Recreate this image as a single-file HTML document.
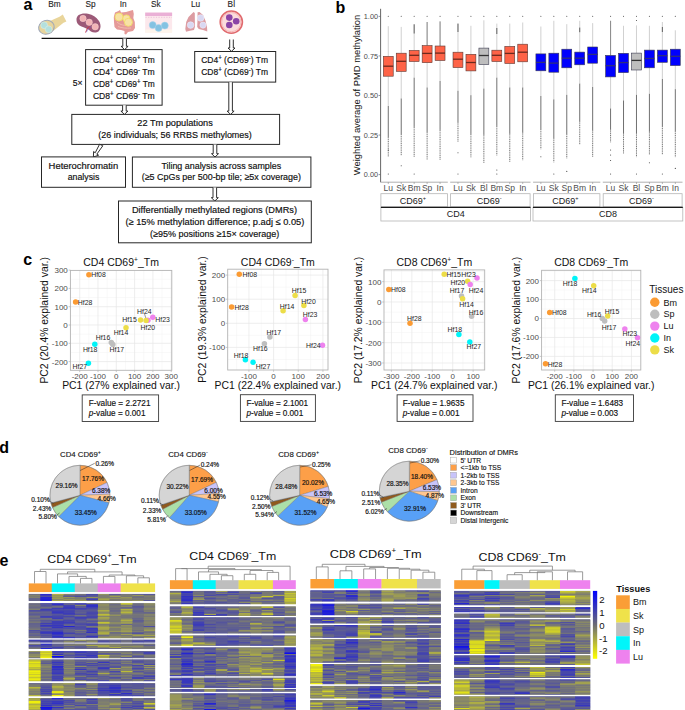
<!DOCTYPE html>
<html><head><meta charset="utf-8"><title>Figure</title>
<style>
html,body{margin:0;padding:0;background:#fff;overflow:hidden;}
svg{display:block;}
text{font-family:"Liberation Sans",sans-serif;}
</style></head><body>
<svg width="685" height="710" viewBox="0 0 685 710">
<rect width="685" height="710" fill="#fff"/>
<text x="23.60" y="9.90" font-size="16" font-weight="bold" fill="#000">a</text>
<text x="54.50" y="7.00" font-size="8.3" text-anchor="middle" fill="#222" stroke="#222" stroke-width="0.1">Bm</text>
<text x="90.50" y="7.00" font-size="8.3" text-anchor="middle" fill="#222" stroke="#222" stroke-width="0.1">Sp</text>
<text x="123.20" y="7.00" font-size="8.3" text-anchor="middle" fill="#222" stroke="#222" stroke-width="0.1">In</text>
<text x="155.80" y="7.00" font-size="8.3" text-anchor="middle" fill="#222" stroke="#222" stroke-width="0.1">Sk</text>
<text x="195.50" y="7.00" font-size="8.3" text-anchor="middle" fill="#222" stroke="#222" stroke-width="0.1">Lu</text>
<text x="231.30" y="7.00" font-size="8.3" text-anchor="middle" fill="#222" stroke="#222" stroke-width="0.1">Bl</text>
<g><path d="M46.5,22.5 L59.5,16.8 L62.8,14.6 L66.4,21.6 L63.5,22.8 L53.5,30.8 Z" fill="#e9d59b"/><ellipse cx="46.4" cy="27.3" rx="7.9" ry="6.8" transform="rotate(-18 46.4 27.3)" fill="#e7d49c" stroke="#9fa8b8" stroke-width="1"/><circle cx="44.2" cy="25.3" r="3.4" fill="#b4e0dd" stroke="#d8f0ee" stroke-width="0.5"/><circle cx="48.6" cy="29.3" r="3.4" fill="#b4e0dd" stroke="#d8f0ee" stroke-width="0.5"/></g>
<g><path d="M76.5,20 C76,14.5 82,12.6 88,13.8 C93,14.8 96,17 99,21 C102,25.5 100.5,32 96,32.5 C92,33 90,30.5 88,29.2 C85,27.5 82,27.2 79.5,25.5 C77.3,24 76.6,22 76.5,20 Z" fill="#9c5a78"/><circle cx="83" cy="18.5" r="3.2" fill="#f2b4b6" stroke="#f7d0d0" stroke-width="0.5"/><circle cx="89.2" cy="22.3" r="3.2" fill="#f2b4b6" stroke="#f7d0d0" stroke-width="0.5"/><circle cx="95.2" cy="26.8" r="3.2" fill="#f2b4b6" stroke="#f7d0d0" stroke-width="0.5"/><path d="M85.5,32.5 L87.5,28 L89.5,26.5 M87.5,28 L90.5,28.2" stroke="#d03a3a" stroke-width="0.9" fill="none"/><path d="M86.3,32.3 L88.3,28.4 L91,27" stroke="#6a5acd" stroke-width="0.6" fill="none"/></g>
<g><path d="M115,12.5 L118.5,11 L120,10 L121,12.5 L126,12 L131,10.5 L133,10 L133.8,14 L133.3,18 L134.8,22 L135,28 L133,31 L128,32 L126,34.5 L124.5,34 L124.5,31 L121,30 L117,29.5 L114.5,27 L114,22 L113.8,17 Z" fill="#e59a98"/><path d="M117,22 C120,25 125,26 130,25 M118,26.5 C122,28 126,28.5 131,28" stroke="#f2bcb0" stroke-width="1" fill="none"/><circle cx="119" cy="17" r="4" fill="#f8e2a6" stroke="#f0dc68" stroke-width="0.9"/><circle cx="126.4" cy="18.5" r="3.6" fill="#f8e2a6" stroke="#f0dc68" stroke-width="0.9"/><circle cx="128.4" cy="22.3" r="4" fill="#f8e2a6" stroke="#f0dc68" stroke-width="0.9"/></g>
<g><rect x="145.2" y="12.6" width="26.9" height="20" fill="#fce8ec"/><rect x="145.2" y="29.5" width="26.9" height="3.1" fill="#fdf5ec"/><rect x="145.2" y="12.6" width="26.9" height="3.4" fill="#eab0d6"/><line x1="145.5" y1="17.3" x2="172" y2="17.3" stroke="#e3a6cf" stroke-width="0.6" stroke-dasharray="1.2,1.4"/><circle cx="152.7" cy="25.1" r="3.5" fill="#84c2e2" stroke="#a8d4ec" stroke-width="0.5"/><circle cx="158.6" cy="27.9" r="3.5" fill="#84c2e2" stroke="#a8d4ec" stroke-width="0.5"/><circle cx="164.8" cy="25.6" r="3.5" fill="#84c2e2" stroke="#a8d4ec" stroke-width="0.5"/></g>
<g><path d="M193.5,12 L194.8,13 L194.9,27 L194,30 L190,30.8 L186,31.8 L185.3,29 L186.2,22 L188.5,17 Z" fill="#dc9ca2"/><path d="M197.6,12.3 L199.5,12 L203,15 L205.6,21 L207,27 L207.3,31.5 L203,30 L198.8,29 L197.2,27 L197.5,20 Z" fill="#dc9ca2"/><circle cx="190.6" cy="25.1" r="3.3" fill="#d9d8f2" stroke="#ecebf8" stroke-width="0.6"/><circle cx="200.7" cy="18" r="3.3" fill="#d9d8f2" stroke="#ecebf8" stroke-width="0.6"/><circle cx="203" cy="25.1" r="3.1" fill="#d9d8f2" stroke="#ecebf8" stroke-width="0.6"/></g>
<g><circle cx="231.3" cy="22.1" r="11.1" fill="#fbdcdc" stroke="#e06a6e" stroke-width="1.6"/><circle cx="231.3" cy="22.1" r="9.6" fill="none" stroke="#f4b0b0" stroke-width="0.8"/><circle cx="229.3" cy="17.6" r="3.3" fill="#8a44a6"/><circle cx="236.2" cy="21.3" r="3.3" fill="#8a44a6"/><circle cx="229.3" cy="25" r="3.3" fill="#8a44a6"/></g>
<line x1="41.6" y1="38.4" x2="207.6" y2="38.4" stroke="#111" stroke-width="1.1"/>
<path d="M122.80,38.60 L122.80,46.30 L121.10,46.30 L124.60,49.60 L128.10,46.30 L126.40,46.30 L126.40,38.60" fill="#fff" stroke="#1a1a1a" stroke-width="0.9" stroke-linejoin="miter"/>
<path d="M229.70,39.50 L229.70,48.00 L228.00,48.00 L231.50,51.30 L235.00,48.00 L233.30,48.00 L233.30,39.50" fill="#fff" stroke="#1a1a1a" stroke-width="0.9" stroke-linejoin="miter"/>
<rect x="85.6" y="49.6" width="76.5" height="55.6" fill="#fff" stroke="#262626" stroke-width="1"/>
<text x="92.90" y="62.50" font-size="9.3" fill="#111" stroke="#111" stroke-width="0.18" textLength="61.90" lengthAdjust="spacingAndGlyphs"><tspan>CD4</tspan><tspan font-size="6.70" baseline-shift="2.79">+</tspan><tspan> CD69</tspan><tspan font-size="6.70" baseline-shift="2.79">+</tspan><tspan> Tm</tspan></text>
<text x="92.90" y="74.55" font-size="9.3" fill="#111" stroke="#111" stroke-width="0.18" textLength="61.90" lengthAdjust="spacingAndGlyphs"><tspan>CD4</tspan><tspan font-size="6.70" baseline-shift="2.79">+</tspan><tspan> CD69</tspan><tspan font-size="6.70" baseline-shift="2.79">-</tspan><tspan> Tm</tspan></text>
<text x="92.90" y="86.60" font-size="9.3" fill="#111" stroke="#111" stroke-width="0.18" textLength="61.90" lengthAdjust="spacingAndGlyphs"><tspan>CD8</tspan><tspan font-size="6.70" baseline-shift="2.79">+</tspan><tspan> CD69</tspan><tspan font-size="6.70" baseline-shift="2.79">+</tspan><tspan> Tm</tspan></text>
<text x="92.90" y="98.65" font-size="9.3" fill="#111" stroke="#111" stroke-width="0.18" textLength="61.90" lengthAdjust="spacingAndGlyphs"><tspan>CD8</tspan><tspan font-size="6.70" baseline-shift="2.79">+</tspan><tspan> CD69</tspan><tspan font-size="6.70" baseline-shift="2.79">-</tspan><tspan> Tm</tspan></text>
<text x="72.70" y="86.30" font-size="9.3" fill="#111" stroke="#111" stroke-width="0.18" textLength="9.80" lengthAdjust="spacingAndGlyphs">5×</text>
<rect x="194.7" y="51.5" width="81" height="30.6" fill="#fff" stroke="#262626" stroke-width="1"/>
<text x="201.20" y="63.10" font-size="9.3" fill="#111" stroke="#111" stroke-width="0.18" textLength="66.80" lengthAdjust="spacingAndGlyphs"><tspan>CD4</tspan><tspan font-size="6.70" baseline-shift="2.79">+</tspan><tspan> (CD69</tspan><tspan font-size="6.70" baseline-shift="2.79">-</tspan><tspan>) Tm</tspan></text>
<text x="201.20" y="75.20" font-size="9.3" fill="#111" stroke="#111" stroke-width="0.18" textLength="66.80" lengthAdjust="spacingAndGlyphs"><tspan>CD8</tspan><tspan font-size="6.70" baseline-shift="2.79">+</tspan><tspan> (CD69</tspan><tspan font-size="6.70" baseline-shift="2.79">-</tspan><tspan>) Tm</tspan></text>
<path d="M122.60,105.30 L122.60,111.10 L120.90,111.10 L124.40,114.40 L127.90,111.10 L126.20,111.10 L126.20,105.30" fill="#fff" stroke="#1a1a1a" stroke-width="0.9" stroke-linejoin="miter"/>
<path d="M228.80,82.20 L228.80,111.10 L227.10,111.10 L230.60,114.40 L234.10,111.10 L232.40,111.10 L232.40,82.20" fill="#fff" stroke="#1a1a1a" stroke-width="0.9" stroke-linejoin="miter"/>
<rect x="71.8" y="114.4" width="207.8" height="30" fill="#fff" stroke="#262626" stroke-width="1"/>
<text x="137.30" y="126.20" font-size="9.3" fill="#111" stroke="#111" stroke-width="0.18" textLength="75.50" lengthAdjust="spacingAndGlyphs">22 Tm populations</text>
<text x="98.30" y="137.80" font-size="9.3" fill="#111" stroke="#111" stroke-width="0.18" textLength="153.50" lengthAdjust="spacingAndGlyphs">(26 individuals; 56 RRBS methylomes)</text>
<path d="M99.6,144.2 L102.8,145.8 L96.8,154.2 L98.6,155.2 L93.4,157 L93.6,151.5 L95.2,152.8 Z" fill="#fff" stroke="#1a1a1a" stroke-width="0.9"/>
<path d="M213.20,144.60 L213.20,153.70 L211.50,153.70 L215.00,157.00 L218.50,153.70 L216.80,153.70 L216.80,144.60" fill="#fff" stroke="#1a1a1a" stroke-width="0.9" stroke-linejoin="miter"/>
<rect x="41.5" y="156.9" width="84" height="30.4" fill="#fff" stroke="#262626" stroke-width="1"/>
<text x="48.60" y="168.50" font-size="9.3" fill="#111" stroke="#111" stroke-width="0.18" textLength="69.60" lengthAdjust="spacingAndGlyphs">Heterochromatin</text>
<text x="67.70" y="180.10" font-size="9.3" fill="#111" stroke="#111" stroke-width="0.18" textLength="31.70" lengthAdjust="spacingAndGlyphs">analysis</text>
<rect x="132.4" y="157.0" width="178.5" height="30.3" fill="#fff" stroke="#262626" stroke-width="1"/>
<text x="161.40" y="168.50" font-size="9.3" fill="#111" stroke="#111" stroke-width="0.18" textLength="119.80" lengthAdjust="spacingAndGlyphs">Tiling analysis across samples</text>
<text x="141.70" y="180.10" font-size="9.3" fill="#111" stroke="#111" stroke-width="0.18" textLength="159.30" lengthAdjust="spacingAndGlyphs">(≥5 CpGs per 500-bp tile; ≥5x coverage)</text>
<path d="M213.00,187.50 L213.00,197.70 L211.30,197.70 L214.80,201.00 L218.30,197.70 L216.60,197.70 L216.60,187.50" fill="#fff" stroke="#1a1a1a" stroke-width="0.9" stroke-linejoin="miter"/>
<rect x="118.5" y="201.0" width="192.8" height="41.8" fill="#fff" stroke="#262626" stroke-width="1"/>
<text x="131.90" y="213.20" font-size="9.3" fill="#111" stroke="#111" stroke-width="0.18" textLength="165.10" lengthAdjust="spacingAndGlyphs">Differentially methylated regions (DMRs)</text>
<text x="125.40" y="225.00" font-size="9.3" fill="#111" stroke="#111" stroke-width="0.18" textLength="178.90" lengthAdjust="spacingAndGlyphs">(≥ 15% methylation difference; p.adj ≤ 0.05)</text>
<text x="150.00" y="236.70" font-size="9.3" fill="#111" stroke="#111" stroke-width="0.18" textLength="129.20" lengthAdjust="spacingAndGlyphs">(≥95% positions ≥15× coverage)</text>
<text x="335.60" y="12.70" font-size="16" font-weight="bold" fill="#000">b</text>
<line x1="380.6" y1="8.8" x2="380.6" y2="182.2" stroke="#555" stroke-width="0.9"/>
<line x1="378.6" y1="16.40" x2="380.6" y2="16.40" stroke="#666" stroke-width="0.7"/>
<text x="378.00" y="19.05" font-size="7.3" text-anchor="end" fill="#4d4d4d">1.00</text>
<line x1="378.6" y1="55.95" x2="380.6" y2="55.95" stroke="#666" stroke-width="0.7"/>
<text x="378.00" y="58.60" font-size="7.3" text-anchor="end" fill="#4d4d4d">0.75</text>
<line x1="378.6" y1="95.50" x2="380.6" y2="95.50" stroke="#666" stroke-width="0.7"/>
<text x="378.00" y="98.15" font-size="7.3" text-anchor="end" fill="#4d4d4d">0.50</text>
<line x1="378.6" y1="135.05" x2="380.6" y2="135.05" stroke="#666" stroke-width="0.7"/>
<text x="378.00" y="137.70" font-size="7.3" text-anchor="end" fill="#4d4d4d">0.25</text>
<line x1="378.6" y1="174.60" x2="380.6" y2="174.60" stroke="#666" stroke-width="0.7"/>
<text x="378.00" y="177.25" font-size="7.3" text-anchor="end" fill="#4d4d4d">0.00</text>
<text transform="translate(359.6,95) rotate(-90)" x="0" y="0" font-size="9.4" text-anchor="middle" fill="#111">Weighted average of PMD methylation</text>
<line x1="380.50" y1="182.2" x2="447.80" y2="182.2" stroke="#9a9a9a" stroke-width="0.8"/>
<circle cx="388.27" cy="16.3" r="0.55" fill="#444"/>
<circle cx="388.27" cy="174.00" r="0.55" fill="#444"/>
<circle cx="388.27" cy="150.00" r="0.55" fill="#444"/>
<line x1="388.27" y1="26.20" x2="388.27" y2="56.30" stroke="#b0b0b0" stroke-width="0.6"/>
<line x1="388.27" y1="76.20" x2="388.27" y2="106.00" stroke="#b0b0b0" stroke-width="0.6"/>
<line x1="388.27" y1="106.00" x2="388.27" y2="137.31" stroke="#404040" stroke-width="0.75"/>
<line x1="388.27" y1="137.31" x2="388.27" y2="156.50" stroke="#404040" stroke-width="0.75" stroke-dasharray="1.1,0.7"/>
<rect x="383.32" y="56.30" width="9.90" height="19.90" fill="#fe6347" stroke="#5a3a35" stroke-width="0.6"/>
<line x1="383.32" y1="66.20" x2="393.22" y2="66.20" stroke="#6b2a1e" stroke-width="1.3"/>
<line x1="388.27" y1="182.2" x2="388.27" y2="184.0" stroke="#888" stroke-width="0.6"/>
<text x="388.27" y="191.40" font-size="8.5" text-anchor="middle" fill="#4d4d4d">Lu</text>
<circle cx="401.22" cy="16.3" r="0.55" fill="#444"/>
<circle cx="401.22" cy="165.70" r="0.55" fill="#444"/>
<line x1="401.22" y1="26.90" x2="401.22" y2="53.20" stroke="#b0b0b0" stroke-width="0.6"/>
<line x1="401.22" y1="71.40" x2="401.22" y2="98.50" stroke="#b0b0b0" stroke-width="0.6"/>
<line x1="401.22" y1="98.50" x2="401.22" y2="134.03" stroke="#404040" stroke-width="0.75"/>
<line x1="401.22" y1="134.03" x2="401.22" y2="155.80" stroke="#404040" stroke-width="0.75" stroke-dasharray="1.1,0.7"/>
<rect x="396.27" y="53.20" width="9.90" height="18.20" fill="#fe6347" stroke="#5a3a35" stroke-width="0.6"/>
<line x1="396.27" y1="61.30" x2="406.17" y2="61.30" stroke="#6b2a1e" stroke-width="1.3"/>
<line x1="401.22" y1="182.2" x2="401.22" y2="184.0" stroke="#888" stroke-width="0.6"/>
<text x="401.22" y="191.40" font-size="8.5" text-anchor="middle" fill="#4d4d4d">Sk</text>
<circle cx="414.17" cy="16.3" r="0.55" fill="#444"/>
<circle cx="414.17" cy="174.00" r="0.55" fill="#444"/>
<line x1="414.17" y1="24.30" x2="414.17" y2="50.40" stroke="#b0b0b0" stroke-width="0.6"/>
<line x1="414.17" y1="61.50" x2="414.17" y2="77.70" stroke="#b0b0b0" stroke-width="0.6"/>
<line x1="414.17" y1="24.30" x2="414.17" y2="33.50" stroke="#555" stroke-width="0.9"/>
<line x1="414.17" y1="77.70" x2="414.17" y2="126.87" stroke="#404040" stroke-width="0.75"/>
<line x1="414.17" y1="126.87" x2="414.17" y2="157.00" stroke="#404040" stroke-width="0.75" stroke-dasharray="1.1,0.7"/>
<rect x="409.22" y="50.40" width="9.90" height="11.10" fill="#fe6347" stroke="#5a3a35" stroke-width="0.6"/>
<line x1="409.22" y1="55.30" x2="419.12" y2="55.30" stroke="#6b2a1e" stroke-width="1.3"/>
<line x1="414.17" y1="182.2" x2="414.17" y2="184.0" stroke="#888" stroke-width="0.6"/>
<text x="414.17" y="191.40" font-size="8.5" text-anchor="middle" fill="#4d4d4d">Bm</text>
<circle cx="427.12" cy="16.3" r="0.55" fill="#444"/>
<line x1="427.12" y1="22.00" x2="427.12" y2="45.60" stroke="#b0b0b0" stroke-width="0.6"/>
<line x1="427.12" y1="62.70" x2="427.12" y2="87.50" stroke="#b0b0b0" stroke-width="0.6"/>
<line x1="427.12" y1="22.00" x2="427.12" y2="45.60" stroke="#6a6a6a" stroke-width="0.7"/>
<line x1="427.12" y1="87.50" x2="427.12" y2="132.33" stroke="#404040" stroke-width="0.75"/>
<line x1="427.12" y1="132.33" x2="427.12" y2="159.80" stroke="#404040" stroke-width="0.75" stroke-dasharray="1.1,0.7"/>
<rect x="422.17" y="45.60" width="9.90" height="17.10" fill="#fe6347" stroke="#5a3a35" stroke-width="0.6"/>
<line x1="422.17" y1="53.40" x2="432.07" y2="53.40" stroke="#6b2a1e" stroke-width="1.3"/>
<line x1="427.12" y1="182.2" x2="427.12" y2="184.0" stroke="#888" stroke-width="0.6"/>
<text x="427.12" y="191.40" font-size="8.5" text-anchor="middle" fill="#4d4d4d">Sp</text>
<circle cx="440.07" cy="16.3" r="0.55" fill="#444"/>
<line x1="440.07" y1="21.40" x2="440.07" y2="46.00" stroke="#b0b0b0" stroke-width="0.6"/>
<line x1="440.07" y1="60.50" x2="440.07" y2="81.00" stroke="#b0b0b0" stroke-width="0.6"/>
<line x1="440.07" y1="21.40" x2="440.07" y2="46.00" stroke="#6a6a6a" stroke-width="0.7"/>
<line x1="440.07" y1="81.00" x2="440.07" y2="129.86" stroke="#404040" stroke-width="0.75"/>
<line x1="440.07" y1="129.86" x2="440.07" y2="159.80" stroke="#404040" stroke-width="0.75" stroke-dasharray="1.1,0.7"/>
<rect x="435.12" y="46.00" width="9.90" height="14.50" fill="#fe6347" stroke="#5a3a35" stroke-width="0.6"/>
<line x1="435.12" y1="53.10" x2="445.02" y2="53.10" stroke="#6b2a1e" stroke-width="1.3"/>
<line x1="440.07" y1="182.2" x2="440.07" y2="184.0" stroke="#888" stroke-width="0.6"/>
<text x="440.07" y="191.40" font-size="8.5" text-anchor="middle" fill="#4d4d4d">In</text>
<rect x="380.90" y="193.7" width="66.50" height="13.1" fill="#fff" stroke="#b5b5b5" stroke-width="0.8"/>
<text x="412.95" y="204.2" font-size="9" text-anchor="middle" fill="#1a1a1a">CD69<tspan font-size="5.6" baseline-shift="3.6">+</tspan></text>
<line x1="450.20" y1="182.2" x2="530.50" y2="182.2" stroke="#9a9a9a" stroke-width="0.8"/>
<circle cx="457.97" cy="16.3" r="0.55" fill="#444"/>
<circle cx="457.97" cy="152.80" r="0.55" fill="#444"/>
<circle cx="457.97" cy="174.00" r="0.55" fill="#444"/>
<line x1="457.97" y1="23.60" x2="457.97" y2="52.20" stroke="#b0b0b0" stroke-width="0.6"/>
<line x1="457.97" y1="67.60" x2="457.97" y2="90.80" stroke="#b0b0b0" stroke-width="0.6"/>
<line x1="457.97" y1="23.60" x2="457.97" y2="32.00" stroke="#555" stroke-width="0.9"/>
<line x1="457.97" y1="90.80" x2="457.97" y2="122.54" stroke="#404040" stroke-width="0.75"/>
<line x1="457.97" y1="122.54" x2="457.97" y2="142.00" stroke="#404040" stroke-width="0.75" stroke-dasharray="1.1,0.7"/>
<rect x="453.02" y="52.20" width="9.90" height="15.40" fill="#fe6347" stroke="#5a3a35" stroke-width="0.6"/>
<line x1="453.02" y1="59.20" x2="462.92" y2="59.20" stroke="#6b2a1e" stroke-width="1.3"/>
<line x1="457.97" y1="182.2" x2="457.97" y2="184.0" stroke="#888" stroke-width="0.6"/>
<text x="457.97" y="191.40" font-size="8.5" text-anchor="middle" fill="#4d4d4d">Lu</text>
<circle cx="470.92" cy="16.3" r="0.55" fill="#444"/>
<line x1="470.92" y1="25.80" x2="470.92" y2="54.30" stroke="#b0b0b0" stroke-width="0.6"/>
<line x1="470.92" y1="70.90" x2="470.92" y2="95.20" stroke="#b0b0b0" stroke-width="0.6"/>
<line x1="470.92" y1="95.20" x2="470.92" y2="133.89" stroke="#404040" stroke-width="0.75"/>
<line x1="470.92" y1="133.89" x2="470.92" y2="157.60" stroke="#404040" stroke-width="0.75" stroke-dasharray="1.1,0.7"/>
<rect x="465.97" y="54.30" width="9.90" height="16.60" fill="#fe6347" stroke="#5a3a35" stroke-width="0.6"/>
<line x1="465.97" y1="62.50" x2="475.87" y2="62.50" stroke="#6b2a1e" stroke-width="1.3"/>
<line x1="470.92" y1="182.2" x2="470.92" y2="184.0" stroke="#888" stroke-width="0.6"/>
<text x="470.92" y="191.40" font-size="8.5" text-anchor="middle" fill="#4d4d4d">Sk</text>
<circle cx="483.87" cy="16.3" r="0.55" fill="#444"/>
<line x1="483.87" y1="20.30" x2="483.87" y2="48.10" stroke="#b0b0b0" stroke-width="0.6"/>
<line x1="483.87" y1="64.60" x2="483.87" y2="88.60" stroke="#b0b0b0" stroke-width="0.6"/>
<line x1="483.87" y1="88.60" x2="483.87" y2="134.73" stroke="#404040" stroke-width="0.75"/>
<line x1="483.87" y1="134.73" x2="483.87" y2="163.00" stroke="#404040" stroke-width="0.75" stroke-dasharray="1.1,0.7"/>
<rect x="478.92" y="48.10" width="9.90" height="16.50" fill="#bebebe" stroke="#3a3a50" stroke-width="0.6"/>
<line x1="478.92" y1="55.50" x2="488.82" y2="55.50" stroke="#333" stroke-width="1.3"/>
<line x1="483.87" y1="182.2" x2="483.87" y2="184.0" stroke="#888" stroke-width="0.6"/>
<text x="483.87" y="191.40" font-size="8.5" text-anchor="middle" fill="#4d4d4d">Bl</text>
<circle cx="496.82" cy="16.3" r="0.55" fill="#444"/>
<circle cx="496.82" cy="170.00" r="0.55" fill="#444"/>
<circle cx="496.82" cy="174.00" r="0.55" fill="#444"/>
<line x1="496.82" y1="23.60" x2="496.82" y2="50.20" stroke="#b0b0b0" stroke-width="0.6"/>
<line x1="496.82" y1="61.50" x2="496.82" y2="77.70" stroke="#b0b0b0" stroke-width="0.6"/>
<line x1="496.82" y1="28.00" x2="496.82" y2="34.00" stroke="#555" stroke-width="0.9"/>
<line x1="496.82" y1="77.70" x2="496.82" y2="125.87" stroke="#404040" stroke-width="0.75"/>
<line x1="496.82" y1="125.87" x2="496.82" y2="155.40" stroke="#404040" stroke-width="0.75" stroke-dasharray="1.1,0.7"/>
<rect x="491.87" y="50.20" width="9.90" height="11.30" fill="#fe6347" stroke="#5a3a35" stroke-width="0.6"/>
<line x1="491.87" y1="55.30" x2="501.77" y2="55.30" stroke="#6b2a1e" stroke-width="1.3"/>
<line x1="496.82" y1="182.2" x2="496.82" y2="184.0" stroke="#888" stroke-width="0.6"/>
<text x="496.82" y="191.40" font-size="8.5" text-anchor="middle" fill="#4d4d4d">Bm</text>
<circle cx="509.77" cy="16.3" r="0.55" fill="#444"/>
<line x1="509.77" y1="23.60" x2="509.77" y2="46.40" stroke="#b0b0b0" stroke-width="0.6"/>
<line x1="509.77" y1="63.50" x2="509.77" y2="87.50" stroke="#b0b0b0" stroke-width="0.6"/>
<line x1="509.77" y1="87.50" x2="509.77" y2="133.69" stroke="#404040" stroke-width="0.75"/>
<line x1="509.77" y1="133.69" x2="509.77" y2="162.00" stroke="#404040" stroke-width="0.75" stroke-dasharray="1.1,0.7"/>
<rect x="504.82" y="46.40" width="9.90" height="17.10" fill="#fe6347" stroke="#5a3a35" stroke-width="0.6"/>
<line x1="504.82" y1="53.40" x2="514.72" y2="53.40" stroke="#6b2a1e" stroke-width="1.3"/>
<line x1="509.77" y1="182.2" x2="509.77" y2="184.0" stroke="#888" stroke-width="0.6"/>
<text x="509.77" y="191.40" font-size="8.5" text-anchor="middle" fill="#4d4d4d">Sp</text>
<circle cx="522.72" cy="16.3" r="0.55" fill="#444"/>
<line x1="522.72" y1="22.50" x2="522.72" y2="44.20" stroke="#b0b0b0" stroke-width="0.6"/>
<line x1="522.72" y1="61.80" x2="522.72" y2="87.50" stroke="#b0b0b0" stroke-width="0.6"/>
<line x1="522.72" y1="87.50" x2="522.72" y2="132.57" stroke="#404040" stroke-width="0.75"/>
<line x1="522.72" y1="132.57" x2="522.72" y2="160.20" stroke="#404040" stroke-width="0.75" stroke-dasharray="1.1,0.7"/>
<rect x="517.77" y="44.20" width="9.90" height="17.60" fill="#fe6347" stroke="#5a3a35" stroke-width="0.6"/>
<line x1="517.77" y1="52.20" x2="527.67" y2="52.20" stroke="#6b2a1e" stroke-width="1.3"/>
<line x1="522.72" y1="182.2" x2="522.72" y2="184.0" stroke="#888" stroke-width="0.6"/>
<text x="522.72" y="191.40" font-size="8.5" text-anchor="middle" fill="#4d4d4d">In</text>
<rect x="450.60" y="193.7" width="79.50" height="13.1" fill="#fff" stroke="#b5b5b5" stroke-width="0.8"/>
<text x="489.15" y="204.2" font-size="9" text-anchor="middle" fill="#1a1a1a">CD69<tspan font-size="5.6" baseline-shift="3.6">-</tspan></text>
<line x1="533.10" y1="182.2" x2="600.30" y2="182.2" stroke="#9a9a9a" stroke-width="0.8"/>
<circle cx="540.87" cy="16.3" r="0.55" fill="#444"/>
<circle cx="540.87" cy="156.70" r="0.55" fill="#444"/>
<line x1="540.87" y1="26.50" x2="540.87" y2="53.90" stroke="#b0b0b0" stroke-width="0.6"/>
<line x1="540.87" y1="70.80" x2="540.87" y2="96.00" stroke="#b0b0b0" stroke-width="0.6"/>
<line x1="540.87" y1="96.00" x2="540.87" y2="128.98" stroke="#404040" stroke-width="0.75"/>
<line x1="540.87" y1="128.98" x2="540.87" y2="149.20" stroke="#404040" stroke-width="0.75" stroke-dasharray="1.1,0.7"/>
<rect x="535.92" y="53.90" width="9.90" height="16.90" fill="#0000fe" stroke="#3a3a50" stroke-width="0.6"/>
<line x1="535.92" y1="62.40" x2="545.82" y2="62.40" stroke="#30307a" stroke-width="1.3"/>
<line x1="540.87" y1="182.2" x2="540.87" y2="184.0" stroke="#888" stroke-width="0.6"/>
<text x="540.87" y="191.40" font-size="8.5" text-anchor="middle" fill="#4d4d4d">Lu</text>
<circle cx="553.82" cy="16.3" r="0.55" fill="#444"/>
<circle cx="553.82" cy="174.00" r="0.55" fill="#444"/>
<line x1="553.82" y1="20.80" x2="553.82" y2="53.20" stroke="#b0b0b0" stroke-width="0.6"/>
<line x1="553.82" y1="72.20" x2="553.82" y2="99.40" stroke="#b0b0b0" stroke-width="0.6"/>
<line x1="553.82" y1="99.40" x2="553.82" y2="138.40" stroke="#404040" stroke-width="0.75"/>
<line x1="553.82" y1="138.40" x2="553.82" y2="162.30" stroke="#404040" stroke-width="0.75" stroke-dasharray="1.1,0.7"/>
<rect x="548.87" y="53.20" width="9.90" height="19.00" fill="#0000fe" stroke="#3a3a50" stroke-width="0.6"/>
<line x1="548.87" y1="63.10" x2="558.77" y2="63.10" stroke="#30307a" stroke-width="1.3"/>
<line x1="553.82" y1="182.2" x2="553.82" y2="184.0" stroke="#888" stroke-width="0.6"/>
<text x="553.82" y="191.40" font-size="8.5" text-anchor="middle" fill="#4d4d4d">Sk</text>
<circle cx="566.77" cy="16.3" r="0.55" fill="#444"/>
<circle cx="566.77" cy="171.40" r="0.55" fill="#444"/>
<line x1="566.77" y1="24.20" x2="566.77" y2="49.20" stroke="#b0b0b0" stroke-width="0.6"/>
<line x1="566.77" y1="67.80" x2="566.77" y2="94.90" stroke="#b0b0b0" stroke-width="0.6"/>
<line x1="566.77" y1="94.90" x2="566.77" y2="134.21" stroke="#404040" stroke-width="0.75"/>
<line x1="566.77" y1="134.21" x2="566.77" y2="158.30" stroke="#404040" stroke-width="0.75" stroke-dasharray="1.1,0.7"/>
<rect x="561.82" y="49.20" width="9.90" height="18.60" fill="#0000fe" stroke="#3a3a50" stroke-width="0.6"/>
<line x1="561.82" y1="58.20" x2="571.72" y2="58.20" stroke="#30307a" stroke-width="1.3"/>
<line x1="566.77" y1="182.2" x2="566.77" y2="184.0" stroke="#888" stroke-width="0.6"/>
<text x="566.77" y="191.40" font-size="8.5" text-anchor="middle" fill="#4d4d4d">Sp</text>
<circle cx="579.72" cy="16.3" r="0.55" fill="#444"/>
<line x1="579.72" y1="20.80" x2="579.72" y2="52.10" stroke="#b0b0b0" stroke-width="0.6"/>
<line x1="579.72" y1="64.80" x2="579.72" y2="83.60" stroke="#b0b0b0" stroke-width="0.6"/>
<line x1="579.72" y1="27.60" x2="579.72" y2="32.20" stroke="#555" stroke-width="0.9"/>
<line x1="579.72" y1="83.60" x2="579.72" y2="121.48" stroke="#404040" stroke-width="0.75"/>
<line x1="579.72" y1="121.48" x2="579.72" y2="144.70" stroke="#404040" stroke-width="0.75" stroke-dasharray="1.1,0.7"/>
<rect x="574.77" y="52.10" width="9.90" height="12.70" fill="#0000fe" stroke="#3a3a50" stroke-width="0.6"/>
<line x1="574.77" y1="58.20" x2="584.67" y2="58.20" stroke="#30307a" stroke-width="1.3"/>
<line x1="579.72" y1="182.2" x2="579.72" y2="184.0" stroke="#888" stroke-width="0.6"/>
<text x="579.72" y="191.40" font-size="8.5" text-anchor="middle" fill="#4d4d4d">Bm</text>
<circle cx="592.67" cy="16.3" r="0.55" fill="#444"/>
<line x1="592.67" y1="23.10" x2="592.67" y2="47.00" stroke="#b0b0b0" stroke-width="0.6"/>
<line x1="592.67" y1="63.20" x2="592.67" y2="87.00" stroke="#b0b0b0" stroke-width="0.6"/>
<line x1="592.67" y1="87.00" x2="592.67" y2="130.46" stroke="#404040" stroke-width="0.75"/>
<line x1="592.67" y1="130.46" x2="592.67" y2="157.10" stroke="#404040" stroke-width="0.75" stroke-dasharray="1.1,0.7"/>
<rect x="587.72" y="47.00" width="9.90" height="16.20" fill="#0000fe" stroke="#3a3a50" stroke-width="0.6"/>
<line x1="587.72" y1="54.40" x2="597.62" y2="54.40" stroke="#30307a" stroke-width="1.3"/>
<line x1="592.67" y1="182.2" x2="592.67" y2="184.0" stroke="#888" stroke-width="0.6"/>
<text x="592.67" y="191.40" font-size="8.5" text-anchor="middle" fill="#4d4d4d">In</text>
<rect x="533.50" y="193.7" width="66.40" height="13.1" fill="#fff" stroke="#b5b5b5" stroke-width="0.8"/>
<text x="565.50" y="204.2" font-size="9" text-anchor="middle" fill="#1a1a1a">CD69<tspan font-size="5.6" baseline-shift="3.6">+</tspan></text>
<line x1="602.80" y1="182.2" x2="682.50" y2="182.2" stroke="#9a9a9a" stroke-width="0.8"/>
<circle cx="610.57" cy="16.3" r="0.55" fill="#444"/>
<circle cx="610.57" cy="150.00" r="0.55" fill="#444"/>
<circle cx="610.57" cy="155.00" r="0.55" fill="#444"/>
<circle cx="610.57" cy="160.50" r="0.55" fill="#444"/>
<circle cx="610.57" cy="174.00" r="0.55" fill="#444"/>
<line x1="610.57" y1="20.80" x2="610.57" y2="55.40" stroke="#b0b0b0" stroke-width="0.6"/>
<line x1="610.57" y1="76.90" x2="610.57" y2="108.50" stroke="#b0b0b0" stroke-width="0.6"/>
<line x1="610.57" y1="20.80" x2="610.57" y2="55.40" stroke="#6a6a6a" stroke-width="0.7"/>
<line x1="610.57" y1="108.50" x2="610.57" y2="129.52" stroke="#404040" stroke-width="0.75"/>
<line x1="610.57" y1="129.52" x2="610.57" y2="142.40" stroke="#404040" stroke-width="0.75" stroke-dasharray="1.1,0.7"/>
<rect x="605.62" y="55.40" width="9.90" height="21.50" fill="#0000fe" stroke="#3a3a50" stroke-width="0.6"/>
<line x1="605.62" y1="65.70" x2="615.52" y2="65.70" stroke="#30307a" stroke-width="1.3"/>
<line x1="610.57" y1="182.2" x2="610.57" y2="184.0" stroke="#888" stroke-width="0.6"/>
<text x="610.57" y="191.40" font-size="8.5" text-anchor="middle" fill="#4d4d4d">Lu</text>
<circle cx="623.52" cy="16.3" r="0.55" fill="#444"/>
<line x1="623.52" y1="25.80" x2="623.52" y2="53.30" stroke="#b0b0b0" stroke-width="0.6"/>
<line x1="623.52" y1="72.60" x2="623.52" y2="100.50" stroke="#b0b0b0" stroke-width="0.6"/>
<line x1="623.52" y1="100.50" x2="623.52" y2="133.48" stroke="#404040" stroke-width="0.75"/>
<line x1="623.52" y1="133.48" x2="623.52" y2="153.70" stroke="#404040" stroke-width="0.75" stroke-dasharray="1.1,0.7"/>
<rect x="618.57" y="53.30" width="9.90" height="19.30" fill="#0000fe" stroke="#3a3a50" stroke-width="0.6"/>
<line x1="618.57" y1="62.60" x2="628.47" y2="62.60" stroke="#30307a" stroke-width="1.3"/>
<line x1="623.52" y1="182.2" x2="623.52" y2="184.0" stroke="#888" stroke-width="0.6"/>
<text x="623.52" y="191.40" font-size="8.5" text-anchor="middle" fill="#4d4d4d">Sk</text>
<circle cx="636.47" cy="16.3" r="0.55" fill="#444"/>
<circle cx="636.47" cy="174.00" r="0.55" fill="#444"/>
<circle cx="636.47" cy="20.50" r="0.55" fill="#444"/>
<line x1="636.47" y1="25.40" x2="636.47" y2="53.10" stroke="#b0b0b0" stroke-width="0.6"/>
<line x1="636.47" y1="70.00" x2="636.47" y2="94.90" stroke="#b0b0b0" stroke-width="0.6"/>
<line x1="636.47" y1="94.90" x2="636.47" y2="133.46" stroke="#404040" stroke-width="0.75"/>
<line x1="636.47" y1="133.46" x2="636.47" y2="157.10" stroke="#404040" stroke-width="0.75" stroke-dasharray="1.1,0.7"/>
<rect x="631.52" y="53.10" width="9.90" height="16.90" fill="#bebebe" stroke="#3a3a50" stroke-width="0.6"/>
<line x1="631.52" y1="60.40" x2="641.42" y2="60.40" stroke="#333" stroke-width="1.3"/>
<line x1="636.47" y1="182.2" x2="636.47" y2="184.0" stroke="#888" stroke-width="0.6"/>
<text x="636.47" y="191.40" font-size="8.5" text-anchor="middle" fill="#4d4d4d">Bl</text>
<circle cx="649.42" cy="16.3" r="0.55" fill="#444"/>
<circle cx="649.42" cy="162.80" r="0.55" fill="#444"/>
<line x1="649.42" y1="25.80" x2="649.42" y2="50.10" stroke="#b0b0b0" stroke-width="0.6"/>
<line x1="649.42" y1="67.80" x2="649.42" y2="93.80" stroke="#b0b0b0" stroke-width="0.6"/>
<line x1="649.42" y1="93.80" x2="649.42" y2="131.68" stroke="#404040" stroke-width="0.75"/>
<line x1="649.42" y1="131.68" x2="649.42" y2="154.90" stroke="#404040" stroke-width="0.75" stroke-dasharray="1.1,0.7"/>
<rect x="644.47" y="50.10" width="9.90" height="17.70" fill="#0000fe" stroke="#3a3a50" stroke-width="0.6"/>
<line x1="644.47" y1="58.50" x2="654.37" y2="58.50" stroke="#30307a" stroke-width="1.3"/>
<line x1="649.42" y1="182.2" x2="649.42" y2="184.0" stroke="#888" stroke-width="0.6"/>
<text x="649.42" y="191.40" font-size="8.5" text-anchor="middle" fill="#4d4d4d">Sp</text>
<circle cx="662.37" cy="16.3" r="0.55" fill="#444"/>
<circle cx="662.37" cy="174.00" r="0.55" fill="#444"/>
<line x1="662.37" y1="22.00" x2="662.37" y2="50.10" stroke="#b0b0b0" stroke-width="0.6"/>
<line x1="662.37" y1="62.30" x2="662.37" y2="79.00" stroke="#b0b0b0" stroke-width="0.6"/>
<line x1="662.37" y1="27.00" x2="662.37" y2="32.00" stroke="#555" stroke-width="0.9"/>
<line x1="662.37" y1="79.00" x2="662.37" y2="126.06" stroke="#404040" stroke-width="0.75"/>
<line x1="662.37" y1="126.06" x2="662.37" y2="154.90" stroke="#404040" stroke-width="0.75" stroke-dasharray="1.1,0.7"/>
<rect x="657.42" y="50.10" width="9.90" height="12.20" fill="#0000fe" stroke="#3a3a50" stroke-width="0.6"/>
<line x1="657.42" y1="55.70" x2="667.32" y2="55.70" stroke="#30307a" stroke-width="1.3"/>
<line x1="662.37" y1="182.2" x2="662.37" y2="184.0" stroke="#888" stroke-width="0.6"/>
<text x="662.37" y="191.40" font-size="8.5" text-anchor="middle" fill="#4d4d4d">Bm</text>
<circle cx="675.32" cy="16.3" r="0.55" fill="#444"/>
<circle cx="675.32" cy="168.40" r="0.55" fill="#444"/>
<line x1="675.32" y1="30.30" x2="675.32" y2="49.20" stroke="#b0b0b0" stroke-width="0.6"/>
<line x1="675.32" y1="65.60" x2="675.32" y2="89.20" stroke="#b0b0b0" stroke-width="0.6"/>
<line x1="675.32" y1="89.20" x2="675.32" y2="131.30" stroke="#404040" stroke-width="0.75"/>
<line x1="675.32" y1="131.30" x2="675.32" y2="157.10" stroke="#404040" stroke-width="0.75" stroke-dasharray="1.1,0.7"/>
<rect x="670.37" y="49.20" width="9.90" height="16.40" fill="#0000fe" stroke="#3a3a50" stroke-width="0.6"/>
<line x1="670.37" y1="56.30" x2="680.27" y2="56.30" stroke="#30307a" stroke-width="1.3"/>
<line x1="675.32" y1="182.2" x2="675.32" y2="184.0" stroke="#888" stroke-width="0.6"/>
<text x="675.32" y="191.40" font-size="8.5" text-anchor="middle" fill="#4d4d4d">In</text>
<rect x="603.20" y="193.7" width="78.90" height="13.1" fill="#fff" stroke="#b5b5b5" stroke-width="0.8"/>
<text x="641.45" y="204.2" font-size="9" text-anchor="middle" fill="#1a1a1a">CD69<tspan font-size="5.6" baseline-shift="3.6">-</tspan></text>
<rect x="380.90" y="207.4" width="149.60" height="13.6" fill="#fff" stroke="#b5b5b5" stroke-width="0.8"/>
<line x1="380.90" y1="207.4" x2="530.50" y2="207.4" stroke="#1a1a1a" stroke-width="1.2"/>
<text x="455.70" y="217.30" font-size="9" text-anchor="middle" fill="#1a1a1a">CD4</text>
<rect x="533.00" y="207.4" width="149.80" height="13.6" fill="#fff" stroke="#b5b5b5" stroke-width="0.8"/>
<line x1="533.00" y1="207.4" x2="682.80" y2="207.4" stroke="#1a1a1a" stroke-width="1.2"/>
<text x="607.90" y="217.30" font-size="9" text-anchor="middle" fill="#1a1a1a">CD8</text>
<text x="23.30" y="265.10" font-size="16" font-weight="bold" fill="#000">c</text>
<clipPath id="cp70"><rect x="70.4" y="270.4" width="101.4" height="99.90000000000003"/></clipPath>
<rect x="70.4" y="270.4" width="101.4" height="99.90000000000003" fill="#fff"/>
<g clip-path="url(#cp70)"><line x1="70.55" y1="270.4" x2="70.55" y2="370.3" stroke="#f2f2f2" stroke-width="0.5"/><line x1="88.85" y1="270.4" x2="88.85" y2="370.3" stroke="#f2f2f2" stroke-width="0.5"/><line x1="107.15" y1="270.4" x2="107.15" y2="370.3" stroke="#f2f2f2" stroke-width="0.5"/><line x1="125.45" y1="270.4" x2="125.45" y2="370.3" stroke="#f2f2f2" stroke-width="0.5"/><line x1="143.75" y1="270.4" x2="143.75" y2="370.3" stroke="#f2f2f2" stroke-width="0.5"/><line x1="162.05" y1="270.4" x2="162.05" y2="370.3" stroke="#f2f2f2" stroke-width="0.5"/><line x1="70.4" y1="352.45" x2="171.8" y2="352.45" stroke="#f2f2f2" stroke-width="0.5"/><line x1="70.4" y1="334.15" x2="171.8" y2="334.15" stroke="#f2f2f2" stroke-width="0.5"/><line x1="70.4" y1="315.85" x2="171.8" y2="315.85" stroke="#f2f2f2" stroke-width="0.5"/><line x1="70.4" y1="297.55" x2="171.8" y2="297.55" stroke="#f2f2f2" stroke-width="0.5"/><line x1="70.4" y1="279.25" x2="171.8" y2="279.25" stroke="#f2f2f2" stroke-width="0.5"/><line x1="79.70" y1="270.4" x2="79.70" y2="370.3" stroke="#e6e6e6" stroke-width="0.7"/><line x1="98.00" y1="270.4" x2="98.00" y2="370.3" stroke="#e6e6e6" stroke-width="0.7"/><line x1="116.30" y1="270.4" x2="116.30" y2="370.3" stroke="#e6e6e6" stroke-width="0.7"/><line x1="134.60" y1="270.4" x2="134.60" y2="370.3" stroke="#e6e6e6" stroke-width="0.7"/><line x1="152.90" y1="270.4" x2="152.90" y2="370.3" stroke="#e6e6e6" stroke-width="0.7"/><line x1="171.20" y1="270.4" x2="171.20" y2="370.3" stroke="#e6e6e6" stroke-width="0.7"/><line x1="70.4" y1="361.60" x2="171.8" y2="361.60" stroke="#e6e6e6" stroke-width="0.7"/><line x1="70.4" y1="343.30" x2="171.8" y2="343.30" stroke="#e6e6e6" stroke-width="0.7"/><line x1="70.4" y1="325.00" x2="171.8" y2="325.00" stroke="#e6e6e6" stroke-width="0.7"/><line x1="70.4" y1="306.70" x2="171.8" y2="306.70" stroke="#e6e6e6" stroke-width="0.7"/><line x1="70.4" y1="288.40" x2="171.8" y2="288.40" stroke="#e6e6e6" stroke-width="0.7"/><line x1="70.4" y1="270.10" x2="171.8" y2="270.10" stroke="#e6e6e6" stroke-width="0.7"/></g>
<rect x="70.4" y="270.4" width="101.4" height="99.90000000000003" fill="none" stroke="#b3b3b3" stroke-width="0.9"/>
<line x1="79.70" y1="370.3" x2="79.70" y2="372.1" stroke="#b3b3b3" stroke-width="0.7"/>
<text x="79.70" y="379.00" font-size="8" text-anchor="middle" fill="#4d4d4d">-200</text>
<line x1="98.00" y1="370.3" x2="98.00" y2="372.1" stroke="#b3b3b3" stroke-width="0.7"/>
<text x="98.00" y="379.00" font-size="8" text-anchor="middle" fill="#4d4d4d">-100</text>
<line x1="116.30" y1="370.3" x2="116.30" y2="372.1" stroke="#b3b3b3" stroke-width="0.7"/>
<text x="116.30" y="379.00" font-size="8" text-anchor="middle" fill="#4d4d4d">0</text>
<line x1="134.60" y1="370.3" x2="134.60" y2="372.1" stroke="#b3b3b3" stroke-width="0.7"/>
<text x="134.60" y="379.00" font-size="8" text-anchor="middle" fill="#4d4d4d">100</text>
<line x1="152.90" y1="370.3" x2="152.90" y2="372.1" stroke="#b3b3b3" stroke-width="0.7"/>
<text x="152.90" y="379.00" font-size="8" text-anchor="middle" fill="#4d4d4d">200</text>
<line x1="171.20" y1="370.3" x2="171.20" y2="372.1" stroke="#b3b3b3" stroke-width="0.7"/>
<text x="171.20" y="379.00" font-size="8" text-anchor="middle" fill="#4d4d4d">300</text>
<line x1="68.60000000000001" y1="361.60" x2="70.4" y2="361.60" stroke="#b3b3b3" stroke-width="0.7"/>
<text x="67.80" y="364.50" font-size="8" text-anchor="end" fill="#4d4d4d">-200</text>
<line x1="68.60000000000001" y1="343.30" x2="70.4" y2="343.30" stroke="#b3b3b3" stroke-width="0.7"/>
<text x="67.80" y="346.20" font-size="8" text-anchor="end" fill="#4d4d4d">-100</text>
<line x1="68.60000000000001" y1="325.00" x2="70.4" y2="325.00" stroke="#b3b3b3" stroke-width="0.7"/>
<text x="67.80" y="327.90" font-size="8" text-anchor="end" fill="#4d4d4d">0</text>
<line x1="68.60000000000001" y1="306.70" x2="70.4" y2="306.70" stroke="#b3b3b3" stroke-width="0.7"/>
<text x="67.80" y="309.60" font-size="8" text-anchor="end" fill="#4d4d4d">100</text>
<line x1="68.60000000000001" y1="288.40" x2="70.4" y2="288.40" stroke="#b3b3b3" stroke-width="0.7"/>
<text x="67.80" y="291.30" font-size="8" text-anchor="end" fill="#4d4d4d">200</text>
<line x1="68.60000000000001" y1="270.10" x2="70.4" y2="270.10" stroke="#b3b3b3" stroke-width="0.7"/>
<text x="67.80" y="273.00" font-size="8" text-anchor="end" fill="#4d4d4d">300</text>
<text x="121.10" y="265.5" font-size="10.5" text-anchor="middle" fill="#111">CD4 CD69<tspan font-size="6.6" baseline-shift="4">+</tspan>_Tm</text>
<text x="121.10" y="389.30" font-size="10.4" text-anchor="middle" fill="#111">PC1 (27% explained var.)</text>
<text transform="translate(48.30,320.35) rotate(-90)" font-size="10.4" text-anchor="middle" fill="#111">PC2 (20.4% explained var.)</text>
<line x1="144.5" y1="313.8" x2="146.1" y2="319.0" stroke="#333" stroke-width="0.5"/>
<circle cx="88.9" cy="274.7" r="2.75" fill="#fb9b33"/>
<circle cx="75.6" cy="302.1" r="2.75" fill="#fb9b33"/>
<circle cx="147.9" cy="320.2" r="2.75" fill="#ee82ee"/>
<circle cx="140.5" cy="320.1" r="2.75" fill="#ecdd48"/>
<circle cx="146.1" cy="320.4" r="2.75" fill="#ecdd48"/>
<circle cx="152.8" cy="317.2" r="2.75" fill="#ee82ee"/>
<circle cx="126.0" cy="327.8" r="2.75" fill="#ecdd48"/>
<circle cx="111.3" cy="342.4" r="2.75" fill="#bebebe"/>
<circle cx="112.8" cy="344.6" r="2.75" fill="#bebebe"/>
<circle cx="94.8" cy="344.3" r="2.75" fill="#00f4f8"/>
<circle cx="88.4" cy="363.2" r="2.75" fill="#00f4f8"/>
<text x="91.20" y="277.20" font-size="6.9" fill="#262626">Hf08</text>
<text x="77.80" y="305.00" font-size="6.9" fill="#262626">Hf28</text>
<text x="137.00" y="313.50" font-size="6.9" fill="#262626">Hf24</text>
<text x="122.20" y="321.50" font-size="6.9" fill="#262626">Hf15</text>
<text x="140.50" y="329.60" font-size="6.9" fill="#262626">Hf20</text>
<text x="155.30" y="322.00" font-size="6.9" fill="#262626">Hf23</text>
<text x="113.70" y="335.20" font-size="6.9" fill="#262626">Hf14</text>
<text x="95.70" y="339.80" font-size="6.9" fill="#262626">Hf16</text>
<text x="109.50" y="352.30" font-size="6.9" fill="#262626">Hf17</text>
<text x="82.90" y="351.70" font-size="6.9" fill="#262626">Hf18</text>
<text x="72.50" y="369.10" font-size="6.9" fill="#262626">Hf27</text>
<rect x="82.2" y="394.9" width="76.40" height="26.60" fill="#fff" stroke="#3a3a3a" stroke-width="0.9"/>
<text x="88.80" y="406.00" font-size="8.2" fill="#111" stroke="#111" stroke-width="0.15">F-value = 2.2721</text>
<text x="88.8" y="415.6" font-size="8.2" fill="#111" stroke="#111" stroke-width="0.15"><tspan font-style="italic">p</tspan>-value = 0.001</text>
<clipPath id="cp227"><rect x="227.7" y="269.2" width="100.30000000000001" height="100.80000000000001"/></clipPath>
<rect x="227.7" y="269.2" width="100.30000000000001" height="100.80000000000001" fill="#fff"/>
<g clip-path="url(#cp227)"><line x1="236.60" y1="269.2" x2="236.60" y2="370.0" stroke="#f2f2f2" stroke-width="0.5"/><line x1="261.27" y1="269.2" x2="261.27" y2="370.0" stroke="#f2f2f2" stroke-width="0.5"/><line x1="285.94" y1="269.2" x2="285.94" y2="370.0" stroke="#f2f2f2" stroke-width="0.5"/><line x1="310.61" y1="269.2" x2="310.61" y2="370.0" stroke="#f2f2f2" stroke-width="0.5"/><line x1="227.7" y1="359.45" x2="328.0" y2="359.45" stroke="#f2f2f2" stroke-width="0.5"/><line x1="227.7" y1="335.35" x2="328.0" y2="335.35" stroke="#f2f2f2" stroke-width="0.5"/><line x1="227.7" y1="311.25" x2="328.0" y2="311.25" stroke="#f2f2f2" stroke-width="0.5"/><line x1="227.7" y1="287.15" x2="328.0" y2="287.15" stroke="#f2f2f2" stroke-width="0.5"/><line x1="248.93" y1="269.2" x2="248.93" y2="370.0" stroke="#e6e6e6" stroke-width="0.7"/><line x1="273.60" y1="269.2" x2="273.60" y2="370.0" stroke="#e6e6e6" stroke-width="0.7"/><line x1="298.27" y1="269.2" x2="298.27" y2="370.0" stroke="#e6e6e6" stroke-width="0.7"/><line x1="322.94" y1="269.2" x2="322.94" y2="370.0" stroke="#e6e6e6" stroke-width="0.7"/><line x1="227.7" y1="347.40" x2="328.0" y2="347.40" stroke="#e6e6e6" stroke-width="0.7"/><line x1="227.7" y1="323.30" x2="328.0" y2="323.30" stroke="#e6e6e6" stroke-width="0.7"/><line x1="227.7" y1="299.20" x2="328.0" y2="299.20" stroke="#e6e6e6" stroke-width="0.7"/><line x1="227.7" y1="275.10" x2="328.0" y2="275.10" stroke="#e6e6e6" stroke-width="0.7"/></g>
<rect x="227.7" y="269.2" width="100.30000000000001" height="100.80000000000001" fill="none" stroke="#b3b3b3" stroke-width="0.9"/>
<line x1="248.93" y1="370.0" x2="248.93" y2="371.8" stroke="#b3b3b3" stroke-width="0.7"/>
<text x="248.93" y="379.00" font-size="8" text-anchor="middle" fill="#4d4d4d">-100</text>
<line x1="273.60" y1="370.0" x2="273.60" y2="371.8" stroke="#b3b3b3" stroke-width="0.7"/>
<text x="273.60" y="379.00" font-size="8" text-anchor="middle" fill="#4d4d4d">0</text>
<line x1="298.27" y1="370.0" x2="298.27" y2="371.8" stroke="#b3b3b3" stroke-width="0.7"/>
<text x="298.27" y="379.00" font-size="8" text-anchor="middle" fill="#4d4d4d">100</text>
<line x1="322.94" y1="370.0" x2="322.94" y2="371.8" stroke="#b3b3b3" stroke-width="0.7"/>
<text x="322.94" y="379.00" font-size="8" text-anchor="middle" fill="#4d4d4d">200</text>
<line x1="225.89999999999998" y1="347.40" x2="227.7" y2="347.40" stroke="#b3b3b3" stroke-width="0.7"/>
<text x="225.10" y="350.30" font-size="8" text-anchor="end" fill="#4d4d4d">-100</text>
<line x1="225.89999999999998" y1="323.30" x2="227.7" y2="323.30" stroke="#b3b3b3" stroke-width="0.7"/>
<text x="225.10" y="326.20" font-size="8" text-anchor="end" fill="#4d4d4d">0</text>
<line x1="225.89999999999998" y1="299.20" x2="227.7" y2="299.20" stroke="#b3b3b3" stroke-width="0.7"/>
<text x="225.10" y="302.10" font-size="8" text-anchor="end" fill="#4d4d4d">100</text>
<line x1="225.89999999999998" y1="275.10" x2="227.7" y2="275.10" stroke="#b3b3b3" stroke-width="0.7"/>
<text x="225.10" y="278.00" font-size="8" text-anchor="end" fill="#4d4d4d">200</text>
<text x="277.85" y="265.5" font-size="10.5" text-anchor="middle" fill="#111">CD4 CD69<tspan font-size="6.6" baseline-shift="4">-</tspan>_Tm</text>
<text x="277.85" y="389.30" font-size="10.4" text-anchor="middle" fill="#111">PC1 (22.4% explained var.)</text>
<text transform="translate(205.60,319.60) rotate(-90)" font-size="10.4" text-anchor="middle" fill="#111">PC2 (19.3% explained var.)</text>
<circle cx="239.3" cy="274.3" r="2.75" fill="#fb9b33"/>
<circle cx="231.6" cy="307.1" r="2.75" fill="#fb9b33"/>
<circle cx="295.1" cy="295.5" r="2.75" fill="#ecdd48"/>
<circle cx="303.9" cy="305.4" r="2.75" fill="#ecdd48"/>
<circle cx="283.1" cy="310.8" r="2.75" fill="#ecdd48"/>
<circle cx="305.4" cy="319.6" r="2.75" fill="#ee82ee"/>
<circle cx="269.9" cy="337.1" r="2.75" fill="#bebebe"/>
<circle cx="264.4" cy="343.7" r="2.75" fill="#bebebe"/>
<circle cx="322.5" cy="345.2" r="2.75" fill="#ee82ee"/>
<circle cx="245.4" cy="359.7" r="2.75" fill="#00f4f8"/>
<circle cx="253.1" cy="362.3" r="2.75" fill="#00f4f8"/>
<text x="242.60" y="276.80" font-size="6.9" fill="#262626">Hf08</text>
<text x="234.40" y="310.00" font-size="6.9" fill="#262626">Hf28</text>
<text x="291.80" y="293.00" font-size="6.9" fill="#262626">Hf15</text>
<text x="301.20" y="303.50" font-size="6.9" fill="#262626">Hf20</text>
<text x="279.80" y="309.00" font-size="6.9" fill="#262626">Hf14</text>
<text x="302.80" y="317.30" font-size="6.9" fill="#262626">Hf23</text>
<text x="266.60" y="334.50" font-size="6.9" fill="#262626">Hf17</text>
<text x="253.00" y="351.00" font-size="6.9" fill="#262626">Hf16</text>
<text x="306.00" y="347.70" font-size="6.9" fill="#262626">Hf24</text>
<text x="233.80" y="358.20" font-size="6.9" fill="#262626">Hf18</text>
<text x="255.70" y="369.20" font-size="6.9" fill="#262626">Hf27</text>
<rect x="240.4" y="394.7" width="75.00" height="26.70" fill="#fff" stroke="#3a3a3a" stroke-width="0.9"/>
<text x="246.50" y="406.00" font-size="8.2" fill="#111" stroke="#111" stroke-width="0.15">F-value = 2.1001</text>
<text x="246.5" y="415.6" font-size="8.2" fill="#111" stroke="#111" stroke-width="0.15"><tspan font-style="italic">p</tspan>-value = 0.001</text>
<clipPath id="cp384"><rect x="384.0" y="269.9" width="100.69999999999999" height="100.10000000000002"/></clipPath>
<rect x="384.0" y="269.9" width="100.69999999999999" height="100.10000000000002" fill="#fff"/>
<g clip-path="url(#cp384)"><line x1="401.62" y1="269.9" x2="401.62" y2="370.0" stroke="#f2f2f2" stroke-width="0.5"/><line x1="422.06" y1="269.9" x2="422.06" y2="370.0" stroke="#f2f2f2" stroke-width="0.5"/><line x1="442.49" y1="269.9" x2="442.49" y2="370.0" stroke="#f2f2f2" stroke-width="0.5"/><line x1="462.91" y1="269.9" x2="462.91" y2="370.0" stroke="#f2f2f2" stroke-width="0.5"/><line x1="483.34" y1="269.9" x2="483.34" y2="370.0" stroke="#f2f2f2" stroke-width="0.5"/><line x1="384.0" y1="352.82" x2="484.7" y2="352.82" stroke="#f2f2f2" stroke-width="0.5"/><line x1="384.0" y1="332.50" x2="484.7" y2="332.50" stroke="#f2f2f2" stroke-width="0.5"/><line x1="384.0" y1="312.17" x2="484.7" y2="312.17" stroke="#f2f2f2" stroke-width="0.5"/><line x1="384.0" y1="291.83" x2="484.7" y2="291.83" stroke="#f2f2f2" stroke-width="0.5"/><line x1="384.0" y1="271.50" x2="484.7" y2="271.50" stroke="#f2f2f2" stroke-width="0.5"/><line x1="391.41" y1="269.9" x2="391.41" y2="370.0" stroke="#e6e6e6" stroke-width="0.7"/><line x1="411.84" y1="269.9" x2="411.84" y2="370.0" stroke="#e6e6e6" stroke-width="0.7"/><line x1="432.27" y1="269.9" x2="432.27" y2="370.0" stroke="#e6e6e6" stroke-width="0.7"/><line x1="452.70" y1="269.9" x2="452.70" y2="370.0" stroke="#e6e6e6" stroke-width="0.7"/><line x1="473.13" y1="269.9" x2="473.13" y2="370.0" stroke="#e6e6e6" stroke-width="0.7"/><line x1="384.0" y1="362.99" x2="484.7" y2="362.99" stroke="#e6e6e6" stroke-width="0.7"/><line x1="384.0" y1="342.66" x2="484.7" y2="342.66" stroke="#e6e6e6" stroke-width="0.7"/><line x1="384.0" y1="322.33" x2="484.7" y2="322.33" stroke="#e6e6e6" stroke-width="0.7"/><line x1="384.0" y1="302.00" x2="484.7" y2="302.00" stroke="#e6e6e6" stroke-width="0.7"/><line x1="384.0" y1="281.67" x2="484.7" y2="281.67" stroke="#e6e6e6" stroke-width="0.7"/></g>
<rect x="384.0" y="269.9" width="100.69999999999999" height="100.10000000000002" fill="none" stroke="#b3b3b3" stroke-width="0.9"/>
<line x1="391.41" y1="370.0" x2="391.41" y2="371.8" stroke="#b3b3b3" stroke-width="0.7"/>
<text x="391.41" y="379.00" font-size="8" text-anchor="middle" fill="#4d4d4d">-300</text>
<line x1="411.84" y1="370.0" x2="411.84" y2="371.8" stroke="#b3b3b3" stroke-width="0.7"/>
<text x="411.84" y="379.00" font-size="8" text-anchor="middle" fill="#4d4d4d">-200</text>
<line x1="432.27" y1="370.0" x2="432.27" y2="371.8" stroke="#b3b3b3" stroke-width="0.7"/>
<text x="432.27" y="379.00" font-size="8" text-anchor="middle" fill="#4d4d4d">-100</text>
<line x1="452.70" y1="370.0" x2="452.70" y2="371.8" stroke="#b3b3b3" stroke-width="0.7"/>
<text x="452.70" y="379.00" font-size="8" text-anchor="middle" fill="#4d4d4d">0</text>
<line x1="473.13" y1="370.0" x2="473.13" y2="371.8" stroke="#b3b3b3" stroke-width="0.7"/>
<text x="473.13" y="379.00" font-size="8" text-anchor="middle" fill="#4d4d4d">100</text>
<line x1="382.2" y1="362.99" x2="384.0" y2="362.99" stroke="#b3b3b3" stroke-width="0.7"/>
<text x="381.40" y="365.89" font-size="8" text-anchor="end" fill="#4d4d4d">-300</text>
<line x1="382.2" y1="342.66" x2="384.0" y2="342.66" stroke="#b3b3b3" stroke-width="0.7"/>
<text x="381.40" y="345.56" font-size="8" text-anchor="end" fill="#4d4d4d">-200</text>
<line x1="382.2" y1="322.33" x2="384.0" y2="322.33" stroke="#b3b3b3" stroke-width="0.7"/>
<text x="381.40" y="325.23" font-size="8" text-anchor="end" fill="#4d4d4d">-100</text>
<line x1="382.2" y1="302.00" x2="384.0" y2="302.00" stroke="#b3b3b3" stroke-width="0.7"/>
<text x="381.40" y="304.90" font-size="8" text-anchor="end" fill="#4d4d4d">0</text>
<line x1="382.2" y1="281.67" x2="384.0" y2="281.67" stroke="#b3b3b3" stroke-width="0.7"/>
<text x="381.40" y="284.57" font-size="8" text-anchor="end" fill="#4d4d4d">100</text>
<text x="434.35" y="265.5" font-size="10.5" text-anchor="middle" fill="#111">CD8 CD69<tspan font-size="6.6" baseline-shift="4">+</tspan>_Tm</text>
<text x="434.35" y="389.30" font-size="10.4" text-anchor="middle" fill="#111">PC1 (24.7% explained var.)</text>
<text transform="translate(361.90,319.95) rotate(-90)" font-size="10.4" text-anchor="middle" fill="#111">PC2 (17.2% explained var.)</text>
<circle cx="444.2" cy="274.3" r="2.75" fill="#ecdd48"/>
<circle cx="477.0" cy="278.0" r="2.75" fill="#ee82ee"/>
<circle cx="467.6" cy="281.3" r="2.75" fill="#ecdd48"/>
<circle cx="470.2" cy="284.6" r="2.75" fill="#ee82ee"/>
<circle cx="388.8" cy="289.6" r="2.75" fill="#fb9b33"/>
<circle cx="461.5" cy="296.0" r="2.75" fill="#bebebe"/>
<circle cx="462.6" cy="298.8" r="2.75" fill="#ecdd48"/>
<circle cx="471.6" cy="316.3" r="2.75" fill="#bebebe"/>
<circle cx="410.0" cy="323.3" r="2.75" fill="#fb9b33"/>
<circle cx="458.9" cy="334.5" r="2.75" fill="#00f4f8"/>
<circle cx="469.8" cy="341.9" r="2.75" fill="#00f4f8"/>
<text x="446.40" y="276.80" font-size="6.9" fill="#262626">Hf15</text>
<text x="461.20" y="276.80" font-size="6.9" fill="#262626">Hf23</text>
<text x="450.50" y="285.30" font-size="6.9" fill="#262626">Hf20</text>
<text x="468.70" y="293.20" font-size="6.9" fill="#262626">Hf24</text>
<text x="391.00" y="292.10" font-size="6.9" fill="#262626">Hf08</text>
<text x="449.70" y="293.00" font-size="6.9" fill="#262626">Hf17</text>
<text x="459.30" y="306.80" font-size="6.9" fill="#262626">Hf14</text>
<text x="468.70" y="314.50" font-size="6.9" fill="#262626">Hf16</text>
<text x="407.00" y="321.00" font-size="6.9" fill="#262626">Hf28</text>
<text x="447.50" y="332.40" font-size="6.9" fill="#262626">Hf18</text>
<text x="466.50" y="349.00" font-size="6.9" fill="#262626">Hf27</text>
<rect x="397.1" y="394.8" width="75.90" height="26.60" fill="#fff" stroke="#3a3a3a" stroke-width="0.9"/>
<text x="402.80" y="406.00" font-size="8.2" fill="#111" stroke="#111" stroke-width="0.15">F-value = 1.9635</text>
<text x="402.8" y="415.6" font-size="8.2" fill="#111" stroke="#111" stroke-width="0.15"><tspan font-style="italic">p</tspan>-value = 0.001</text>
<clipPath id="cp541"><rect x="541.6" y="270.3" width="99.19999999999993" height="99.69999999999999"/></clipPath>
<rect x="541.6" y="270.3" width="99.19999999999993" height="99.69999999999999" fill="#fff"/>
<g clip-path="url(#cp541)"><line x1="545.10" y1="270.3" x2="545.10" y2="370.0" stroke="#f2f2f2" stroke-width="0.5"/><line x1="564.28" y1="270.3" x2="564.28" y2="370.0" stroke="#f2f2f2" stroke-width="0.5"/><line x1="583.46" y1="270.3" x2="583.46" y2="370.0" stroke="#f2f2f2" stroke-width="0.5"/><line x1="602.64" y1="270.3" x2="602.64" y2="370.0" stroke="#f2f2f2" stroke-width="0.5"/><line x1="621.82" y1="270.3" x2="621.82" y2="370.0" stroke="#f2f2f2" stroke-width="0.5"/><line x1="541.6" y1="365.88" x2="640.8" y2="365.88" stroke="#f2f2f2" stroke-width="0.5"/><line x1="541.6" y1="346.93" x2="640.8" y2="346.93" stroke="#f2f2f2" stroke-width="0.5"/><line x1="541.6" y1="327.98" x2="640.8" y2="327.98" stroke="#f2f2f2" stroke-width="0.5"/><line x1="541.6" y1="309.02" x2="640.8" y2="309.02" stroke="#f2f2f2" stroke-width="0.5"/><line x1="541.6" y1="290.07" x2="640.8" y2="290.07" stroke="#f2f2f2" stroke-width="0.5"/><line x1="541.6" y1="271.12" x2="640.8" y2="271.12" stroke="#f2f2f2" stroke-width="0.5"/><line x1="554.69" y1="270.3" x2="554.69" y2="370.0" stroke="#e6e6e6" stroke-width="0.7"/><line x1="573.87" y1="270.3" x2="573.87" y2="370.0" stroke="#e6e6e6" stroke-width="0.7"/><line x1="593.05" y1="270.3" x2="593.05" y2="370.0" stroke="#e6e6e6" stroke-width="0.7"/><line x1="612.23" y1="270.3" x2="612.23" y2="370.0" stroke="#e6e6e6" stroke-width="0.7"/><line x1="631.41" y1="270.3" x2="631.41" y2="370.0" stroke="#e6e6e6" stroke-width="0.7"/><line x1="541.6" y1="356.40" x2="640.8" y2="356.40" stroke="#e6e6e6" stroke-width="0.7"/><line x1="541.6" y1="337.45" x2="640.8" y2="337.45" stroke="#e6e6e6" stroke-width="0.7"/><line x1="541.6" y1="318.50" x2="640.8" y2="318.50" stroke="#e6e6e6" stroke-width="0.7"/><line x1="541.6" y1="299.55" x2="640.8" y2="299.55" stroke="#e6e6e6" stroke-width="0.7"/><line x1="541.6" y1="280.60" x2="640.8" y2="280.60" stroke="#e6e6e6" stroke-width="0.7"/></g>
<rect x="541.6" y="270.3" width="99.19999999999993" height="99.69999999999999" fill="none" stroke="#b3b3b3" stroke-width="0.9"/>
<line x1="554.69" y1="370.0" x2="554.69" y2="371.8" stroke="#b3b3b3" stroke-width="0.7"/>
<text x="554.69" y="379.00" font-size="8" text-anchor="middle" fill="#4d4d4d">-200</text>
<line x1="573.87" y1="370.0" x2="573.87" y2="371.8" stroke="#b3b3b3" stroke-width="0.7"/>
<text x="573.87" y="379.00" font-size="8" text-anchor="middle" fill="#4d4d4d">-100</text>
<line x1="593.05" y1="370.0" x2="593.05" y2="371.8" stroke="#b3b3b3" stroke-width="0.7"/>
<text x="593.05" y="379.00" font-size="8" text-anchor="middle" fill="#4d4d4d">0</text>
<line x1="612.23" y1="370.0" x2="612.23" y2="371.8" stroke="#b3b3b3" stroke-width="0.7"/>
<text x="612.23" y="379.00" font-size="8" text-anchor="middle" fill="#4d4d4d">100</text>
<line x1="631.41" y1="370.0" x2="631.41" y2="371.8" stroke="#b3b3b3" stroke-width="0.7"/>
<text x="631.41" y="379.00" font-size="8" text-anchor="middle" fill="#4d4d4d">200</text>
<line x1="539.8000000000001" y1="356.40" x2="541.6" y2="356.40" stroke="#b3b3b3" stroke-width="0.7"/>
<text x="539.00" y="359.30" font-size="8" text-anchor="end" fill="#4d4d4d">-200</text>
<line x1="539.8000000000001" y1="337.45" x2="541.6" y2="337.45" stroke="#b3b3b3" stroke-width="0.7"/>
<text x="539.00" y="340.35" font-size="8" text-anchor="end" fill="#4d4d4d">-100</text>
<line x1="539.8000000000001" y1="318.50" x2="541.6" y2="318.50" stroke="#b3b3b3" stroke-width="0.7"/>
<text x="539.00" y="321.40" font-size="8" text-anchor="end" fill="#4d4d4d">0</text>
<line x1="539.8000000000001" y1="299.55" x2="541.6" y2="299.55" stroke="#b3b3b3" stroke-width="0.7"/>
<text x="539.00" y="302.45" font-size="8" text-anchor="end" fill="#4d4d4d">100</text>
<line x1="539.8000000000001" y1="280.60" x2="541.6" y2="280.60" stroke="#b3b3b3" stroke-width="0.7"/>
<text x="539.00" y="283.50" font-size="8" text-anchor="end" fill="#4d4d4d">200</text>
<text x="591.20" y="265.5" font-size="10.5" text-anchor="middle" fill="#111">CD8 CD69<tspan font-size="6.6" baseline-shift="4">-</tspan>_Tm</text>
<text x="591.20" y="389.30" font-size="10.4" text-anchor="middle" fill="#111">PC1 (26.1% explained var.)</text>
<text transform="translate(519.50,320.15) rotate(-90)" font-size="10.4" text-anchor="middle" fill="#111">PC2 (17.6% explained var.)</text>
<circle cx="574.9" cy="278.6" r="2.75" fill="#00f4f8"/>
<circle cx="593.7" cy="285.7" r="2.75" fill="#ecdd48"/>
<circle cx="549.7" cy="312.6" r="2.75" fill="#fb9b33"/>
<circle cx="602.3" cy="318.5" r="2.75" fill="#bebebe"/>
<circle cx="604.7" cy="321.1" r="2.75" fill="#bebebe"/>
<circle cx="607.7" cy="315.9" r="2.75" fill="#ecdd48"/>
<circle cx="624.8" cy="329.0" r="2.75" fill="#ee82ee"/>
<circle cx="637.5" cy="337.8" r="2.75" fill="#ee82ee"/>
<circle cx="545.5" cy="363.8" r="2.75" fill="#fb9b33"/>
<text x="562.80" y="286.00" font-size="6.9" fill="#262626">Hf18</text>
<text x="582.10" y="293.00" font-size="6.9" fill="#262626">Hf14</text>
<text x="552.10" y="314.90" font-size="6.9" fill="#262626">Hf08</text>
<text x="586.90" y="316.60" font-size="6.9" fill="#262626">Hf16</text>
<text x="601.80" y="329.80" font-size="6.9" fill="#262626">Hf17</text>
<text x="604.70" y="314.00" font-size="6.9" fill="#262626">Hf15</text>
<text x="622.60" y="335.90" font-size="6.9" fill="#262626">Hf23</text>
<text x="625.50" y="345.50" font-size="6.9" fill="#262626">Hf24</text>
<text x="547.70" y="366.50" font-size="6.9" fill="#262626">Hf28</text>
<rect x="555.3" y="394.8" width="78.20" height="26.60" fill="#fff" stroke="#3a3a3a" stroke-width="0.9"/>
<text x="561.40" y="406.00" font-size="8.2" fill="#111" stroke="#111" stroke-width="0.15">F-value = 1.6483</text>
<text x="561.4" y="415.6" font-size="8.2" fill="#111" stroke="#111" stroke-width="0.15"><tspan font-style="italic">p</tspan>-value = 0.003</text>
<text x="649.30" y="292.80" font-size="10" fill="#111">Tissues</text>
<circle cx="654.8" cy="302.30" r="4.7" fill="#fb9b33"/>
<text x="663.60" y="305.50" font-size="9" fill="#111">Bm</text>
<circle cx="654.8" cy="314.20" r="4.7" fill="#bebebe"/>
<text x="663.60" y="317.40" font-size="9" fill="#111">Sp</text>
<circle cx="654.8" cy="326.10" r="4.7" fill="#ee82ee"/>
<text x="663.60" y="329.30" font-size="9" fill="#111">Lu</text>
<circle cx="654.8" cy="338.00" r="4.7" fill="#00f4f8"/>
<text x="663.60" y="341.20" font-size="9" fill="#111">In</text>
<circle cx="654.8" cy="349.90" r="4.7" fill="#ecdd48"/>
<text x="663.60" y="353.10" font-size="9" fill="#111">Sk</text>
<text x="-0.70" y="453.40" font-size="16" font-weight="bold" fill="#000">d</text>
<path d="M79.90,495.30 L79.90,465.30 A30.0,30.0 0 0 1 80.39,465.30 Z" fill="#ffffff" stroke="#6a6a6a" stroke-width="0.35"/>
<path d="M79.90,495.30 L80.39,465.30 A30.0,30.0 0 0 1 107.06,482.56 Z" fill="#fd9f48" stroke="#6a6a6a" stroke-width="0.35"/>
<path d="M79.90,495.30 L107.06,482.56 A30.0,30.0 0 0 1 109.88,494.17 Z" fill="#c8c4fa" stroke="#6a6a6a" stroke-width="0.35"/>
<path d="M79.90,495.30 L109.88,494.17 A30.0,30.0 0 0 1 108.93,502.87 Z" fill="#ffc790" stroke="#6a6a6a" stroke-width="0.35"/>
<path d="M79.90,495.30 L108.93,502.87 A30.0,30.0 0 0 1 58.67,516.50 Z" fill="#58a0f6" stroke="#6a6a6a" stroke-width="0.35"/>
<path d="M79.90,495.30 L58.67,516.50 A30.0,30.0 0 0 1 52.51,507.54 Z" fill="#ace0a8" stroke="#6a6a6a" stroke-width="0.35"/>
<path d="M79.90,495.30 L52.51,507.54 A30.0,30.0 0 0 1 50.97,503.23 Z" fill="#8f5a1e" stroke="#6a6a6a" stroke-width="0.35"/>
<path d="M79.90,495.30 L50.97,503.23 A30.0,30.0 0 0 1 50.92,503.05 Z" fill="#000000" stroke="#6a6a6a" stroke-width="0.35"/>
<path d="M79.90,495.30 L50.92,503.05 A30.0,30.0 0 0 1 79.90,465.30 Z" fill="#d5d5d5" stroke="#6a6a6a" stroke-width="0.35"/>
<circle cx="79.9" cy="495.3" r="30.0" fill="none" stroke="#7a7a7a" stroke-width="0.4"/>
<text x="93.00" y="480.80" font-size="6.5" text-anchor="middle" fill="#111" stroke="#111" stroke-width="0.17">17.76%</text>
<text x="101.10" y="493.30" font-size="6.5" text-anchor="middle" fill="#111" stroke="#111" stroke-width="0.17">6.38%</text>
<text x="106.70" y="501.20" font-size="6.5" text-anchor="middle" fill="#111" stroke="#111" stroke-width="0.17">4.66%</text>
<text x="85.80" y="514.90" font-size="6.5" text-anchor="middle" fill="#111" stroke="#111" stroke-width="0.17">33.45%</text>
<text x="66.60" y="488.10" font-size="6.5" text-anchor="middle" fill="#111" stroke="#111" stroke-width="0.17">29.16%</text>
<text x="95.50" y="466.10" font-size="6.5" fill="#111" stroke="#111" stroke-width="0.17">0.26%</text>
<line x1="80.2" y1="470.5" x2="94.7" y2="463.3" stroke="#222" stroke-width="0.5"/>
<text x="49.70" y="502.00" font-size="6.5" text-anchor="end" fill="#111" stroke="#111" stroke-width="0.17">0.10%</text>
<line x1="48.5" y1="500.5" x2="53.5" y2="503.5" stroke="#222" stroke-width="0.5"/>
<text x="51.30" y="511.00" font-size="6.5" text-anchor="end" fill="#111" stroke="#111" stroke-width="0.17">2.43%</text>
<text x="56.90" y="518.60" font-size="6.5" text-anchor="end" fill="#111" stroke="#111" stroke-width="0.17">5.80%</text>
<line x1="56.5" y1="515.5" x2="59.5" y2="513.0" stroke="#222" stroke-width="0.5"/>
<text x="60.1" y="456.5" font-size="7.8" fill="#111" stroke="#111" stroke-width="0.12">CD4 CD69<tspan font-size="5.4" baseline-shift="3">+</tspan></text>
<path d="M189.20,495.30 L189.20,465.30 A30.0,30.0 0 0 1 189.65,465.30 Z" fill="#ffffff" stroke="#6a6a6a" stroke-width="0.35"/>
<path d="M189.20,495.30 L189.65,465.30 A30.0,30.0 0 0 1 216.29,482.41 Z" fill="#fd9f48" stroke="#6a6a6a" stroke-width="0.35"/>
<path d="M189.20,495.30 L216.29,482.41 A30.0,30.0 0 0 1 219.13,493.28 Z" fill="#c8c4fa" stroke="#6a6a6a" stroke-width="0.35"/>
<path d="M189.20,495.30 L219.13,493.28 A30.0,30.0 0 0 1 218.49,501.81 Z" fill="#ffc790" stroke="#6a6a6a" stroke-width="0.35"/>
<path d="M189.20,495.30 L218.49,501.81 A30.0,30.0 0 0 1 169.32,517.77 Z" fill="#58a0f6" stroke="#6a6a6a" stroke-width="0.35"/>
<path d="M189.20,495.30 L169.32,517.77 A30.0,30.0 0 0 1 162.61,509.19 Z" fill="#ace0a8" stroke="#6a6a6a" stroke-width="0.35"/>
<path d="M189.20,495.30 L162.61,509.19 A30.0,30.0 0 0 1 160.87,505.16 Z" fill="#8f5a1e" stroke="#6a6a6a" stroke-width="0.35"/>
<path d="M189.20,495.30 L160.87,505.16 A30.0,30.0 0 0 1 160.80,504.96 Z" fill="#000000" stroke="#6a6a6a" stroke-width="0.35"/>
<path d="M189.20,495.30 L160.80,504.96 A30.0,30.0 0 0 1 189.20,465.30 Z" fill="#d5d5d5" stroke="#6a6a6a" stroke-width="0.35"/>
<circle cx="189.2" cy="495.3" r="30.0" fill="none" stroke="#7a7a7a" stroke-width="0.4"/>
<text x="202.00" y="481.60" font-size="6.5" text-anchor="middle" fill="#111" stroke="#111" stroke-width="0.17">17.69%</text>
<text x="213.50" y="492.60" font-size="6.5" text-anchor="middle" fill="#111" stroke="#111" stroke-width="0.17">6.00%</text>
<text x="216.70" y="499.30" font-size="6.5" text-anchor="middle" fill="#111" stroke="#111" stroke-width="0.17">4.55%</text>
<text x="195.80" y="515.30" font-size="6.5" text-anchor="middle" fill="#111" stroke="#111" stroke-width="0.17">33.05%</text>
<text x="177.40" y="489.20" font-size="6.5" text-anchor="middle" fill="#111" stroke="#111" stroke-width="0.17">30.22%</text>
<text x="200.70" y="467.20" font-size="6.5" fill="#111" stroke="#111" stroke-width="0.17">0.24%</text>
<line x1="189.6" y1="470.5" x2="200.2" y2="465.0" stroke="#222" stroke-width="0.5"/>
<text x="158.90" y="503.30" font-size="6.5" text-anchor="end" fill="#111" stroke="#111" stroke-width="0.17">0.11%</text>
<line x1="158.0" y1="502.0" x2="163.0" y2="505.0" stroke="#222" stroke-width="0.5"/>
<text x="161.30" y="512.50" font-size="6.5" text-anchor="end" fill="#111" stroke="#111" stroke-width="0.17">2.33%</text>
<text x="165.70" y="521.50" font-size="6.5" text-anchor="end" fill="#111" stroke="#111" stroke-width="0.17">5.81%</text>
<line x1="165.0" y1="518.5" x2="168.0" y2="515.5" stroke="#222" stroke-width="0.5"/>
<text x="168.2" y="456.5" font-size="7.8" fill="#111" stroke="#111" stroke-width="0.12">CD4 CD69<tspan font-size="5.4" baseline-shift="3">-</tspan></text>
<path d="M299.60,495.30 L299.60,465.30 A30.0,30.0 0 0 1 300.07,465.30 Z" fill="#ffffff" stroke="#6a6a6a" stroke-width="0.35"/>
<path d="M299.60,495.30 L300.07,465.30 A30.0,30.0 0 0 1 328.28,486.51 Z" fill="#fd9f48" stroke="#6a6a6a" stroke-width="0.35"/>
<path d="M299.60,495.30 L328.28,486.51 A30.0,30.0 0 0 1 329.41,498.68 Z" fill="#c8c4fa" stroke="#6a6a6a" stroke-width="0.35"/>
<path d="M299.60,495.30 L329.41,498.68 A30.0,30.0 0 0 1 327.17,507.12 Z" fill="#ffc790" stroke="#6a6a6a" stroke-width="0.35"/>
<path d="M299.60,495.30 L327.17,507.12 A30.0,30.0 0 0 1 277.78,515.89 Z" fill="#58a0f6" stroke="#6a6a6a" stroke-width="0.35"/>
<path d="M299.60,495.30 L277.78,515.89 A30.0,30.0 0 0 1 271.77,506.51 Z" fill="#ace0a8" stroke="#6a6a6a" stroke-width="0.35"/>
<path d="M299.60,495.30 L271.77,506.51 A30.0,30.0 0 0 1 270.36,502.02 Z" fill="#8f5a1e" stroke="#6a6a6a" stroke-width="0.35"/>
<path d="M299.60,495.30 L270.36,502.02 A30.0,30.0 0 0 1 270.31,501.80 Z" fill="#000000" stroke="#6a6a6a" stroke-width="0.35"/>
<path d="M299.60,495.30 L270.31,501.80 A30.0,30.0 0 0 1 299.60,465.30 Z" fill="#d5d5d5" stroke="#6a6a6a" stroke-width="0.35"/>
<circle cx="299.6" cy="495.3" r="30.0" fill="none" stroke="#7a7a7a" stroke-width="0.4"/>
<text x="313.00" y="484.90" font-size="6.5" text-anchor="middle" fill="#111" stroke="#111" stroke-width="0.17">20.02%</text>
<text x="323.20" y="495.80" font-size="6.5" text-anchor="middle" fill="#111" stroke="#111" stroke-width="0.17">6.53%</text>
<text x="325.90" y="503.80" font-size="6.5" text-anchor="middle" fill="#111" stroke="#111" stroke-width="0.17">4.65%</text>
<text x="305.50" y="515.30" font-size="6.5" text-anchor="middle" fill="#111" stroke="#111" stroke-width="0.17">31.52%</text>
<text x="286.30" y="489.20" font-size="6.5" text-anchor="middle" fill="#111" stroke="#111" stroke-width="0.17">28.48%</text>
<text x="312.00" y="467.20" font-size="6.5" fill="#111" stroke="#111" stroke-width="0.17">0.25%</text>
<line x1="300.2" y1="467.0" x2="311.5" y2="464.8" stroke="#222" stroke-width="0.5"/>
<text x="269.20" y="499.80" font-size="6.5" text-anchor="end" fill="#111" stroke="#111" stroke-width="0.17">0.12%</text>
<line x1="269.0" y1="498.5" x2="273.0" y2="501.0" stroke="#222" stroke-width="0.5"/>
<text x="270.50" y="509.40" font-size="6.5" text-anchor="end" fill="#111" stroke="#111" stroke-width="0.17">2.50%</text>
<text x="273.70" y="517.00" font-size="6.5" text-anchor="end" fill="#111" stroke="#111" stroke-width="0.17">5.94%</text>
<line x1="273.5" y1="514.0" x2="277.0" y2="511.5" stroke="#222" stroke-width="0.5"/>
<text x="278.2" y="456.5" font-size="7.8" fill="#111" stroke="#111" stroke-width="0.12">CD8 CD69<tspan font-size="5.4" baseline-shift="3">+</tspan></text>
<path d="M409.30,491.20 L409.30,461.20 A30.0,30.0 0 0 1 409.87,461.21 Z" fill="#ffffff" stroke="#6a6a6a" stroke-width="0.35"/>
<path d="M409.30,491.20 L409.87,461.21 A30.0,30.0 0 0 1 436.98,479.63 Z" fill="#fd9f48" stroke="#6a6a6a" stroke-width="0.35"/>
<path d="M409.30,491.20 L436.98,479.63 A30.0,30.0 0 0 1 439.30,491.63 Z" fill="#c8c4fa" stroke="#6a6a6a" stroke-width="0.35"/>
<path d="M409.30,491.20 L439.30,491.63 A30.0,30.0 0 0 1 437.77,500.65 Z" fill="#ffc790" stroke="#6a6a6a" stroke-width="0.35"/>
<path d="M409.30,491.20 L437.77,500.65 A30.0,30.0 0 0 1 387.42,511.72 Z" fill="#58a0f6" stroke="#6a6a6a" stroke-width="0.35"/>
<path d="M409.30,491.20 L387.42,511.72 A30.0,30.0 0 0 1 381.39,502.19 Z" fill="#ace0a8" stroke="#6a6a6a" stroke-width="0.35"/>
<path d="M409.30,491.20 L381.39,502.19 A30.0,30.0 0 0 1 380.01,497.67 Z" fill="#8f5a1e" stroke="#6a6a6a" stroke-width="0.35"/>
<path d="M409.30,491.20 L380.01,497.67 A30.0,30.0 0 0 1 379.96,497.47 Z" fill="#000000" stroke="#6a6a6a" stroke-width="0.35"/>
<path d="M409.30,491.20 L379.96,497.47 A30.0,30.0 0 0 1 409.30,461.20 Z" fill="#d5d5d5" stroke="#6a6a6a" stroke-width="0.35"/>
<circle cx="409.3" cy="491.2" r="30.0" fill="none" stroke="#7a7a7a" stroke-width="0.4"/>
<text x="422.00" y="479.30" font-size="6.5" text-anchor="middle" fill="#111" stroke="#111" stroke-width="0.17">18.40%</text>
<text x="431.90" y="489.70" font-size="6.5" text-anchor="middle" fill="#111" stroke="#111" stroke-width="0.17">6.53%</text>
<text x="434.80" y="497.70" font-size="6.5" text-anchor="middle" fill="#111" stroke="#111" stroke-width="0.17">4.87%</text>
<text x="415.00" y="511.00" font-size="6.5" text-anchor="middle" fill="#111" stroke="#111" stroke-width="0.17">32.91%</text>
<text x="397.40" y="485.70" font-size="6.5" text-anchor="middle" fill="#111" stroke="#111" stroke-width="0.17">28.35%</text>
<text x="420.70" y="463.20" font-size="6.5" fill="#111" stroke="#111" stroke-width="0.17">0.30%</text>
<line x1="409.9" y1="463.0" x2="420.2" y2="460.8" stroke="#222" stroke-width="0.5"/>
<text x="379.40" y="496.10" font-size="6.5" text-anchor="end" fill="#111" stroke="#111" stroke-width="0.17">0.11%</text>
<line x1="379.0" y1="494.5" x2="383.5" y2="497.5" stroke="#222" stroke-width="0.5"/>
<text x="380.20" y="504.60" font-size="6.5" text-anchor="end" fill="#111" stroke="#111" stroke-width="0.17">2.51%</text>
<text x="383.70" y="513.80" font-size="6.5" text-anchor="end" fill="#111" stroke="#111" stroke-width="0.17">6.02%</text>
<line x1="383.5" y1="510.5" x2="387.0" y2="508.5" stroke="#222" stroke-width="0.5"/>
<text x="388.2" y="452.5" font-size="7.8" fill="#111" stroke="#111" stroke-width="0.12">CD8 CD69<tspan font-size="5.4" baseline-shift="3">-</tspan></text>
<text x="449.60" y="454.90" font-size="7.4" fill="#111" stroke="#111" stroke-width="0.15" textLength="68.30" lengthAdjust="spacingAndGlyphs">Distribution of DMRs</text>
<rect x="450.6" y="457.20" width="6.0" height="5.8" fill="#ffffff" stroke="#a0a0a0" stroke-width="0.45"/>
<text x="460.50" y="462.50" font-size="6.7" fill="#111" stroke="#111" stroke-width="0.14">5' UTR</text>
<rect x="450.6" y="464.75" width="6.0" height="5.8" fill="#fd9f48" stroke="#a0a0a0" stroke-width="0.45"/>
<text x="460.50" y="470.05" font-size="6.7" fill="#111" stroke="#111" stroke-width="0.14">&lt;=1kb to TSS</text>
<rect x="450.6" y="472.30" width="6.0" height="5.8" fill="#c8c4fa" stroke="#a0a0a0" stroke-width="0.45"/>
<text x="460.50" y="477.60" font-size="6.7" fill="#111" stroke="#111" stroke-width="0.14">1-2kb to TSS</text>
<rect x="450.6" y="479.85" width="6.0" height="5.8" fill="#ffc790" stroke="#a0a0a0" stroke-width="0.45"/>
<text x="460.50" y="485.15" font-size="6.7" fill="#111" stroke="#111" stroke-width="0.14">2-3kb to TSS</text>
<rect x="450.6" y="487.40" width="6.0" height="5.8" fill="#58a0f6" stroke="#a0a0a0" stroke-width="0.45"/>
<text x="460.50" y="492.70" font-size="6.7" fill="#111" stroke="#111" stroke-width="0.14">Intron</text>
<rect x="450.6" y="494.95" width="6.0" height="5.8" fill="#ace0a8" stroke="#a0a0a0" stroke-width="0.45"/>
<text x="460.50" y="500.25" font-size="6.7" fill="#111" stroke="#111" stroke-width="0.14">Exon</text>
<rect x="450.6" y="502.50" width="6.0" height="5.8" fill="#8f5a1e" stroke="#a0a0a0" stroke-width="0.45"/>
<text x="460.50" y="507.80" font-size="6.7" fill="#111" stroke="#111" stroke-width="0.14">3' UTR</text>
<rect x="450.6" y="510.05" width="6.0" height="5.8" fill="#000000" stroke="#a0a0a0" stroke-width="0.45"/>
<text x="460.50" y="515.35" font-size="6.7" fill="#111" stroke="#111" stroke-width="0.14">Downstream</text>
<rect x="450.6" y="517.60" width="6.0" height="5.8" fill="#d5d5d5" stroke="#a0a0a0" stroke-width="0.45"/>
<text x="460.50" y="522.90" font-size="6.7" fill="#111" stroke="#111" stroke-width="0.14">Distal Intergenic</text>
<text x="-0.60" y="565.80" font-size="16" font-weight="bold" fill="#000">e</text>
<rect x="28.80" y="583.4" width="23.26" height="8.70" fill="#fa9e36"/>
<rect x="51.76" y="583.4" width="23.26" height="8.70" fill="#00f6fa"/>
<rect x="74.73" y="583.4" width="23.26" height="8.70" fill="#bebebe"/>
<rect x="97.69" y="583.4" width="23.26" height="8.70" fill="#ee82ee"/>
<rect x="120.65" y="583.4" width="34.45" height="8.70" fill="#efe24a"/>
<path d="M34.54,583.40V571.50H46.02V583.40M80.47,583.40V578.40H91.95V583.40M68.99,583.40V576.40H86.21V578.40M57.50,583.40V573.90H77.60V576.40M103.43,583.40V576.40H114.91V583.40M137.88,583.40V577.80H149.36V583.40M126.40,583.40V575.80H143.62V577.80M109.17,576.40V575.00H135.01V575.80M67.55,573.90V571.90H122.09V575.00M40.28,571.50V569.30H94.82V571.90" fill="none" stroke="#7a7a7a" stroke-width="0.75"/>
<rect x="28.80" y="593.90" width="126.30" height="6.90" fill="#606090"/><rect x="28.80" y="603.30" width="126.30" height="34.70" fill="#606090"/><rect x="28.80" y="639.80" width="126.30" height="2.50" fill="#606090"/><rect x="28.80" y="643.70" width="126.30" height="5.00" fill="#606090"/><rect x="28.80" y="651.20" width="126.30" height="6.70" fill="#606090"/><rect x="28.80" y="659.60" width="126.30" height="21.40" fill="#606090"/><rect x="28.80" y="683.20" width="126.30" height="12.70" fill="#606090"/><rect x="28.80" y="698.10" width="126.30" height="11.90" fill="#606090"/><path fill="#71717d" d="M28.8 593.90h11.83v1.29h-11.83zM28.8 595.87h11.83v1.29h-11.83zM51.8 598.83h11.83v1.29h-11.83zM63.2 594.89h11.83v1.29h-11.83zM74.7 593.90h11.83v1.29h-11.83zM86.2 599.81h11.83v1.29h-11.83zM109.2 598.83h11.83v1.29h-11.83zM28.8 603.30h11.83v1.29h-11.83zM28.8 611.23h11.83v1.29h-11.83zM28.8 617.18h11.83v1.29h-11.83zM28.8 627.09h11.83v1.29h-11.83zM28.8 628.09h11.83v1.29h-11.83zM28.8 633.04h11.83v1.29h-11.83zM28.8 637.01h11.83v1.29h-11.83zM40.3 624.12h11.83v1.29h-11.83zM40.3 627.09h11.83v1.29h-11.83zM63.2 604.29h11.83v1.29h-11.83zM63.2 615.20h11.83v1.29h-11.83zM74.7 632.05h11.83v1.29h-11.83zM109.2 613.21h11.83v1.29h-11.83zM109.2 621.15h11.83v1.29h-11.83zM109.2 633.04h11.83v1.29h-11.83zM120.7 605.28h11.83v1.29h-11.83zM120.7 617.18h11.83v1.29h-11.83zM120.7 621.15h11.83v1.29h-11.83zM120.7 632.05h11.83v1.29h-11.83zM120.7 633.04h11.83v1.29h-11.83zM132.1 605.28h11.83v1.29h-11.83zM132.1 609.25h11.83v1.29h-11.83zM132.1 617.18h11.83v1.29h-11.83zM132.1 619.16h11.83v1.29h-11.83zM132.1 622.14h11.83v1.29h-11.83zM132.1 626.10h11.83v1.29h-11.83zM143.6 616.19h11.48v1.29h-11.48zM63.2 639.80h11.83v1.55h-11.83zM120.7 641.05h11.83v1.55h-11.83zM63.2 643.70h11.83v1.30h-11.83zM86.2 645.70h11.83v1.30h-11.83zM97.7 643.70h11.83v1.30h-11.83zM120.7 646.70h11.83v1.30h-11.83zM28.8 656.94h11.83v1.26h-11.83zM63.2 653.11h11.83v1.26h-11.83zM97.7 651.20h11.83v1.26h-11.83zM97.7 654.07h11.83v1.26h-11.83zM120.7 651.20h11.83v1.26h-11.83zM143.6 655.99h11.48v1.26h-11.48zM143.6 656.94h11.48v1.26h-11.48zM40.3 661.64h11.83v1.32h-11.83zM40.3 671.83h11.83v1.32h-11.83zM40.3 679.98h11.83v1.32h-11.83zM63.2 673.87h11.83v1.32h-11.83zM74.7 669.79h11.83v1.32h-11.83zM86.2 659.60h11.83v1.32h-11.83zM86.2 667.75h11.83v1.32h-11.83zM86.2 672.85h11.83v1.32h-11.83zM86.2 676.92h11.83v1.32h-11.83zM86.2 677.94h11.83v1.32h-11.83zM97.7 662.66h11.83v1.32h-11.83zM97.7 674.89h11.83v1.32h-11.83zM109.2 675.90h11.83v1.32h-11.83zM120.7 665.71h11.83v1.32h-11.83zM120.7 669.79h11.83v1.32h-11.83zM120.7 671.83h11.83v1.32h-11.83zM120.7 675.90h11.83v1.32h-11.83zM120.7 679.98h11.83v1.32h-11.83zM132.1 671.83h11.83v1.32h-11.83zM143.6 670.81h11.48v1.32h-11.48zM74.7 687.11h11.83v1.28h-11.83zM74.7 689.06h11.83v1.28h-11.83zM143.6 685.15h11.48v1.28h-11.48zM143.6 691.02h11.48v1.28h-11.48zM143.6 693.95h11.48v1.28h-11.48zM109.2 705.04h11.83v1.29h-11.83zM120.7 701.08h11.83v1.29h-11.83zM120.7 704.05h11.83v1.29h-11.83z"/><path fill="#83836b" d="M28.8 594.89h11.83v1.29h-11.83zM63.2 593.90h11.83v1.29h-11.83zM109.2 594.89h11.83v1.29h-11.83zM120.7 594.89h11.83v1.29h-11.83zM120.7 597.84h11.83v1.29h-11.83zM120.7 598.83h11.83v1.29h-11.83zM120.7 599.81h11.83v1.29h-11.83zM143.6 594.89h11.48v1.29h-11.48zM143.6 595.87h11.48v1.29h-11.48zM86.2 603.30h11.83v1.29h-11.83zM97.7 606.27h11.83v1.29h-11.83zM97.7 607.27h11.83v1.29h-11.83zM97.7 611.23h11.83v1.29h-11.83zM97.7 616.19h11.83v1.29h-11.83zM97.7 630.07h11.83v1.29h-11.83zM97.7 636.02h11.83v1.29h-11.83zM109.2 603.30h11.83v1.29h-11.83zM109.2 611.23h11.83v1.29h-11.83zM109.2 620.15h11.83v1.29h-11.83zM109.2 630.07h11.83v1.29h-11.83zM120.7 613.21h11.83v1.29h-11.83zM120.7 623.13h11.83v1.29h-11.83zM120.7 626.10h11.83v1.29h-11.83zM120.7 637.01h11.83v1.29h-11.83zM143.6 604.29h11.48v1.29h-11.48zM143.6 605.28h11.48v1.29h-11.48zM143.6 609.25h11.48v1.29h-11.48zM143.6 613.21h11.48v1.29h-11.48zM143.6 615.20h11.48v1.29h-11.48zM143.6 618.17h11.48v1.29h-11.48zM143.6 622.14h11.48v1.29h-11.48zM143.6 623.13h11.48v1.29h-11.48zM143.6 625.11h11.48v1.29h-11.48zM143.6 634.03h11.48v1.29h-11.48zM74.7 643.70h11.83v1.30h-11.83zM86.2 646.70h11.83v1.30h-11.83zM132.1 646.70h11.83v1.30h-11.83zM28.8 653.11h11.83v1.26h-11.83zM97.7 652.16h11.83v1.26h-11.83zM120.7 652.16h11.83v1.26h-11.83zM120.7 653.11h11.83v1.26h-11.83zM132.1 654.07h11.83v1.26h-11.83zM143.6 655.03h11.48v1.26h-11.48zM63.2 665.71h11.83v1.32h-11.83zM63.2 669.79h11.83v1.32h-11.83zM74.7 675.90h11.83v1.32h-11.83zM120.7 660.62h11.83v1.32h-11.83zM120.7 668.77h11.83v1.32h-11.83zM120.7 677.94h11.83v1.32h-11.83zM63.2 687.11h11.83v1.28h-11.83zM63.2 688.08h11.83v1.28h-11.83zM63.2 690.04h11.83v1.28h-11.83zM63.2 692.97h11.83v1.28h-11.83zM86.2 686.13h11.83v1.28h-11.83zM86.2 687.11h11.83v1.28h-11.83zM143.6 688.08h11.48v1.28h-11.48zM63.2 708.02h11.83v1.29h-11.83zM74.7 700.08h11.83v1.29h-11.83zM74.7 706.03h11.83v1.29h-11.83zM97.7 702.07h11.83v1.29h-11.83zM109.2 698.10h11.83v1.29h-11.83zM109.2 702.07h11.83v1.29h-11.83zM109.2 709.01h11.83v1.29h-11.83zM120.7 702.07h11.83v1.29h-11.83zM132.1 700.08h11.83v1.29h-11.83z"/><path fill="#8a8a66" d="M28.8 596.86h11.83v1.29h-11.83zM51.8 596.86h11.83v1.29h-11.83zM63.2 599.81h11.83v1.29h-11.83zM74.7 598.83h11.83v1.29h-11.83zM143.6 598.83h11.48v1.29h-11.48zM28.8 619.16h11.83v1.29h-11.83zM40.3 607.27h11.83v1.29h-11.83zM97.7 603.30h11.83v1.29h-11.83zM97.7 609.25h11.83v1.29h-11.83zM109.2 614.21h11.83v1.29h-11.83zM109.2 623.13h11.83v1.29h-11.83zM120.7 604.29h11.83v1.29h-11.83zM120.7 614.21h11.83v1.29h-11.83zM120.7 618.17h11.83v1.29h-11.83zM120.7 627.09h11.83v1.29h-11.83zM120.7 629.08h11.83v1.29h-11.83zM120.7 636.02h11.83v1.29h-11.83zM143.6 607.27h11.48v1.29h-11.48zM143.6 611.23h11.48v1.29h-11.48zM143.6 614.21h11.48v1.29h-11.48zM63.2 641.05h11.83v1.55h-11.83zM63.2 644.70h11.83v1.30h-11.83zM120.7 647.70h11.83v1.30h-11.83zM28.8 654.07h11.83v1.26h-11.83zM28.8 655.03h11.83v1.26h-11.83zM120.7 655.03h11.83v1.26h-11.83zM40.3 659.60h11.83v1.32h-11.83zM40.3 665.71h11.83v1.32h-11.83zM40.3 666.73h11.83v1.32h-11.83zM63.2 663.68h11.83v1.32h-11.83zM120.7 662.66h11.83v1.32h-11.83zM143.6 668.77h11.48v1.32h-11.48zM28.8 686.13h11.83v1.28h-11.83zM28.8 688.08h11.83v1.28h-11.83zM28.8 689.06h11.83v1.28h-11.83zM28.8 690.04h11.83v1.28h-11.83zM28.8 691.99h11.83v1.28h-11.83zM51.8 693.95h11.83v1.28h-11.83zM63.2 689.06h11.83v1.28h-11.83zM63.2 693.95h11.83v1.28h-11.83zM74.7 688.08h11.83v1.28h-11.83zM86.2 684.18h11.83v1.28h-11.83zM63.2 705.04h11.83v1.29h-11.83zM97.7 706.03h11.83v1.29h-11.83zM143.6 708.02h11.48v1.29h-11.48z"/><path fill="#66668a" d="M28.8 597.84h11.83v1.29h-11.83zM28.8 598.83h11.83v1.29h-11.83zM28.8 599.81h11.83v1.29h-11.83zM40.3 595.87h11.83v1.29h-11.83zM63.2 597.84h11.83v1.29h-11.83zM109.2 596.86h11.83v1.29h-11.83zM132.1 593.90h11.83v1.29h-11.83zM132.1 595.87h11.83v1.29h-11.83zM28.8 606.27h11.83v1.29h-11.83zM28.8 618.17h11.83v1.29h-11.83zM28.8 620.15h11.83v1.29h-11.83zM28.8 624.12h11.83v1.29h-11.83zM28.8 625.11h11.83v1.29h-11.83zM28.8 626.10h11.83v1.29h-11.83zM28.8 631.06h11.83v1.29h-11.83zM28.8 634.03h11.83v1.29h-11.83zM40.3 619.16h11.83v1.29h-11.83zM40.3 621.15h11.83v1.29h-11.83zM51.8 609.25h11.83v1.29h-11.83zM51.8 614.21h11.83v1.29h-11.83zM63.2 618.17h11.83v1.29h-11.83zM63.2 624.12h11.83v1.29h-11.83zM63.2 625.11h11.83v1.29h-11.83zM63.2 635.03h11.83v1.29h-11.83zM74.7 604.29h11.83v1.29h-11.83zM74.7 607.27h11.83v1.29h-11.83zM109.2 608.26h11.83v1.29h-11.83zM120.7 624.12h11.83v1.29h-11.83zM132.1 604.29h11.83v1.29h-11.83zM132.1 607.27h11.83v1.29h-11.83zM132.1 608.26h11.83v1.29h-11.83zM132.1 610.24h11.83v1.29h-11.83zM132.1 613.21h11.83v1.29h-11.83zM132.1 618.17h11.83v1.29h-11.83zM132.1 621.15h11.83v1.29h-11.83zM132.1 624.12h11.83v1.29h-11.83zM28.8 641.05h11.83v1.55h-11.83zM51.8 639.80h11.83v1.55h-11.83zM28.8 646.70h11.83v1.30h-11.83zM51.8 644.70h11.83v1.30h-11.83zM74.7 647.70h11.83v1.30h-11.83zM86.2 647.70h11.83v1.30h-11.83zM132.1 655.03h11.83v1.26h-11.83zM143.6 654.07h11.48v1.26h-11.48zM40.3 660.62h11.83v1.32h-11.83zM40.3 672.85h11.83v1.32h-11.83zM40.3 676.92h11.83v1.32h-11.83zM40.3 678.96h11.83v1.32h-11.83zM74.7 667.75h11.83v1.32h-11.83zM74.7 671.83h11.83v1.32h-11.83zM74.7 674.89h11.83v1.32h-11.83zM86.2 663.68h11.83v1.32h-11.83zM86.2 665.71h11.83v1.32h-11.83zM86.2 668.77h11.83v1.32h-11.83zM97.7 660.62h11.83v1.32h-11.83zM97.7 671.83h11.83v1.32h-11.83zM97.7 673.87h11.83v1.32h-11.83zM97.7 676.92h11.83v1.32h-11.83zM97.7 678.96h11.83v1.32h-11.83zM109.2 661.64h11.83v1.32h-11.83zM109.2 668.77h11.83v1.32h-11.83zM120.7 659.60h11.83v1.32h-11.83zM120.7 664.70h11.83v1.32h-11.83zM120.7 673.87h11.83v1.32h-11.83zM132.1 675.90h11.83v1.32h-11.83zM143.6 661.64h11.48v1.32h-11.48zM143.6 667.75h11.48v1.32h-11.48zM40.3 684.18h11.83v1.28h-11.83zM74.7 683.20h11.83v1.28h-11.83zM74.7 690.04h11.83v1.28h-11.83zM74.7 691.02h11.83v1.28h-11.83zM74.7 693.95h11.83v1.28h-11.83zM86.2 691.99h11.83v1.28h-11.83zM86.2 694.92h11.83v1.28h-11.83zM143.6 689.06h11.48v1.28h-11.48zM143.6 694.92h11.48v1.28h-11.48zM40.3 698.10h11.83v1.29h-11.83zM63.2 699.09h11.83v1.29h-11.83zM63.2 703.06h11.83v1.29h-11.83zM86.2 698.10h11.83v1.29h-11.83zM97.7 709.01h11.83v1.29h-11.83zM120.7 706.03h11.83v1.29h-11.83zM132.1 704.05h11.83v1.29h-11.83zM132.1 707.02h11.83v1.29h-11.83zM143.6 699.09h11.48v1.29h-11.48zM143.6 705.04h11.48v1.29h-11.48z"/><path fill="#2b2bcb" d="M40.3 593.90h11.83v1.29h-11.83zM51.8 633.04h11.83v1.29h-11.83zM51.8 636.02h11.83v1.29h-11.83zM86.2 632.05h11.83v1.29h-11.83zM40.3 643.70h11.83v1.30h-11.83zM51.8 654.07h11.83v1.26h-11.83zM51.8 665.71h11.83v1.32h-11.83zM51.8 666.73h11.83v1.32h-11.83zM40.3 705.04h11.83v1.29h-11.83z"/><path fill="#3d3db7" d="M40.3 594.89h11.83v1.29h-11.83zM40.3 631.06h11.83v1.29h-11.83zM51.8 610.24h11.83v1.29h-11.83zM51.8 617.18h11.83v1.29h-11.83zM51.8 618.17h11.83v1.29h-11.83zM51.8 622.14h11.83v1.29h-11.83zM51.8 637.01h11.83v1.29h-11.83zM63.2 608.26h11.83v1.29h-11.83zM63.2 612.22h11.83v1.29h-11.83zM63.2 616.19h11.83v1.29h-11.83zM74.7 603.30h11.83v1.29h-11.83zM86.2 608.26h11.83v1.29h-11.83zM86.2 616.19h11.83v1.29h-11.83zM51.8 656.94h11.83v1.26h-11.83zM74.7 652.16h11.83v1.26h-11.83zM74.7 654.07h11.83v1.26h-11.83zM86.2 653.11h11.83v1.26h-11.83zM51.8 663.68h11.83v1.32h-11.83zM86.2 670.81h11.83v1.32h-11.83zM109.2 670.81h11.83v1.32h-11.83zM132.1 664.70h11.83v1.32h-11.83zM40.3 691.02h11.83v1.28h-11.83zM40.3 692.97h11.83v1.28h-11.83zM74.7 684.18h11.83v1.28h-11.83zM97.7 685.15h11.83v1.28h-11.83zM109.2 691.02h11.83v1.28h-11.83zM109.2 691.99h11.83v1.28h-11.83zM40.3 703.06h11.83v1.29h-11.83zM51.8 702.07h11.83v1.29h-11.83zM74.7 705.04h11.83v1.29h-11.83zM86.2 699.09h11.83v1.29h-11.83z"/><path fill="#2525d2" d="M40.3 596.86h11.83v1.29h-11.83zM40.3 597.84h11.83v1.29h-11.83zM40.3 598.83h11.83v1.29h-11.83zM51.8 604.29h11.83v1.29h-11.83zM51.8 627.09h11.83v1.29h-11.83zM51.8 632.05h11.83v1.29h-11.83zM63.2 626.10h11.83v1.29h-11.83zM40.3 647.70h11.83v1.30h-11.83zM40.3 709.01h11.83v1.29h-11.83zM51.8 698.10h11.83v1.29h-11.83z"/><path fill="#1f1fda" d="M40.3 599.81h11.83v1.29h-11.83zM120.7 692.97h11.83v1.28h-11.83zM40.3 708.02h11.83v1.29h-11.83z"/><path fill="#b0b042" d="M51.8 593.90h11.83v1.29h-11.83zM97.7 633.04h11.83v1.29h-11.83zM120.7 622.14h11.83v1.29h-11.83zM28.8 699.09h11.83v1.29h-11.83zM109.2 708.02h11.83v1.29h-11.83z"/><path fill="#909060" d="M51.8 594.89h11.83v1.29h-11.83zM74.7 596.86h11.83v1.29h-11.83zM97.7 593.90h11.83v1.29h-11.83zM97.7 599.81h11.83v1.29h-11.83zM109.2 597.84h11.83v1.29h-11.83zM132.1 599.81h11.83v1.29h-11.83zM74.7 605.28h11.83v1.29h-11.83zM86.2 619.16h11.83v1.29h-11.83zM86.2 622.14h11.83v1.29h-11.83zM97.7 605.28h11.83v1.29h-11.83zM97.7 608.26h11.83v1.29h-11.83zM97.7 612.22h11.83v1.29h-11.83zM97.7 615.20h11.83v1.29h-11.83zM97.7 618.17h11.83v1.29h-11.83zM97.7 619.16h11.83v1.29h-11.83zM97.7 623.13h11.83v1.29h-11.83zM97.7 625.11h11.83v1.29h-11.83zM97.7 637.01h11.83v1.29h-11.83zM109.2 617.18h11.83v1.29h-11.83zM109.2 637.01h11.83v1.29h-11.83zM120.7 606.27h11.83v1.29h-11.83zM120.7 608.26h11.83v1.29h-11.83zM120.7 625.11h11.83v1.29h-11.83zM143.6 608.26h11.48v1.29h-11.48zM143.6 617.18h11.48v1.29h-11.48zM143.6 619.16h11.48v1.29h-11.48zM143.6 621.15h11.48v1.29h-11.48zM143.6 628.09h11.48v1.29h-11.48zM143.6 629.08h11.48v1.29h-11.48zM86.2 641.05h11.83v1.55h-11.83zM97.7 646.70h11.83v1.30h-11.83zM109.2 644.70h11.83v1.30h-11.83zM120.7 645.70h11.83v1.30h-11.83zM132.1 645.70h11.83v1.30h-11.83zM97.7 655.99h11.83v1.26h-11.83zM109.2 652.16h11.83v1.26h-11.83zM120.7 655.99h11.83v1.26h-11.83zM63.2 671.83h11.83v1.32h-11.83zM63.2 676.92h11.83v1.32h-11.83zM63.2 678.96h11.83v1.32h-11.83zM74.7 679.98h11.83v1.32h-11.83zM28.8 684.18h11.83v1.28h-11.83zM51.8 683.20h11.83v1.28h-11.83zM51.8 689.06h11.83v1.28h-11.83zM51.8 692.97h11.83v1.28h-11.83zM63.2 686.13h11.83v1.28h-11.83zM63.2 691.99h11.83v1.28h-11.83zM97.7 705.04h11.83v1.29h-11.83zM97.7 708.02h11.83v1.29h-11.83z"/><path fill="#9c9c54" d="M51.8 595.87h11.83v1.29h-11.83zM51.8 597.84h11.83v1.29h-11.83zM97.7 597.84h11.83v1.29h-11.83zM109.2 595.87h11.83v1.29h-11.83zM97.7 621.15h11.83v1.29h-11.83zM97.7 629.08h11.83v1.29h-11.83zM109.2 615.20h11.83v1.29h-11.83zM120.7 634.03h11.83v1.29h-11.83zM132.1 634.03h11.83v1.29h-11.83zM143.6 630.07h11.48v1.29h-11.48zM120.7 666.73h11.83v1.32h-11.83zM51.8 688.08h11.83v1.28h-11.83zM86.2 693.95h11.83v1.28h-11.83zM143.6 704.05h11.48v1.29h-11.48z"/><path fill="#a3a34e" d="M51.8 599.81h11.83v1.29h-11.83zM97.7 598.83h11.83v1.29h-11.83zM120.7 596.86h11.83v1.29h-11.83zM97.7 628.09h11.83v1.29h-11.83zM109.2 627.09h11.83v1.29h-11.83zM120.7 619.16h11.83v1.29h-11.83zM120.7 631.06h11.83v1.29h-11.83zM132.1 635.03h11.83v1.29h-11.83zM143.6 635.03h11.48v1.29h-11.48zM143.6 637.01h11.48v1.29h-11.48zM97.7 644.70h11.83v1.30h-11.83zM28.8 651.20h11.83v1.26h-11.83zM97.7 656.94h11.83v1.26h-11.83zM74.7 665.71h11.83v1.32h-11.83zM109.2 667.75h11.83v1.32h-11.83zM143.6 664.70h11.48v1.32h-11.48zM28.8 698.10h11.83v1.29h-11.83zM28.8 709.01h11.83v1.29h-11.83zM109.2 704.05h11.83v1.29h-11.83z"/><path fill="#4848a9" d="M63.2 595.87h11.83v1.29h-11.83zM86.2 593.90h11.83v1.29h-11.83zM86.2 595.87h11.83v1.29h-11.83zM86.2 597.84h11.83v1.29h-11.83zM40.3 603.30h11.83v1.29h-11.83zM40.3 605.28h11.83v1.29h-11.83zM51.8 607.27h11.83v1.29h-11.83zM51.8 613.21h11.83v1.29h-11.83zM51.8 615.20h11.83v1.29h-11.83zM51.8 620.15h11.83v1.29h-11.83zM51.8 626.10h11.83v1.29h-11.83zM51.8 630.07h11.83v1.29h-11.83zM51.8 635.03h11.83v1.29h-11.83zM63.2 621.15h11.83v1.29h-11.83zM74.7 622.14h11.83v1.29h-11.83zM74.7 624.12h11.83v1.29h-11.83zM74.7 628.09h11.83v1.29h-11.83zM86.2 611.23h11.83v1.29h-11.83zM86.2 612.22h11.83v1.29h-11.83zM86.2 615.20h11.83v1.29h-11.83zM86.2 629.08h11.83v1.29h-11.83zM86.2 631.06h11.83v1.29h-11.83zM132.1 641.05h11.83v1.55h-11.83zM143.6 639.80h11.48v1.55h-11.48zM28.8 644.70h11.83v1.30h-11.83zM40.3 644.70h11.83v1.30h-11.83zM74.7 655.03h11.83v1.26h-11.83zM86.2 654.07h11.83v1.26h-11.83zM86.2 655.99h11.83v1.26h-11.83zM51.8 662.66h11.83v1.32h-11.83zM51.8 676.92h11.83v1.32h-11.83zM74.7 663.68h11.83v1.32h-11.83zM74.7 672.85h11.83v1.32h-11.83zM74.7 678.96h11.83v1.32h-11.83zM86.2 662.66h11.83v1.32h-11.83zM86.2 664.70h11.83v1.32h-11.83zM143.6 663.68h11.48v1.32h-11.48zM143.6 679.98h11.48v1.32h-11.48zM97.7 683.20h11.83v1.28h-11.83zM97.7 691.99h11.83v1.28h-11.83zM109.2 686.13h11.83v1.28h-11.83zM109.2 689.06h11.83v1.28h-11.83zM120.7 687.11h11.83v1.28h-11.83zM120.7 693.95h11.83v1.28h-11.83zM120.7 694.92h11.83v1.28h-11.83zM40.3 704.05h11.83v1.29h-11.83zM51.8 699.09h11.83v1.29h-11.83zM51.8 705.04h11.83v1.29h-11.83zM63.2 700.08h11.83v1.29h-11.83zM86.2 703.06h11.83v1.29h-11.83zM132.1 703.06h11.83v1.29h-11.83zM132.1 708.02h11.83v1.29h-11.83z"/><path fill="#96965a" d="M63.2 596.86h11.83v1.29h-11.83zM63.2 598.83h11.83v1.29h-11.83zM74.7 599.81h11.83v1.29h-11.83zM86.2 596.86h11.83v1.29h-11.83zM132.1 594.89h11.83v1.29h-11.83zM28.8 609.25h11.83v1.29h-11.83zM97.7 604.29h11.83v1.29h-11.83zM97.7 613.21h11.83v1.29h-11.83zM97.7 626.10h11.83v1.29h-11.83zM97.7 631.06h11.83v1.29h-11.83zM97.7 634.03h11.83v1.29h-11.83zM109.2 622.14h11.83v1.29h-11.83zM109.2 631.06h11.83v1.29h-11.83zM109.2 636.02h11.83v1.29h-11.83zM120.7 628.09h11.83v1.29h-11.83zM120.7 630.07h11.83v1.29h-11.83zM143.6 603.30h11.48v1.29h-11.48zM74.7 639.80h11.83v1.55h-11.83zM28.8 655.99h11.83v1.26h-11.83zM63.2 667.75h11.83v1.32h-11.83zM143.6 666.73h11.48v1.32h-11.48zM51.8 684.18h11.83v1.28h-11.83zM51.8 685.15h11.83v1.28h-11.83zM51.8 687.11h11.83v1.28h-11.83zM51.8 690.04h11.83v1.28h-11.83zM63.2 694.92h11.83v1.28h-11.83zM86.2 683.20h11.83v1.28h-11.83zM86.2 689.06h11.83v1.28h-11.83zM97.7 698.10h11.83v1.29h-11.83zM109.2 703.06h11.83v1.29h-11.83z"/><path fill="#6b6b83" d="M74.7 594.89h11.83v1.29h-11.83zM132.1 596.86h11.83v1.29h-11.83zM28.8 604.29h11.83v1.29h-11.83zM28.8 607.27h11.83v1.29h-11.83zM28.8 612.22h11.83v1.29h-11.83zM28.8 616.19h11.83v1.29h-11.83zM40.3 612.22h11.83v1.29h-11.83zM51.8 619.16h11.83v1.29h-11.83zM74.7 621.15h11.83v1.29h-11.83zM97.7 635.03h11.83v1.29h-11.83zM109.2 604.29h11.83v1.29h-11.83zM109.2 625.11h11.83v1.29h-11.83zM109.2 632.05h11.83v1.29h-11.83zM132.1 615.20h11.83v1.29h-11.83zM132.1 625.11h11.83v1.29h-11.83zM132.1 630.07h11.83v1.29h-11.83zM132.1 637.01h11.83v1.29h-11.83zM143.6 632.05h11.48v1.29h-11.48zM51.8 641.05h11.83v1.55h-11.83zM74.7 641.05h11.83v1.55h-11.83zM120.7 639.80h11.83v1.55h-11.83zM63.2 646.70h11.83v1.30h-11.83zM63.2 647.70h11.83v1.30h-11.83zM86.2 643.70h11.83v1.30h-11.83zM97.7 647.70h11.83v1.30h-11.83zM109.2 647.70h11.83v1.30h-11.83zM132.1 643.70h11.83v1.30h-11.83zM28.8 652.16h11.83v1.26h-11.83zM63.2 652.16h11.83v1.26h-11.83zM109.2 654.07h11.83v1.26h-11.83zM109.2 655.99h11.83v1.26h-11.83zM120.7 654.07h11.83v1.26h-11.83zM132.1 652.16h11.83v1.26h-11.83zM132.1 653.11h11.83v1.26h-11.83zM132.1 656.94h11.83v1.26h-11.83zM40.3 669.79h11.83v1.32h-11.83zM40.3 675.90h11.83v1.32h-11.83zM63.2 674.89h11.83v1.32h-11.83zM74.7 660.62h11.83v1.32h-11.83zM97.7 659.60h11.83v1.32h-11.83zM97.7 670.81h11.83v1.32h-11.83zM109.2 660.62h11.83v1.32h-11.83zM109.2 663.68h11.83v1.32h-11.83zM109.2 664.70h11.83v1.32h-11.83zM120.7 661.64h11.83v1.32h-11.83zM120.7 676.92h11.83v1.32h-11.83zM132.1 662.66h11.83v1.32h-11.83zM132.1 673.87h11.83v1.32h-11.83zM143.6 659.60h11.48v1.32h-11.48zM143.6 665.71h11.48v1.32h-11.48zM143.6 669.79h11.48v1.32h-11.48zM28.8 683.20h11.83v1.28h-11.83zM86.2 688.08h11.83v1.28h-11.83zM86.2 692.97h11.83v1.28h-11.83zM109.2 692.97h11.83v1.28h-11.83zM120.7 689.06h11.83v1.28h-11.83zM143.6 683.20h11.48v1.28h-11.48zM51.8 706.03h11.83v1.29h-11.83zM63.2 698.10h11.83v1.29h-11.83zM63.2 707.02h11.83v1.29h-11.83zM74.7 698.10h11.83v1.29h-11.83zM74.7 704.05h11.83v1.29h-11.83zM109.2 699.09h11.83v1.29h-11.83zM109.2 707.02h11.83v1.29h-11.83zM132.1 699.09h11.83v1.29h-11.83zM143.6 706.03h11.48v1.29h-11.48z"/><path fill="#4e4ea3" d="M74.7 595.87h11.83v1.29h-11.83zM40.3 626.10h11.83v1.29h-11.83zM40.3 628.09h11.83v1.29h-11.83zM40.3 629.08h11.83v1.29h-11.83zM40.3 635.03h11.83v1.29h-11.83zM51.8 624.12h11.83v1.29h-11.83zM51.8 628.09h11.83v1.29h-11.83zM63.2 609.25h11.83v1.29h-11.83zM63.2 614.21h11.83v1.29h-11.83zM63.2 627.09h11.83v1.29h-11.83zM63.2 628.09h11.83v1.29h-11.83zM63.2 632.05h11.83v1.29h-11.83zM74.7 613.21h11.83v1.29h-11.83zM74.7 614.21h11.83v1.29h-11.83zM74.7 618.17h11.83v1.29h-11.83zM74.7 623.13h11.83v1.29h-11.83zM74.7 637.01h11.83v1.29h-11.83zM86.2 607.27h11.83v1.29h-11.83zM86.2 621.15h11.83v1.29h-11.83zM86.2 625.11h11.83v1.29h-11.83zM86.2 635.03h11.83v1.29h-11.83zM132.1 633.04h11.83v1.29h-11.83zM143.6 626.10h11.48v1.29h-11.48zM40.3 639.80h11.83v1.55h-11.83zM97.7 641.05h11.83v1.55h-11.83zM51.8 653.11h11.83v1.26h-11.83zM63.2 655.03h11.83v1.26h-11.83zM86.2 652.16h11.83v1.26h-11.83zM40.3 662.66h11.83v1.32h-11.83zM51.8 659.60h11.83v1.32h-11.83zM51.8 678.96h11.83v1.32h-11.83zM74.7 666.73h11.83v1.32h-11.83zM74.7 673.87h11.83v1.32h-11.83zM86.2 675.90h11.83v1.32h-11.83zM97.7 663.68h11.83v1.32h-11.83zM97.7 668.77h11.83v1.32h-11.83zM97.7 679.98h11.83v1.32h-11.83zM109.2 673.87h11.83v1.32h-11.83zM109.2 676.92h11.83v1.32h-11.83zM132.1 660.62h11.83v1.32h-11.83zM143.6 677.94h11.48v1.32h-11.48zM40.3 686.13h11.83v1.28h-11.83zM40.3 687.11h11.83v1.28h-11.83zM97.7 684.18h11.83v1.28h-11.83zM97.7 687.11h11.83v1.28h-11.83zM97.7 689.06h11.83v1.28h-11.83zM97.7 692.97h11.83v1.28h-11.83zM109.2 683.20h11.83v1.28h-11.83zM109.2 684.18h11.83v1.28h-11.83zM132.1 683.20h11.83v1.28h-11.83zM40.3 699.09h11.83v1.29h-11.83zM40.3 700.08h11.83v1.29h-11.83zM40.3 702.07h11.83v1.29h-11.83zM40.3 706.03h11.83v1.29h-11.83zM51.8 700.08h11.83v1.29h-11.83zM51.8 704.05h11.83v1.29h-11.83zM63.2 702.07h11.83v1.29h-11.83zM74.7 709.01h11.83v1.29h-11.83zM86.2 701.08h11.83v1.29h-11.83zM86.2 702.07h11.83v1.29h-11.83zM86.2 705.04h11.83v1.29h-11.83zM120.7 700.08h11.83v1.29h-11.83z"/><path fill="#7d7d71" d="M74.7 597.84h11.83v1.29h-11.83zM97.7 594.89h11.83v1.29h-11.83zM97.7 595.87h11.83v1.29h-11.83zM97.7 596.86h11.83v1.29h-11.83zM109.2 599.81h11.83v1.29h-11.83zM132.1 597.84h11.83v1.29h-11.83zM28.8 615.20h11.83v1.29h-11.83zM74.7 615.20h11.83v1.29h-11.83zM97.7 620.15h11.83v1.29h-11.83zM97.7 624.12h11.83v1.29h-11.83zM109.2 606.27h11.83v1.29h-11.83zM109.2 618.17h11.83v1.29h-11.83zM109.2 619.16h11.83v1.29h-11.83zM109.2 626.10h11.83v1.29h-11.83zM109.2 628.09h11.83v1.29h-11.83zM109.2 629.08h11.83v1.29h-11.83zM109.2 634.03h11.83v1.29h-11.83zM109.2 635.03h11.83v1.29h-11.83zM120.7 616.19h11.83v1.29h-11.83zM132.1 614.21h11.83v1.29h-11.83zM132.1 629.08h11.83v1.29h-11.83zM132.1 631.06h11.83v1.29h-11.83zM132.1 636.02h11.83v1.29h-11.83zM143.6 606.27h11.48v1.29h-11.48zM143.6 610.24h11.48v1.29h-11.48zM143.6 620.15h11.48v1.29h-11.48zM143.6 624.12h11.48v1.29h-11.48zM143.6 627.09h11.48v1.29h-11.48zM143.6 633.04h11.48v1.29h-11.48zM86.2 639.80h11.83v1.55h-11.83zM74.7 644.70h11.83v1.30h-11.83zM109.2 643.70h11.83v1.30h-11.83zM132.1 644.70h11.83v1.30h-11.83zM51.8 655.03h11.83v1.26h-11.83zM109.2 655.03h11.83v1.26h-11.83zM109.2 656.94h11.83v1.26h-11.83zM40.3 663.68h11.83v1.32h-11.83zM40.3 664.70h11.83v1.32h-11.83zM40.3 668.77h11.83v1.32h-11.83zM40.3 670.81h11.83v1.32h-11.83zM40.3 674.89h11.83v1.32h-11.83zM40.3 677.94h11.83v1.32h-11.83zM63.2 659.60h11.83v1.32h-11.83zM63.2 660.62h11.83v1.32h-11.83zM63.2 670.81h11.83v1.32h-11.83zM63.2 672.85h11.83v1.32h-11.83zM109.2 679.98h11.83v1.32h-11.83zM120.7 667.75h11.83v1.32h-11.83zM120.7 672.85h11.83v1.32h-11.83zM120.7 674.89h11.83v1.32h-11.83zM132.1 663.68h11.83v1.32h-11.83zM132.1 669.79h11.83v1.32h-11.83zM132.1 672.85h11.83v1.32h-11.83zM132.1 679.98h11.83v1.32h-11.83zM143.6 673.87h11.48v1.32h-11.48zM143.6 678.96h11.48v1.32h-11.48zM28.8 685.15h11.83v1.28h-11.83zM28.8 691.02h11.83v1.28h-11.83zM28.8 692.97h11.83v1.28h-11.83zM28.8 693.95h11.83v1.28h-11.83zM40.3 694.92h11.83v1.28h-11.83zM63.2 684.18h11.83v1.28h-11.83zM63.2 685.15h11.83v1.28h-11.83zM132.1 691.99h11.83v1.28h-11.83zM143.6 687.11h11.48v1.28h-11.48zM143.6 690.04h11.48v1.28h-11.48zM143.6 692.97h11.48v1.28h-11.48zM74.7 699.09h11.83v1.29h-11.83zM86.2 704.05h11.83v1.29h-11.83zM97.7 700.08h11.83v1.29h-11.83zM97.7 701.08h11.83v1.29h-11.83zM97.7 703.06h11.83v1.29h-11.83zM97.7 704.05h11.83v1.29h-11.83zM132.1 698.10h11.83v1.29h-11.83zM143.6 701.08h11.48v1.29h-11.48z"/><path fill="#54549c" d="M86.2 594.89h11.83v1.29h-11.83zM28.8 614.21h11.83v1.29h-11.83zM40.3 610.24h11.83v1.29h-11.83zM40.3 617.18h11.83v1.29h-11.83zM40.3 620.15h11.83v1.29h-11.83zM51.8 605.28h11.83v1.29h-11.83zM51.8 629.08h11.83v1.29h-11.83zM63.2 619.16h11.83v1.29h-11.83zM74.7 606.27h11.83v1.29h-11.83zM74.7 610.24h11.83v1.29h-11.83zM74.7 616.19h11.83v1.29h-11.83zM74.7 619.16h11.83v1.29h-11.83zM74.7 627.09h11.83v1.29h-11.83zM74.7 629.08h11.83v1.29h-11.83zM74.7 633.04h11.83v1.29h-11.83zM74.7 634.03h11.83v1.29h-11.83zM86.2 610.24h11.83v1.29h-11.83zM86.2 614.21h11.83v1.29h-11.83zM86.2 620.15h11.83v1.29h-11.83zM86.2 627.09h11.83v1.29h-11.83zM132.1 606.27h11.83v1.29h-11.83zM143.6 641.05h11.48v1.55h-11.48zM51.8 647.70h11.83v1.30h-11.83zM74.7 653.11h11.83v1.26h-11.83zM132.1 655.99h11.83v1.26h-11.83zM143.6 653.11h11.48v1.26h-11.48zM51.8 660.62h11.83v1.32h-11.83zM51.8 664.70h11.83v1.32h-11.83zM51.8 673.87h11.83v1.32h-11.83zM51.8 674.89h11.83v1.32h-11.83zM74.7 661.64h11.83v1.32h-11.83zM74.7 676.92h11.83v1.32h-11.83zM86.2 671.83h11.83v1.32h-11.83zM86.2 678.96h11.83v1.32h-11.83zM97.7 664.70h11.83v1.32h-11.83zM109.2 662.66h11.83v1.32h-11.83zM109.2 665.71h11.83v1.32h-11.83zM109.2 666.73h11.83v1.32h-11.83zM132.1 661.64h11.83v1.32h-11.83zM132.1 670.81h11.83v1.32h-11.83zM143.6 674.89h11.48v1.32h-11.48zM40.3 690.04h11.83v1.28h-11.83zM97.7 686.13h11.83v1.28h-11.83zM97.7 691.02h11.83v1.28h-11.83zM97.7 693.95h11.83v1.28h-11.83zM109.2 694.92h11.83v1.28h-11.83zM120.7 684.18h11.83v1.28h-11.83zM120.7 691.02h11.83v1.28h-11.83zM132.1 685.15h11.83v1.28h-11.83zM132.1 688.08h11.83v1.28h-11.83zM143.6 684.18h11.48v1.28h-11.48zM51.8 709.01h11.83v1.29h-11.83zM63.2 701.08h11.83v1.29h-11.83zM63.2 704.05h11.83v1.29h-11.83zM63.2 709.01h11.83v1.29h-11.83zM86.2 707.02h11.83v1.29h-11.83zM86.2 709.01h11.83v1.29h-11.83zM120.7 698.10h11.83v1.29h-11.83zM120.7 699.09h11.83v1.29h-11.83zM120.7 705.04h11.83v1.29h-11.83zM132.1 701.08h11.83v1.29h-11.83zM132.1 705.04h11.83v1.29h-11.83zM143.6 709.01h11.48v1.29h-11.48z"/><path fill="#4242b0" d="M86.2 598.83h11.83v1.29h-11.83zM28.8 610.24h11.83v1.29h-11.83zM28.8 630.07h11.83v1.29h-11.83zM40.3 633.04h11.83v1.29h-11.83zM51.8 616.19h11.83v1.29h-11.83zM51.8 631.06h11.83v1.29h-11.83zM63.2 606.27h11.83v1.29h-11.83zM63.2 610.24h11.83v1.29h-11.83zM63.2 611.23h11.83v1.29h-11.83zM63.2 620.15h11.83v1.29h-11.83zM63.2 633.04h11.83v1.29h-11.83zM74.7 626.10h11.83v1.29h-11.83zM86.2 613.21h11.83v1.29h-11.83zM86.2 617.18h11.83v1.29h-11.83zM86.2 623.13h11.83v1.29h-11.83zM86.2 624.12h11.83v1.29h-11.83zM86.2 630.07h11.83v1.29h-11.83zM28.8 639.80h11.83v1.55h-11.83zM40.3 641.05h11.83v1.55h-11.83zM40.3 645.70h11.83v1.30h-11.83zM51.8 646.70h11.83v1.30h-11.83zM63.2 651.20h11.83v1.26h-11.83zM86.2 651.20h11.83v1.26h-11.83zM86.2 656.94h11.83v1.26h-11.83zM51.8 667.75h11.83v1.32h-11.83zM51.8 669.79h11.83v1.32h-11.83zM51.8 670.81h11.83v1.32h-11.83zM51.8 671.83h11.83v1.32h-11.83zM51.8 675.90h11.83v1.32h-11.83zM51.8 677.94h11.83v1.32h-11.83zM51.8 679.98h11.83v1.32h-11.83zM86.2 673.87h11.83v1.32h-11.83zM97.7 666.73h11.83v1.32h-11.83zM132.1 667.75h11.83v1.32h-11.83zM132.1 676.92h11.83v1.32h-11.83zM132.1 677.94h11.83v1.32h-11.83zM143.6 675.90h11.48v1.32h-11.48zM40.3 689.06h11.83v1.28h-11.83zM97.7 688.08h11.83v1.28h-11.83zM120.7 690.04h11.83v1.28h-11.83zM132.1 694.92h11.83v1.28h-11.83zM40.3 701.08h11.83v1.29h-11.83zM120.7 707.02h11.83v1.29h-11.83zM132.1 706.03h11.83v1.29h-11.83z"/><path fill="#5a5a96" d="M109.2 593.90h11.83v1.29h-11.83zM143.6 593.90h11.48v1.29h-11.48zM143.6 599.81h11.48v1.29h-11.48zM28.8 632.05h11.83v1.29h-11.83zM40.3 604.29h11.83v1.29h-11.83zM40.3 608.26h11.83v1.29h-11.83zM40.3 611.23h11.83v1.29h-11.83zM40.3 613.21h11.83v1.29h-11.83zM40.3 615.20h11.83v1.29h-11.83zM40.3 622.14h11.83v1.29h-11.83zM40.3 630.07h11.83v1.29h-11.83zM40.3 634.03h11.83v1.29h-11.83zM40.3 636.02h11.83v1.29h-11.83zM40.3 637.01h11.83v1.29h-11.83zM63.2 603.30h11.83v1.29h-11.83zM63.2 617.18h11.83v1.29h-11.83zM63.2 623.13h11.83v1.29h-11.83zM63.2 636.02h11.83v1.29h-11.83zM74.7 611.23h11.83v1.29h-11.83zM74.7 620.15h11.83v1.29h-11.83zM74.7 625.11h11.83v1.29h-11.83zM74.7 631.06h11.83v1.29h-11.83zM86.2 609.25h11.83v1.29h-11.83zM86.2 637.01h11.83v1.29h-11.83zM109.2 610.24h11.83v1.29h-11.83zM132.1 620.15h11.83v1.29h-11.83zM97.7 639.80h11.83v1.55h-11.83zM109.2 641.05h11.83v1.55h-11.83zM132.1 639.80h11.83v1.55h-11.83zM28.8 645.70h11.83v1.30h-11.83zM40.3 646.70h11.83v1.30h-11.83zM51.8 645.70h11.83v1.30h-11.83zM74.7 646.70h11.83v1.30h-11.83zM63.2 656.94h11.83v1.26h-11.83zM74.7 655.99h11.83v1.26h-11.83zM97.7 653.11h11.83v1.26h-11.83zM120.7 656.94h11.83v1.26h-11.83zM132.1 651.20h11.83v1.26h-11.83zM74.7 662.66h11.83v1.32h-11.83zM74.7 664.70h11.83v1.32h-11.83zM74.7 670.81h11.83v1.32h-11.83zM74.7 677.94h11.83v1.32h-11.83zM86.2 669.79h11.83v1.32h-11.83zM86.2 674.89h11.83v1.32h-11.83zM86.2 679.98h11.83v1.32h-11.83zM97.7 675.90h11.83v1.32h-11.83zM109.2 659.60h11.83v1.32h-11.83zM109.2 677.94h11.83v1.32h-11.83zM132.1 659.60h11.83v1.32h-11.83zM132.1 668.77h11.83v1.32h-11.83zM132.1 674.89h11.83v1.32h-11.83zM143.6 671.83h11.48v1.32h-11.48zM143.6 672.85h11.48v1.32h-11.48zM143.6 676.92h11.48v1.32h-11.48zM40.3 685.15h11.83v1.28h-11.83zM40.3 688.08h11.83v1.28h-11.83zM40.3 691.99h11.83v1.28h-11.83zM40.3 693.95h11.83v1.28h-11.83zM74.7 686.13h11.83v1.28h-11.83zM74.7 691.99h11.83v1.28h-11.83zM74.7 694.92h11.83v1.28h-11.83zM97.7 694.92h11.83v1.28h-11.83zM120.7 683.20h11.83v1.28h-11.83zM120.7 686.13h11.83v1.28h-11.83zM120.7 691.99h11.83v1.28h-11.83zM132.1 684.18h11.83v1.28h-11.83zM132.1 686.13h11.83v1.28h-11.83zM132.1 687.11h11.83v1.28h-11.83zM132.1 692.97h11.83v1.28h-11.83zM143.6 686.13h11.48v1.28h-11.48zM74.7 703.06h11.83v1.29h-11.83zM86.2 700.08h11.83v1.29h-11.83zM86.2 708.02h11.83v1.29h-11.83zM120.7 703.06h11.83v1.29h-11.83zM132.1 702.07h11.83v1.29h-11.83z"/><path fill="#777777" d="M120.7 593.90h11.83v1.29h-11.83zM120.7 595.87h11.83v1.29h-11.83zM132.1 598.83h11.83v1.29h-11.83zM143.6 596.86h11.48v1.29h-11.48zM143.6 597.84h11.48v1.29h-11.48zM28.8 605.28h11.83v1.29h-11.83zM28.8 608.26h11.83v1.29h-11.83zM28.8 621.15h11.83v1.29h-11.83zM28.8 622.14h11.83v1.29h-11.83zM28.8 629.08h11.83v1.29h-11.83zM28.8 636.02h11.83v1.29h-11.83zM40.3 618.17h11.83v1.29h-11.83zM51.8 606.27h11.83v1.29h-11.83zM74.7 630.07h11.83v1.29h-11.83zM86.2 626.10h11.83v1.29h-11.83zM109.2 605.28h11.83v1.29h-11.83zM109.2 607.27h11.83v1.29h-11.83zM109.2 609.25h11.83v1.29h-11.83zM109.2 612.22h11.83v1.29h-11.83zM109.2 616.19h11.83v1.29h-11.83zM109.2 624.12h11.83v1.29h-11.83zM120.7 610.24h11.83v1.29h-11.83zM120.7 615.20h11.83v1.29h-11.83zM120.7 635.03h11.83v1.29h-11.83zM132.1 603.30h11.83v1.29h-11.83zM132.1 612.22h11.83v1.29h-11.83zM132.1 616.19h11.83v1.29h-11.83zM132.1 623.13h11.83v1.29h-11.83zM132.1 627.09h11.83v1.29h-11.83zM132.1 628.09h11.83v1.29h-11.83zM143.6 631.06h11.48v1.29h-11.48zM143.6 636.02h11.48v1.29h-11.48zM28.8 643.70h11.83v1.30h-11.83zM28.8 647.70h11.83v1.30h-11.83zM109.2 645.70h11.83v1.30h-11.83zM120.7 643.70h11.83v1.30h-11.83zM120.7 644.70h11.83v1.30h-11.83zM132.1 647.70h11.83v1.30h-11.83zM143.6 643.70h11.48v1.30h-11.48zM143.6 645.70h11.48v1.30h-11.48zM143.6 646.70h11.48v1.30h-11.48zM143.6 647.70h11.48v1.30h-11.48zM109.2 651.20h11.83v1.26h-11.83zM40.3 667.75h11.83v1.32h-11.83zM40.3 673.87h11.83v1.32h-11.83zM63.2 661.64h11.83v1.32h-11.83zM63.2 662.66h11.83v1.32h-11.83zM63.2 664.70h11.83v1.32h-11.83zM63.2 666.73h11.83v1.32h-11.83zM63.2 668.77h11.83v1.32h-11.83zM63.2 675.90h11.83v1.32h-11.83zM63.2 679.98h11.83v1.32h-11.83zM86.2 661.64h11.83v1.32h-11.83zM109.2 669.79h11.83v1.32h-11.83zM109.2 672.85h11.83v1.32h-11.83zM109.2 674.89h11.83v1.32h-11.83zM109.2 678.96h11.83v1.32h-11.83zM132.1 678.96h11.83v1.32h-11.83zM63.2 691.02h11.83v1.28h-11.83zM86.2 685.15h11.83v1.28h-11.83zM86.2 691.02h11.83v1.28h-11.83zM132.1 689.06h11.83v1.28h-11.83zM132.1 690.04h11.83v1.28h-11.83zM74.7 701.08h11.83v1.29h-11.83zM74.7 707.02h11.83v1.29h-11.83zM97.7 699.09h11.83v1.29h-11.83zM97.7 707.02h11.83v1.29h-11.83zM109.2 700.08h11.83v1.29h-11.83zM109.2 701.08h11.83v1.29h-11.83zM109.2 706.03h11.83v1.29h-11.83zM132.1 709.01h11.83v1.29h-11.83zM143.6 700.08h11.48v1.29h-11.48zM143.6 702.07h11.48v1.29h-11.48z"/><path fill="#606090" d="M28.8 613.21h11.83v1.29h-11.83zM28.8 623.13h11.83v1.29h-11.83zM28.8 635.03h11.83v1.29h-11.83zM40.3 606.27h11.83v1.29h-11.83zM40.3 614.21h11.83v1.29h-11.83zM63.2 629.08h11.83v1.29h-11.83zM63.2 630.07h11.83v1.29h-11.83zM63.2 631.06h11.83v1.29h-11.83zM63.2 634.03h11.83v1.29h-11.83zM74.7 609.25h11.83v1.29h-11.83zM74.7 612.22h11.83v1.29h-11.83zM74.7 635.03h11.83v1.29h-11.83zM74.7 636.02h11.83v1.29h-11.83zM86.2 618.17h11.83v1.29h-11.83zM86.2 633.04h11.83v1.29h-11.83zM86.2 634.03h11.83v1.29h-11.83zM120.7 607.27h11.83v1.29h-11.83zM132.1 611.23h11.83v1.29h-11.83zM132.1 632.05h11.83v1.29h-11.83zM143.6 612.22h11.48v1.29h-11.48zM109.2 639.80h11.83v1.55h-11.83zM51.8 643.70h11.83v1.30h-11.83zM63.2 645.70h11.83v1.30h-11.83zM74.7 645.70h11.83v1.30h-11.83zM143.6 644.70h11.48v1.30h-11.48zM51.8 652.16h11.83v1.26h-11.83zM63.2 654.07h11.83v1.26h-11.83zM63.2 655.99h11.83v1.26h-11.83zM109.2 653.11h11.83v1.26h-11.83zM143.6 651.20h11.48v1.26h-11.48zM74.7 659.60h11.83v1.32h-11.83zM86.2 660.62h11.83v1.32h-11.83zM86.2 666.73h11.83v1.32h-11.83zM97.7 665.71h11.83v1.32h-11.83zM97.7 669.79h11.83v1.32h-11.83zM97.7 677.94h11.83v1.32h-11.83zM109.2 671.83h11.83v1.32h-11.83zM120.7 663.68h11.83v1.32h-11.83zM120.7 678.96h11.83v1.32h-11.83zM132.1 665.71h11.83v1.32h-11.83zM132.1 666.73h11.83v1.32h-11.83zM143.6 660.62h11.48v1.32h-11.48zM143.6 662.66h11.48v1.32h-11.48zM40.3 683.20h11.83v1.28h-11.83zM74.7 685.15h11.83v1.28h-11.83zM74.7 692.97h11.83v1.28h-11.83zM86.2 690.04h11.83v1.28h-11.83zM120.7 685.15h11.83v1.28h-11.83zM120.7 688.08h11.83v1.28h-11.83zM132.1 691.02h11.83v1.28h-11.83zM132.1 693.95h11.83v1.28h-11.83zM143.6 691.99h11.48v1.28h-11.48zM51.8 708.02h11.83v1.29h-11.83zM63.2 706.03h11.83v1.29h-11.83zM74.7 702.07h11.83v1.29h-11.83zM74.7 708.02h11.83v1.29h-11.83zM86.2 706.03h11.83v1.29h-11.83zM120.7 708.02h11.83v1.29h-11.83zM120.7 709.01h11.83v1.29h-11.83zM143.6 698.10h11.48v1.29h-11.48z"/><path fill="#3737bd" d="M40.3 609.25h11.83v1.29h-11.83zM40.3 616.19h11.83v1.29h-11.83zM40.3 623.13h11.83v1.29h-11.83zM40.3 625.11h11.83v1.29h-11.83zM40.3 632.05h11.83v1.29h-11.83zM51.8 608.26h11.83v1.29h-11.83zM51.8 611.23h11.83v1.29h-11.83zM51.8 612.22h11.83v1.29h-11.83zM51.8 621.15h11.83v1.29h-11.83zM51.8 623.13h11.83v1.29h-11.83zM51.8 625.11h11.83v1.29h-11.83zM51.8 634.03h11.83v1.29h-11.83zM63.2 605.28h11.83v1.29h-11.83zM63.2 613.21h11.83v1.29h-11.83zM63.2 622.14h11.83v1.29h-11.83zM63.2 637.01h11.83v1.29h-11.83zM74.7 608.26h11.83v1.29h-11.83zM74.7 617.18h11.83v1.29h-11.83zM86.2 628.09h11.83v1.29h-11.83zM86.2 636.02h11.83v1.29h-11.83zM74.7 656.94h11.83v1.26h-11.83zM86.2 655.03h11.83v1.26h-11.83zM143.6 652.16h11.48v1.26h-11.48zM51.8 661.64h11.83v1.32h-11.83zM51.8 672.85h11.83v1.32h-11.83zM74.7 668.77h11.83v1.32h-11.83zM97.7 661.64h11.83v1.32h-11.83zM97.7 667.75h11.83v1.32h-11.83zM97.7 690.04h11.83v1.28h-11.83zM109.2 685.15h11.83v1.28h-11.83zM109.2 688.08h11.83v1.28h-11.83zM109.2 693.95h11.83v1.28h-11.83zM51.8 701.08h11.83v1.29h-11.83z"/><path fill="#3131c4" d="M51.8 603.30h11.83v1.29h-11.83zM63.2 607.27h11.83v1.29h-11.83zM86.2 604.29h11.83v1.29h-11.83zM86.2 605.28h11.83v1.29h-11.83zM86.2 606.27h11.83v1.29h-11.83zM51.8 651.20h11.83v1.26h-11.83zM74.7 651.20h11.83v1.26h-11.83zM51.8 668.77h11.83v1.32h-11.83zM109.2 687.11h11.83v1.28h-11.83zM109.2 690.04h11.83v1.28h-11.83zM51.8 703.06h11.83v1.29h-11.83zM51.8 707.02h11.83v1.29h-11.83z"/><path fill="#bdbd37" d="M97.7 610.24h11.83v1.29h-11.83zM120.7 620.15h11.83v1.29h-11.83zM40.3 654.07h11.83v1.26h-11.83zM28.8 666.73h11.83v1.32h-11.83zM28.8 676.92h11.83v1.32h-11.83zM120.7 670.81h11.83v1.32h-11.83z"/><path fill="#d2d225" d="M97.7 614.21h11.83v1.29h-11.83zM40.3 655.03h11.83v1.26h-11.83zM28.8 669.79h11.83v1.32h-11.83z"/><path fill="#b7b73d" d="M97.7 617.18h11.83v1.29h-11.83zM120.7 611.23h11.83v1.29h-11.83zM120.7 612.22h11.83v1.29h-11.83zM28.8 659.60h11.83v1.32h-11.83zM28.8 687.11h11.83v1.28h-11.83zM28.8 694.92h11.83v1.28h-11.83zM28.8 707.02h11.83v1.29h-11.83zM143.6 707.02h11.48v1.29h-11.48z"/><path fill="#dada1f" d="M97.7 622.14h11.83v1.29h-11.83zM120.7 603.30h11.83v1.29h-11.83zM40.3 655.99h11.83v1.26h-11.83zM28.8 663.68h11.83v1.32h-11.83zM28.8 664.70h11.83v1.32h-11.83zM28.8 671.83h11.83v1.32h-11.83z"/><path fill="#a9a948" d="M97.7 627.09h11.83v1.29h-11.83zM97.7 632.05h11.83v1.29h-11.83zM86.2 644.70h11.83v1.30h-11.83zM97.7 645.70h11.83v1.30h-11.83zM109.2 646.70h11.83v1.30h-11.83zM28.8 668.77h11.83v1.32h-11.83zM63.2 677.94h11.83v1.32h-11.83zM97.7 672.85h11.83v1.32h-11.83zM63.2 683.20h11.83v1.28h-11.83zM28.8 700.08h11.83v1.29h-11.83zM28.8 704.05h11.83v1.29h-11.83z"/><path fill="#c4c431" d="M120.7 609.25h11.83v1.29h-11.83zM97.7 655.03h11.83v1.26h-11.83zM28.8 660.62h11.83v1.32h-11.83zM28.8 667.75h11.83v1.32h-11.83zM28.8 673.87h11.83v1.32h-11.83zM28.8 679.98h11.83v1.32h-11.83zM51.8 686.13h11.83v1.28h-11.83zM28.8 703.06h11.83v1.29h-11.83zM28.8 705.04h11.83v1.29h-11.83zM28.8 708.02h11.83v1.29h-11.83z"/><path fill="#efef0c" d="M40.3 651.20h11.83v1.26h-11.83zM40.3 653.11h11.83v1.26h-11.83zM40.3 656.94h11.83v1.26h-11.83zM28.8 670.81h11.83v1.32h-11.83zM28.8 678.96h11.83v1.32h-11.83zM51.8 694.92h11.83v1.28h-11.83zM28.8 701.08h11.83v1.29h-11.83zM28.8 702.07h11.83v1.29h-11.83z"/><path fill="#cbcb2b" d="M40.3 652.16h11.83v1.26h-11.83zM28.8 662.66h11.83v1.32h-11.83zM28.8 706.03h11.83v1.29h-11.83zM143.6 703.06h11.48v1.29h-11.48z"/><path fill="#0c0cef" d="M51.8 655.99h11.83v1.26h-11.83z"/><path fill="#e8e812" d="M28.8 661.64h11.83v1.32h-11.83zM28.8 672.85h11.83v1.32h-11.83zM28.8 674.89h11.83v1.32h-11.83zM51.8 691.99h11.83v1.28h-11.83z"/><path fill="#e1e119" d="M28.8 665.71h11.83v1.32h-11.83zM28.8 675.90h11.83v1.32h-11.83zM28.8 677.94h11.83v1.32h-11.83zM51.8 691.02h11.83v1.28h-11.83z"/><path fill="#1212e8" d="M40.3 707.02h11.83v1.29h-11.83z"/>
<text x="47.2" y="562.8" font-size="11.8" fill="#111" textLength="89.30" lengthAdjust="spacingAndGlyphs">CD4 CD69<tspan font-size="7.3" baseline-shift="4.6">+</tspan>_Tm</text>
<rect x="169.90" y="580.2" width="23.19" height="8.90" fill="#fa9e36"/>
<rect x="192.79" y="580.2" width="23.19" height="8.90" fill="#00f6fa"/>
<rect x="215.68" y="580.2" width="23.19" height="8.90" fill="#bebebe"/>
<rect x="238.57" y="580.2" width="34.64" height="8.90" fill="#efe24a"/>
<rect x="272.91" y="580.2" width="22.89" height="8.90" fill="#ee82ee"/>
<path d="M175.62,580.20V568.60H187.07V580.20M221.40,580.20V575.70H232.85V580.20M209.96,580.20V574.30H227.13V575.70M198.51,580.20V571.90H218.54V574.30M244.30,580.20V574.30H255.74V580.20M267.19,580.20V572.40H278.63V580.20M250.02,574.30V570.50H272.91V572.40M208.53,571.90V569.60H261.46V570.50M181.35,568.60V568.60H235.00V569.60M208.17,568.60V566.20H290.08V580.20" fill="none" stroke="#7a7a7a" stroke-width="0.75"/>
<rect x="169.90" y="590.90" width="125.90" height="13.10" fill="#606090"/><rect x="169.90" y="606.50" width="125.90" height="9.20" fill="#606090"/><rect x="169.90" y="617.40" width="125.90" height="15.70" fill="#606090"/><rect x="169.90" y="635.60" width="125.90" height="9.90" fill="#606090"/><rect x="169.90" y="647.50" width="125.90" height="28.50" fill="#606090"/><rect x="169.90" y="677.80" width="125.90" height="9.90" fill="#606090"/><rect x="169.90" y="688.90" width="125.90" height="2.50" fill="#606090"/><rect x="169.90" y="693.40" width="125.90" height="16.60" fill="#606090"/><path fill="#6b6b83" d="M169.9 590.90h11.80v1.31h-11.80zM192.8 590.90h11.80v1.31h-11.80zM204.2 598.96h11.80v1.31h-11.80zM227.1 595.94h11.80v1.31h-11.80zM238.6 591.91h11.80v1.31h-11.80zM238.6 592.92h11.80v1.31h-11.80zM238.6 594.93h11.80v1.31h-11.80zM238.6 600.98h11.80v1.31h-11.80zM272.9 598.96h11.80v1.31h-11.80zM169.9 606.50h11.80v1.32h-11.80zM169.9 613.66h11.80v1.32h-11.80zM227.1 609.57h11.80v1.32h-11.80zM250.0 612.63h11.80v1.32h-11.80zM261.5 610.59h11.80v1.32h-11.80zM272.9 608.54h11.80v1.32h-11.80zM272.9 613.66h11.80v1.32h-11.80zM284.4 613.66h11.45v1.32h-11.45zM181.3 621.33h11.80v1.28h-11.80zM192.8 617.40h11.80v1.28h-11.80zM204.2 619.36h11.80v1.28h-11.80zM204.2 631.14h11.80v1.28h-11.80zM215.7 626.23h11.80v1.28h-11.80zM227.1 628.19h11.80v1.28h-11.80zM227.1 631.14h11.80v1.28h-11.80zM238.6 619.36h11.80v1.28h-11.80zM238.6 629.17h11.80v1.28h-11.80zM250.0 617.40h11.80v1.28h-11.80zM250.0 619.36h11.80v1.28h-11.80zM261.5 621.33h11.80v1.28h-11.80zM261.5 628.19h11.80v1.28h-11.80zM261.5 632.12h11.80v1.28h-11.80zM272.9 625.25h11.80v1.28h-11.80zM272.9 629.17h11.80v1.28h-11.80zM284.4 630.16h11.45v1.28h-11.45zM250.0 638.57h11.80v1.29h-11.80zM250.0 643.52h11.80v1.29h-11.80zM169.9 647.50h11.80v1.32h-11.80zM169.9 658.70h11.80v1.32h-11.80zM169.9 660.73h11.80v1.32h-11.80zM169.9 668.88h11.80v1.32h-11.80zM181.3 666.84h11.80v1.32h-11.80zM192.8 648.52h11.80v1.32h-11.80zM215.7 647.50h11.80v1.32h-11.80zM215.7 654.62h11.80v1.32h-11.80zM215.7 666.84h11.80v1.32h-11.80zM215.7 672.95h11.80v1.32h-11.80zM227.1 648.52h11.80v1.32h-11.80zM227.1 661.75h11.80v1.32h-11.80zM238.6 673.96h11.80v1.32h-11.80zM261.5 663.79h11.80v1.32h-11.80zM261.5 665.82h11.80v1.32h-11.80zM272.9 653.61h11.80v1.32h-11.80zM272.9 674.98h11.80v1.32h-11.80zM169.9 681.76h11.80v1.29h-11.80zM169.9 683.74h11.80v1.29h-11.80zM169.9 684.73h11.80v1.29h-11.80zM204.2 681.76h11.80v1.29h-11.80zM204.2 683.74h11.80v1.29h-11.80zM204.2 684.73h11.80v1.29h-11.80zM215.7 677.80h11.80v1.29h-11.80zM215.7 678.79h11.80v1.29h-11.80zM227.1 677.80h11.80v1.29h-11.80zM250.0 677.80h11.80v1.29h-11.80zM250.0 681.76h11.80v1.29h-11.80zM250.0 682.75h11.80v1.29h-11.80zM261.5 677.80h11.80v1.29h-11.80zM261.5 680.77h11.80v1.29h-11.80zM261.5 683.74h11.80v1.29h-11.80zM215.7 688.90h11.80v1.55h-11.80zM272.9 690.15h11.80v1.55h-11.80zM181.3 697.31h11.80v1.28h-11.80zM192.8 693.40h11.80v1.28h-11.80zM215.7 709.02h11.80v1.28h-11.80zM227.1 694.38h11.80v1.28h-11.80zM227.1 696.33h11.80v1.28h-11.80zM227.1 708.05h11.80v1.28h-11.80zM238.6 695.35h11.80v1.28h-11.80zM250.0 699.26h11.80v1.28h-11.80zM250.0 701.21h11.80v1.28h-11.80zM261.5 698.28h11.80v1.28h-11.80zM261.5 700.24h11.80v1.28h-11.80z"/><path fill="#7d7d71" d="M169.9 591.91h11.80v1.31h-11.80zM169.9 595.94h11.80v1.31h-11.80zM169.9 596.95h11.80v1.31h-11.80zM169.9 602.99h11.80v1.31h-11.80zM215.7 599.97h11.80v1.31h-11.80zM250.0 595.94h11.80v1.31h-11.80zM250.0 597.95h11.80v1.31h-11.80zM261.5 591.91h11.80v1.31h-11.80zM261.5 593.92h11.80v1.31h-11.80zM261.5 594.93h11.80v1.31h-11.80zM261.5 598.96h11.80v1.31h-11.80zM169.9 608.54h11.80v1.32h-11.80zM169.9 614.68h11.80v1.32h-11.80zM181.3 608.54h11.80v1.32h-11.80zM238.6 606.50h11.80v1.32h-11.80zM238.6 608.54h11.80v1.32h-11.80zM238.6 609.57h11.80v1.32h-11.80zM250.0 613.66h11.80v1.32h-11.80zM261.5 611.61h11.80v1.32h-11.80zM272.9 607.52h11.80v1.32h-11.80zM284.4 610.59h11.45v1.32h-11.45zM181.3 622.31h11.80v1.28h-11.80zM181.3 628.19h11.80v1.28h-11.80zM181.3 630.16h11.80v1.28h-11.80zM250.0 618.38h11.80v1.28h-11.80zM250.0 620.34h11.80v1.28h-11.80zM250.0 632.12h11.80v1.28h-11.80zM261.5 624.27h11.80v1.28h-11.80zM261.5 625.25h11.80v1.28h-11.80zM272.9 627.21h11.80v1.28h-11.80zM284.4 621.33h11.45v1.28h-11.45zM284.4 631.14h11.45v1.28h-11.45zM169.9 639.56h11.80v1.29h-11.80zM169.9 640.55h11.80v1.29h-11.80zM192.8 639.56h11.80v1.29h-11.80zM204.2 644.51h11.80v1.29h-11.80zM227.1 638.57h11.80v1.29h-11.80zM238.6 638.57h11.80v1.29h-11.80zM238.6 640.55h11.80v1.29h-11.80zM250.0 640.55h11.80v1.29h-11.80zM250.0 641.54h11.80v1.29h-11.80zM261.5 643.52h11.80v1.29h-11.80zM272.9 639.56h11.80v1.29h-11.80zM272.9 644.51h11.80v1.29h-11.80zM169.9 667.86h11.80v1.32h-11.80zM169.9 673.96h11.80v1.32h-11.80zM192.8 659.71h11.80v1.32h-11.80zM192.8 667.86h11.80v1.32h-11.80zM204.2 674.98h11.80v1.32h-11.80zM215.7 656.66h11.80v1.32h-11.80zM215.7 658.70h11.80v1.32h-11.80zM215.7 661.75h11.80v1.32h-11.80zM227.1 655.64h11.80v1.32h-11.80zM227.1 657.68h11.80v1.32h-11.80zM227.1 658.70h11.80v1.32h-11.80zM227.1 664.80h11.80v1.32h-11.80zM238.6 649.54h11.80v1.32h-11.80zM238.6 658.70h11.80v1.32h-11.80zM238.6 660.73h11.80v1.32h-11.80zM238.6 661.75h11.80v1.32h-11.80zM238.6 674.98h11.80v1.32h-11.80zM261.5 657.68h11.80v1.32h-11.80zM261.5 658.70h11.80v1.32h-11.80zM261.5 662.77h11.80v1.32h-11.80zM272.9 650.55h11.80v1.32h-11.80zM272.9 664.80h11.80v1.32h-11.80zM272.9 672.95h11.80v1.32h-11.80zM169.9 685.72h11.80v1.29h-11.80zM192.8 683.74h11.80v1.29h-11.80zM238.6 678.79h11.80v1.29h-11.80zM238.6 682.75h11.80v1.29h-11.80zM272.9 681.76h11.80v1.29h-11.80zM181.3 707.07h11.80v1.28h-11.80zM192.8 707.07h11.80v1.28h-11.80zM215.7 698.28h11.80v1.28h-11.80zM215.7 701.21h11.80v1.28h-11.80zM227.1 702.19h11.80v1.28h-11.80zM227.1 704.14h11.80v1.28h-11.80zM238.6 707.07h11.80v1.28h-11.80zM250.0 695.35h11.80v1.28h-11.80zM250.0 702.19h11.80v1.28h-11.80zM250.0 708.05h11.80v1.28h-11.80zM261.5 709.02h11.80v1.28h-11.80zM272.9 696.33h11.80v1.28h-11.80z"/><path fill="#b0b042" d="M169.9 592.92h11.80v1.31h-11.80zM284.4 602.99h11.45v1.31h-11.45zM181.3 611.61h11.80v1.32h-11.80zM227.1 608.54h11.80v1.32h-11.80zM261.5 612.63h11.80v1.32h-11.80zM169.9 619.36h11.80v1.28h-11.80zM181.3 627.21h11.80v1.28h-11.80zM204.2 643.52h11.80v1.29h-11.80zM284.4 639.56h11.45v1.29h-11.45zM238.6 654.62h11.80v1.32h-11.80zM250.0 654.62h11.80v1.32h-11.80zM272.9 684.73h11.80v1.29h-11.80z"/><path fill="#909060" d="M169.9 593.92h11.80v1.31h-11.80zM169.9 599.97h11.80v1.31h-11.80zM192.8 594.93h11.80v1.31h-11.80zM181.3 609.57h11.80v1.32h-11.80zM181.3 610.59h11.80v1.32h-11.80zM227.1 607.52h11.80v1.32h-11.80zM250.0 607.52h11.80v1.32h-11.80zM284.4 606.50h11.45v1.32h-11.45zM284.4 611.61h11.45v1.32h-11.45zM169.9 654.62h11.80v1.32h-11.80zM169.9 657.68h11.80v1.32h-11.80zM238.6 647.50h11.80v1.32h-11.80zM238.6 664.80h11.80v1.32h-11.80zM238.6 668.88h11.80v1.32h-11.80zM250.0 656.66h11.80v1.32h-11.80zM250.0 657.68h11.80v1.32h-11.80zM250.0 658.70h11.80v1.32h-11.80zM250.0 666.84h11.80v1.32h-11.80zM250.0 671.93h11.80v1.32h-11.80zM250.0 672.95h11.80v1.32h-11.80zM250.0 674.98h11.80v1.32h-11.80zM261.5 651.57h11.80v1.32h-11.80zM261.5 659.71h11.80v1.32h-11.80zM261.5 670.91h11.80v1.32h-11.80zM261.5 671.93h11.80v1.32h-11.80zM272.9 670.91h11.80v1.32h-11.80zM227.1 685.72h11.80v1.29h-11.80zM272.9 685.72h11.80v1.29h-11.80zM238.6 688.90h11.80v1.55h-11.80zM169.9 693.40h11.80v1.28h-11.80zM169.9 701.21h11.80v1.28h-11.80zM227.1 695.35h11.80v1.28h-11.80zM250.0 706.09h11.80v1.28h-11.80z"/><path fill="#83836b" d="M169.9 594.93h11.80v1.31h-11.80zM215.7 592.92h11.80v1.31h-11.80zM250.0 593.92h11.80v1.31h-11.80zM250.0 599.97h11.80v1.31h-11.80zM261.5 599.97h11.80v1.31h-11.80zM272.9 601.98h11.80v1.31h-11.80zM238.6 607.52h11.80v1.32h-11.80zM261.5 607.52h11.80v1.32h-11.80zM284.4 608.54h11.45v1.32h-11.45zM284.4 614.68h11.45v1.32h-11.45zM181.3 617.40h11.80v1.28h-11.80zM238.6 626.23h11.80v1.28h-11.80zM250.0 622.31h11.80v1.28h-11.80zM250.0 625.25h11.80v1.28h-11.80zM250.0 631.14h11.80v1.28h-11.80zM261.5 620.34h11.80v1.28h-11.80zM261.5 623.29h11.80v1.28h-11.80zM181.3 642.53h11.80v1.29h-11.80zM192.8 644.51h11.80v1.29h-11.80zM169.9 672.95h11.80v1.32h-11.80zM215.7 650.55h11.80v1.32h-11.80zM227.1 647.50h11.80v1.32h-11.80zM227.1 651.57h11.80v1.32h-11.80zM227.1 665.82h11.80v1.32h-11.80zM238.6 653.61h11.80v1.32h-11.80zM238.6 663.79h11.80v1.32h-11.80zM238.6 666.84h11.80v1.32h-11.80zM250.0 659.71h11.80v1.32h-11.80zM250.0 665.82h11.80v1.32h-11.80zM250.0 673.96h11.80v1.32h-11.80zM261.5 666.84h11.80v1.32h-11.80zM261.5 667.86h11.80v1.32h-11.80zM261.5 669.89h11.80v1.32h-11.80zM272.9 652.59h11.80v1.32h-11.80zM227.1 681.76h11.80v1.29h-11.80zM238.6 685.72h11.80v1.29h-11.80zM250.0 684.73h11.80v1.29h-11.80zM272.9 677.80h11.80v1.29h-11.80zM272.9 682.75h11.80v1.29h-11.80zM272.9 686.71h11.80v1.29h-11.80zM227.1 688.90h11.80v1.55h-11.80zM181.3 695.35h11.80v1.28h-11.80zM181.3 701.21h11.80v1.28h-11.80zM181.3 704.14h11.80v1.28h-11.80zM227.1 699.26h11.80v1.28h-11.80zM238.6 696.33h11.80v1.28h-11.80zM238.6 697.31h11.80v1.28h-11.80zM250.0 700.24h11.80v1.28h-11.80zM272.9 701.21h11.80v1.28h-11.80z"/><path fill="#777777" d="M169.9 597.95h11.80v1.31h-11.80zM169.9 601.98h11.80v1.31h-11.80zM227.1 597.95h11.80v1.31h-11.80zM250.0 594.93h11.80v1.31h-11.80zM250.0 598.96h11.80v1.31h-11.80zM261.5 592.92h11.80v1.31h-11.80zM272.9 593.92h11.80v1.31h-11.80zM272.9 599.97h11.80v1.31h-11.80zM169.9 612.63h11.80v1.32h-11.80zM215.7 607.52h11.80v1.32h-11.80zM250.0 614.68h11.80v1.32h-11.80zM227.1 620.34h11.80v1.28h-11.80zM238.6 617.40h11.80v1.28h-11.80zM238.6 624.27h11.80v1.28h-11.80zM250.0 626.23h11.80v1.28h-11.80zM272.9 618.38h11.80v1.28h-11.80zM272.9 620.34h11.80v1.28h-11.80zM284.4 622.31h11.45v1.28h-11.45zM284.4 626.23h11.45v1.28h-11.45zM284.4 632.12h11.45v1.28h-11.45zM169.9 641.54h11.80v1.29h-11.80zM169.9 643.52h11.80v1.29h-11.80zM192.8 635.60h11.80v1.29h-11.80zM192.8 637.58h11.80v1.29h-11.80zM192.8 641.54h11.80v1.29h-11.80zM204.2 641.54h11.80v1.29h-11.80zM261.5 637.58h11.80v1.29h-11.80zM272.9 640.55h11.80v1.29h-11.80zM169.9 664.80h11.80v1.32h-11.80zM169.9 666.84h11.80v1.32h-11.80zM204.2 653.61h11.80v1.32h-11.80zM204.2 662.77h11.80v1.32h-11.80zM227.1 660.73h11.80v1.32h-11.80zM238.6 671.93h11.80v1.32h-11.80zM250.0 661.75h11.80v1.32h-11.80zM250.0 664.80h11.80v1.32h-11.80zM261.5 664.80h11.80v1.32h-11.80zM261.5 674.98h11.80v1.32h-11.80zM272.9 647.50h11.80v1.32h-11.80zM272.9 648.52h11.80v1.32h-11.80zM272.9 661.75h11.80v1.32h-11.80zM272.9 669.89h11.80v1.32h-11.80zM272.9 673.96h11.80v1.32h-11.80zM192.8 680.77h11.80v1.29h-11.80zM192.8 682.75h11.80v1.29h-11.80zM204.2 682.75h11.80v1.29h-11.80zM227.1 683.74h11.80v1.29h-11.80zM238.6 677.80h11.80v1.29h-11.80zM250.0 678.79h11.80v1.29h-11.80zM250.0 680.77h11.80v1.29h-11.80zM261.5 679.78h11.80v1.29h-11.80zM261.5 684.73h11.80v1.29h-11.80zM169.9 708.05h11.80v1.28h-11.80zM181.3 693.40h11.80v1.28h-11.80zM181.3 694.38h11.80v1.28h-11.80zM181.3 696.33h11.80v1.28h-11.80zM181.3 702.19h11.80v1.28h-11.80zM181.3 709.02h11.80v1.28h-11.80zM192.8 697.31h11.80v1.28h-11.80zM192.8 698.28h11.80v1.28h-11.80zM192.8 699.26h11.80v1.28h-11.80zM192.8 704.14h11.80v1.28h-11.80zM215.7 700.24h11.80v1.28h-11.80zM227.1 693.40h11.80v1.28h-11.80zM227.1 705.12h11.80v1.28h-11.80zM227.1 706.09h11.80v1.28h-11.80zM238.6 703.16h11.80v1.28h-11.80zM238.6 709.02h11.80v1.28h-11.80zM250.0 693.40h11.80v1.28h-11.80zM250.0 705.12h11.80v1.28h-11.80zM261.5 696.33h11.80v1.28h-11.80zM261.5 701.21h11.80v1.28h-11.80z"/><path fill="#8a8a66" d="M169.9 598.96h11.80v1.31h-11.80zM192.8 596.95h11.80v1.31h-11.80zM192.8 597.95h11.80v1.31h-11.80zM227.1 594.93h11.80v1.31h-11.80zM238.6 601.98h11.80v1.31h-11.80zM250.0 590.90h11.80v1.31h-11.80zM181.3 613.66h11.80v1.32h-11.80zM181.3 614.68h11.80v1.32h-11.80zM250.0 606.50h11.80v1.32h-11.80zM250.0 608.54h11.80v1.32h-11.80zM181.3 620.34h11.80v1.28h-11.80zM181.3 624.27h11.80v1.28h-11.80zM181.3 629.17h11.80v1.28h-11.80zM181.3 632.12h11.80v1.28h-11.80zM227.1 623.29h11.80v1.28h-11.80zM238.6 621.33h11.80v1.28h-11.80zM261.5 617.40h11.80v1.28h-11.80zM272.9 617.40h11.80v1.28h-11.80zM284.4 627.21h11.45v1.28h-11.45zM169.9 636.59h11.80v1.29h-11.80zM204.2 642.53h11.80v1.29h-11.80zM238.6 636.59h11.80v1.29h-11.80zM284.4 635.60h11.45v1.29h-11.45zM284.4 643.52h11.45v1.29h-11.45zM169.9 650.55h11.80v1.32h-11.80zM204.2 654.62h11.80v1.32h-11.80zM227.1 654.62h11.80v1.32h-11.80zM238.6 652.59h11.80v1.32h-11.80zM238.6 657.68h11.80v1.32h-11.80zM238.6 659.71h11.80v1.32h-11.80zM238.6 662.77h11.80v1.32h-11.80zM250.0 647.50h11.80v1.32h-11.80zM250.0 652.59h11.80v1.32h-11.80zM250.0 662.77h11.80v1.32h-11.80zM261.5 649.54h11.80v1.32h-11.80zM261.5 650.55h11.80v1.32h-11.80zM261.5 656.66h11.80v1.32h-11.80zM272.9 655.64h11.80v1.32h-11.80zM272.9 668.88h11.80v1.32h-11.80zM192.8 677.80h11.80v1.29h-11.80zM192.8 679.78h11.80v1.29h-11.80zM215.7 681.76h11.80v1.29h-11.80zM250.0 683.74h11.80v1.29h-11.80zM169.9 703.16h11.80v1.28h-11.80zM169.9 706.09h11.80v1.28h-11.80zM181.3 703.16h11.80v1.28h-11.80zM181.3 706.09h11.80v1.28h-11.80zM192.8 696.33h11.80v1.28h-11.80zM192.8 702.19h11.80v1.28h-11.80zM238.6 698.28h11.80v1.28h-11.80zM272.9 709.02h11.80v1.28h-11.80z"/><path fill="#a9a948" d="M169.9 600.98h11.80v1.31h-11.80zM272.9 594.93h11.80v1.31h-11.80zM284.4 593.92h11.45v1.31h-11.45zM238.6 612.63h11.80v1.32h-11.80zM169.9 617.40h11.80v1.28h-11.80zM169.9 622.31h11.80v1.28h-11.80zM250.0 628.19h11.80v1.28h-11.80zM215.7 669.89h11.80v1.32h-11.80zM238.6 672.95h11.80v1.32h-11.80zM250.0 653.61h11.80v1.32h-11.80zM261.5 648.52h11.80v1.32h-11.80zM169.9 704.14h11.80v1.28h-11.80z"/><path fill="#3d3db7" d="M181.3 590.90h11.80v1.31h-11.80zM181.3 596.95h11.80v1.31h-11.80zM227.1 591.91h11.80v1.31h-11.80zM192.8 606.50h11.80v1.32h-11.80zM192.8 613.66h11.80v1.32h-11.80zM215.7 613.66h11.80v1.32h-11.80zM192.8 625.25h11.80v1.28h-11.80zM227.1 635.60h11.80v1.29h-11.80zM181.3 664.80h11.80v1.32h-11.80zM181.3 670.91h11.80v1.32h-11.80zM204.2 672.95h11.80v1.32h-11.80zM284.4 648.52h11.45v1.32h-11.45zM284.4 651.57h11.45v1.32h-11.45zM284.4 661.75h11.45v1.32h-11.45zM181.3 678.79h11.80v1.29h-11.80zM181.3 682.75h11.80v1.29h-11.80zM181.3 684.73h11.80v1.29h-11.80zM284.4 685.72h11.45v1.29h-11.45zM261.5 688.90h11.80v1.55h-11.80zM204.2 700.24h11.80v1.28h-11.80zM204.2 706.09h11.80v1.28h-11.80zM284.4 698.28h11.45v1.28h-11.45zM284.4 703.16h11.45v1.28h-11.45z"/><path fill="#2b2bcb" d="M181.3 591.91h11.80v1.31h-11.80zM181.3 599.97h11.80v1.31h-11.80zM192.8 623.29h11.80v1.28h-11.80zM192.8 629.17h11.80v1.28h-11.80zM181.3 662.77h11.80v1.32h-11.80zM181.3 673.96h11.80v1.32h-11.80zM284.4 660.73h11.45v1.32h-11.45zM284.4 673.96h11.45v1.32h-11.45zM169.9 678.79h11.80v1.29h-11.80zM181.3 685.72h11.80v1.29h-11.80zM204.2 693.40h11.80v1.28h-11.80zM284.4 697.31h11.45v1.28h-11.45zM284.4 705.12h11.45v1.28h-11.45z"/><path fill="#4848a9" d="M181.3 592.92h11.80v1.31h-11.80zM181.3 594.93h11.80v1.31h-11.80zM181.3 600.98h11.80v1.31h-11.80zM204.2 594.93h11.80v1.31h-11.80zM204.2 597.95h11.80v1.31h-11.80zM215.7 593.92h11.80v1.31h-11.80zM227.1 593.92h11.80v1.31h-11.80zM192.8 607.52h11.80v1.32h-11.80zM192.8 609.57h11.80v1.32h-11.80zM192.8 614.68h11.80v1.32h-11.80zM215.7 610.59h11.80v1.32h-11.80zM272.9 606.50h11.80v1.32h-11.80zM192.8 622.31h11.80v1.28h-11.80zM192.8 626.23h11.80v1.28h-11.80zM272.9 626.23h11.80v1.28h-11.80zM215.7 644.51h11.80v1.29h-11.80zM250.0 637.58h11.80v1.29h-11.80zM169.9 653.61h11.80v1.32h-11.80zM181.3 649.54h11.80v1.32h-11.80zM181.3 659.71h11.80v1.32h-11.80zM181.3 661.75h11.80v1.32h-11.80zM192.8 665.82h11.80v1.32h-11.80zM204.2 648.52h11.80v1.32h-11.80zM204.2 661.75h11.80v1.32h-11.80zM204.2 663.79h11.80v1.32h-11.80zM204.2 664.80h11.80v1.32h-11.80zM204.2 668.88h11.80v1.32h-11.80zM215.7 663.79h11.80v1.32h-11.80zM227.1 649.54h11.80v1.32h-11.80zM227.1 671.93h11.80v1.32h-11.80zM284.4 650.55h11.45v1.32h-11.45zM284.4 664.80h11.45v1.32h-11.45zM284.4 670.91h11.45v1.32h-11.45zM204.2 680.77h11.80v1.29h-11.80zM284.4 680.77h11.45v1.29h-11.45zM284.4 684.73h11.45v1.29h-11.45zM181.3 688.90h11.80v1.55h-11.80zM192.8 694.38h11.80v1.28h-11.80zM227.1 698.28h11.80v1.28h-11.80zM261.5 699.26h11.80v1.28h-11.80zM272.9 705.12h11.80v1.28h-11.80z"/><path fill="#4242b0" d="M181.3 593.92h11.80v1.31h-11.80zM250.0 592.92h11.80v1.31h-11.80zM192.8 612.63h11.80v1.32h-11.80zM204.2 607.52h11.80v1.32h-11.80zM204.2 614.68h11.80v1.32h-11.80zM192.8 630.16h11.80v1.28h-11.80zM204.2 627.21h11.80v1.28h-11.80zM272.9 622.31h11.80v1.28h-11.80zM204.2 636.59h11.80v1.29h-11.80zM227.1 640.55h11.80v1.29h-11.80zM227.1 641.54h11.80v1.29h-11.80zM227.1 643.52h11.80v1.29h-11.80zM261.5 644.51h11.80v1.29h-11.80zM272.9 635.60h11.80v1.29h-11.80zM169.9 655.64h11.80v1.32h-11.80zM169.9 656.66h11.80v1.32h-11.80zM169.9 674.98h11.80v1.32h-11.80zM181.3 650.55h11.80v1.32h-11.80zM181.3 655.64h11.80v1.32h-11.80zM181.3 658.70h11.80v1.32h-11.80zM181.3 667.86h11.80v1.32h-11.80zM284.4 649.54h11.45v1.32h-11.45zM284.4 654.62h11.45v1.32h-11.45zM284.4 656.66h11.45v1.32h-11.45zM284.4 657.68h11.45v1.32h-11.45zM284.4 663.79h11.45v1.32h-11.45zM284.4 666.84h11.45v1.32h-11.45zM284.4 667.86h11.45v1.32h-11.45zM284.4 669.89h11.45v1.32h-11.45zM284.4 672.95h11.45v1.32h-11.45zM284.4 674.98h11.45v1.32h-11.45zM181.3 677.80h11.80v1.29h-11.80zM284.4 679.78h11.45v1.29h-11.45zM181.3 690.15h11.80v1.55h-11.80zM204.2 698.28h11.80v1.28h-11.80zM204.2 704.14h11.80v1.28h-11.80zM272.9 693.40h11.80v1.28h-11.80zM272.9 695.35h11.80v1.28h-11.80zM272.9 706.09h11.80v1.28h-11.80zM284.4 693.40h11.45v1.28h-11.45zM284.4 694.38h11.45v1.28h-11.45zM284.4 704.14h11.45v1.28h-11.45z"/><path fill="#3131c4" d="M181.3 595.94h11.80v1.31h-11.80zM181.3 598.96h11.80v1.31h-11.80zM181.3 602.99h11.80v1.31h-11.80zM192.8 618.38h11.80v1.28h-11.80zM204.2 624.27h11.80v1.28h-11.80zM204.2 660.73h11.80v1.32h-11.80zM284.4 655.64h11.45v1.32h-11.45zM284.4 658.70h11.45v1.32h-11.45zM284.4 659.71h11.45v1.32h-11.45zM284.4 665.82h11.45v1.32h-11.45zM204.2 694.38h11.80v1.28h-11.80zM284.4 702.19h11.45v1.28h-11.45zM284.4 708.05h11.45v1.28h-11.45z"/><path fill="#3737bd" d="M181.3 597.95h11.80v1.31h-11.80zM192.8 611.61h11.80v1.32h-11.80zM192.8 621.33h11.80v1.28h-11.80zM192.8 624.27h11.80v1.28h-11.80zM181.3 653.61h11.80v1.32h-11.80zM181.3 660.73h11.80v1.32h-11.80zM181.3 665.82h11.80v1.32h-11.80zM181.3 669.89h11.80v1.32h-11.80zM204.2 652.59h11.80v1.32h-11.80zM284.4 647.50h11.45v1.32h-11.45zM181.3 679.78h11.80v1.29h-11.80zM181.3 680.77h11.80v1.29h-11.80zM181.3 681.76h11.80v1.29h-11.80zM284.4 681.76h11.45v1.29h-11.45zM284.4 683.74h11.45v1.29h-11.45zM284.4 686.71h11.45v1.29h-11.45zM284.4 699.26h11.45v1.28h-11.45zM284.4 701.21h11.45v1.28h-11.45zM284.4 706.09h11.45v1.28h-11.45z"/><path fill="#4e4ea3" d="M181.3 601.98h11.80v1.31h-11.80zM215.7 591.91h11.80v1.31h-11.80zM215.7 601.98h11.80v1.31h-11.80zM261.5 597.95h11.80v1.31h-11.80zM192.8 610.59h11.80v1.32h-11.80zM204.2 608.54h11.80v1.32h-11.80zM215.7 609.57h11.80v1.32h-11.80zM215.7 614.68h11.80v1.32h-11.80zM272.9 611.61h11.80v1.32h-11.80zM192.8 619.36h11.80v1.28h-11.80zM192.8 627.21h11.80v1.28h-11.80zM204.2 629.17h11.80v1.28h-11.80zM204.2 632.12h11.80v1.28h-11.80zM215.7 621.33h11.80v1.28h-11.80zM272.9 632.12h11.80v1.28h-11.80zM284.4 625.25h11.45v1.28h-11.45zM204.2 637.58h11.80v1.29h-11.80zM215.7 635.60h11.80v1.29h-11.80zM215.7 640.55h11.80v1.29h-11.80zM215.7 643.52h11.80v1.29h-11.80zM227.1 642.53h11.80v1.29h-11.80zM238.6 641.54h11.80v1.29h-11.80zM238.6 642.53h11.80v1.29h-11.80zM250.0 636.59h11.80v1.29h-11.80zM250.0 644.51h11.80v1.29h-11.80zM272.9 637.58h11.80v1.29h-11.80zM272.9 641.54h11.80v1.29h-11.80zM169.9 670.91h11.80v1.32h-11.80zM181.3 654.62h11.80v1.32h-11.80zM181.3 674.98h11.80v1.32h-11.80zM192.8 652.59h11.80v1.32h-11.80zM192.8 653.61h11.80v1.32h-11.80zM192.8 661.75h11.80v1.32h-11.80zM192.8 668.88h11.80v1.32h-11.80zM204.2 651.57h11.80v1.32h-11.80zM204.2 659.71h11.80v1.32h-11.80zM204.2 666.84h11.80v1.32h-11.80zM204.2 670.91h11.80v1.32h-11.80zM227.1 672.95h11.80v1.32h-11.80zM284.4 662.77h11.45v1.32h-11.45zM204.2 685.72h11.80v1.29h-11.80zM215.7 682.75h11.80v1.29h-11.80zM238.6 680.77h11.80v1.29h-11.80zM261.5 678.79h11.80v1.29h-11.80zM192.8 690.15h11.80v1.55h-11.80zM261.5 690.15h11.80v1.55h-11.80zM284.4 688.90h11.45v1.55h-11.45zM192.8 705.12h11.80v1.28h-11.80zM204.2 696.33h11.80v1.28h-11.80zM215.7 708.05h11.80v1.28h-11.80zM261.5 697.31h11.80v1.28h-11.80zM272.9 707.07h11.80v1.28h-11.80zM284.4 695.35h11.45v1.28h-11.45zM284.4 696.33h11.45v1.28h-11.45z"/><path fill="#71717d" d="M192.8 591.91h11.80v1.31h-11.80zM192.8 592.92h11.80v1.31h-11.80zM192.8 593.92h11.80v1.31h-11.80zM192.8 600.98h11.80v1.31h-11.80zM204.2 595.94h11.80v1.31h-11.80zM215.7 595.94h11.80v1.31h-11.80zM215.7 596.95h11.80v1.31h-11.80zM215.7 598.96h11.80v1.31h-11.80zM238.6 590.90h11.80v1.31h-11.80zM238.6 598.96h11.80v1.31h-11.80zM261.5 590.90h11.80v1.31h-11.80zM261.5 601.98h11.80v1.31h-11.80zM261.5 602.99h11.80v1.31h-11.80zM272.9 591.91h11.80v1.31h-11.80zM272.9 602.99h11.80v1.31h-11.80zM169.9 609.57h11.80v1.32h-11.80zM227.1 614.68h11.80v1.32h-11.80zM238.6 611.61h11.80v1.32h-11.80zM250.0 611.61h11.80v1.32h-11.80zM261.5 614.68h11.80v1.32h-11.80zM284.4 607.52h11.45v1.32h-11.45zM284.4 609.57h11.45v1.32h-11.45zM284.4 612.63h11.45v1.32h-11.45zM181.3 618.38h11.80v1.28h-11.80zM181.3 626.23h11.80v1.28h-11.80zM192.8 631.14h11.80v1.28h-11.80zM227.1 632.12h11.80v1.28h-11.80zM238.6 620.34h11.80v1.28h-11.80zM250.0 624.27h11.80v1.28h-11.80zM250.0 629.17h11.80v1.28h-11.80zM261.5 618.38h11.80v1.28h-11.80zM261.5 619.36h11.80v1.28h-11.80zM261.5 622.31h11.80v1.28h-11.80zM272.9 619.36h11.80v1.28h-11.80zM284.4 620.34h11.45v1.28h-11.45zM284.4 623.29h11.45v1.28h-11.45zM169.9 638.57h11.80v1.29h-11.80zM192.8 638.57h11.80v1.29h-11.80zM238.6 644.51h11.80v1.29h-11.80zM250.0 642.53h11.80v1.29h-11.80zM169.9 649.54h11.80v1.32h-11.80zM169.9 652.59h11.80v1.32h-11.80zM169.9 661.75h11.80v1.32h-11.80zM192.8 649.54h11.80v1.32h-11.80zM192.8 651.57h11.80v1.32h-11.80zM192.8 654.62h11.80v1.32h-11.80zM192.8 662.77h11.80v1.32h-11.80zM192.8 664.80h11.80v1.32h-11.80zM215.7 649.54h11.80v1.32h-11.80zM215.7 660.73h11.80v1.32h-11.80zM215.7 662.77h11.80v1.32h-11.80zM215.7 670.91h11.80v1.32h-11.80zM215.7 671.93h11.80v1.32h-11.80zM227.1 653.61h11.80v1.32h-11.80zM227.1 659.71h11.80v1.32h-11.80zM227.1 666.84h11.80v1.32h-11.80zM250.0 655.64h11.80v1.32h-11.80zM272.9 651.57h11.80v1.32h-11.80zM272.9 654.62h11.80v1.32h-11.80zM272.9 657.68h11.80v1.32h-11.80zM272.9 660.73h11.80v1.32h-11.80zM272.9 671.93h11.80v1.32h-11.80zM284.4 653.61h11.45v1.32h-11.45zM169.9 680.77h11.80v1.29h-11.80zM169.9 682.75h11.80v1.29h-11.80zM192.8 678.79h11.80v1.29h-11.80zM215.7 684.73h11.80v1.29h-11.80zM227.1 678.79h11.80v1.29h-11.80zM227.1 684.73h11.80v1.29h-11.80zM238.6 684.73h11.80v1.29h-11.80zM250.0 685.72h11.80v1.29h-11.80zM250.0 686.71h11.80v1.29h-11.80zM192.8 688.90h11.80v1.55h-11.80zM284.4 690.15h11.45v1.55h-11.45zM181.3 699.26h11.80v1.28h-11.80zM181.3 705.12h11.80v1.28h-11.80zM192.8 695.35h11.80v1.28h-11.80zM192.8 700.24h11.80v1.28h-11.80zM204.2 699.26h11.80v1.28h-11.80zM215.7 695.35h11.80v1.28h-11.80zM227.1 700.24h11.80v1.28h-11.80zM227.1 701.21h11.80v1.28h-11.80zM238.6 694.38h11.80v1.28h-11.80zM250.0 696.33h11.80v1.28h-11.80zM250.0 703.16h11.80v1.28h-11.80zM261.5 703.16h11.80v1.28h-11.80zM261.5 705.12h11.80v1.28h-11.80zM261.5 708.05h11.80v1.28h-11.80zM272.9 694.38h11.80v1.28h-11.80zM272.9 708.05h11.80v1.28h-11.80z"/><path fill="#5a5a96" d="M192.8 595.94h11.80v1.31h-11.80zM204.2 590.90h11.80v1.31h-11.80zM204.2 593.92h11.80v1.31h-11.80zM204.2 601.98h11.80v1.31h-11.80zM204.2 602.99h11.80v1.31h-11.80zM215.7 594.93h11.80v1.31h-11.80zM227.1 590.90h11.80v1.31h-11.80zM238.6 597.95h11.80v1.31h-11.80zM272.9 590.90h11.80v1.31h-11.80zM272.9 596.95h11.80v1.31h-11.80zM169.9 607.52h11.80v1.32h-11.80zM192.8 608.54h11.80v1.32h-11.80zM204.2 609.57h11.80v1.32h-11.80zM215.7 608.54h11.80v1.32h-11.80zM227.1 612.63h11.80v1.32h-11.80zM250.0 609.57h11.80v1.32h-11.80zM204.2 620.34h11.80v1.28h-11.80zM204.2 623.29h11.80v1.28h-11.80zM215.7 617.40h11.80v1.28h-11.80zM215.7 619.36h11.80v1.28h-11.80zM215.7 624.27h11.80v1.28h-11.80zM215.7 627.21h11.80v1.28h-11.80zM215.7 630.16h11.80v1.28h-11.80zM215.7 632.12h11.80v1.28h-11.80zM227.1 618.38h11.80v1.28h-11.80zM169.9 642.53h11.80v1.29h-11.80zM204.2 635.60h11.80v1.29h-11.80zM204.2 638.57h11.80v1.29h-11.80zM204.2 639.56h11.80v1.29h-11.80zM215.7 639.56h11.80v1.29h-11.80zM215.7 641.54h11.80v1.29h-11.80zM215.7 642.53h11.80v1.29h-11.80zM227.1 636.59h11.80v1.29h-11.80zM238.6 639.56h11.80v1.29h-11.80zM250.0 635.60h11.80v1.29h-11.80zM250.0 639.56h11.80v1.29h-11.80zM261.5 638.57h11.80v1.29h-11.80zM272.9 636.59h11.80v1.29h-11.80zM272.9 643.52h11.80v1.29h-11.80zM169.9 663.79h11.80v1.32h-11.80zM181.3 657.68h11.80v1.32h-11.80zM181.3 668.88h11.80v1.32h-11.80zM192.8 660.73h11.80v1.32h-11.80zM192.8 671.93h11.80v1.32h-11.80zM192.8 672.95h11.80v1.32h-11.80zM192.8 673.96h11.80v1.32h-11.80zM204.2 655.64h11.80v1.32h-11.80zM204.2 658.70h11.80v1.32h-11.80zM215.7 652.59h11.80v1.32h-11.80zM215.7 655.64h11.80v1.32h-11.80zM215.7 665.82h11.80v1.32h-11.80zM227.1 662.77h11.80v1.32h-11.80zM227.1 674.98h11.80v1.32h-11.80zM284.4 668.88h11.45v1.32h-11.45zM284.4 671.93h11.45v1.32h-11.45zM169.9 677.80h11.80v1.29h-11.80zM204.2 678.79h11.80v1.29h-11.80zM215.7 685.72h11.80v1.29h-11.80zM215.7 686.71h11.80v1.29h-11.80zM250.0 679.78h11.80v1.29h-11.80zM261.5 685.72h11.80v1.29h-11.80zM284.4 677.80h11.45v1.29h-11.45zM284.4 682.75h11.45v1.29h-11.45zM169.9 690.15h11.80v1.55h-11.80zM192.8 701.21h11.80v1.28h-11.80zM204.2 697.31h11.80v1.28h-11.80zM204.2 701.21h11.80v1.28h-11.80zM204.2 702.19h11.80v1.28h-11.80zM215.7 706.09h11.80v1.28h-11.80zM227.1 709.02h11.80v1.28h-11.80zM250.0 704.14h11.80v1.28h-11.80zM261.5 693.40h11.80v1.28h-11.80zM272.9 699.26h11.80v1.28h-11.80zM272.9 702.19h11.80v1.28h-11.80zM284.4 709.02h11.45v1.28h-11.45z"/><path fill="#96965a" d="M192.8 598.96h11.80v1.31h-11.80zM250.0 601.98h11.80v1.31h-11.80zM250.0 602.99h11.80v1.31h-11.80zM181.3 607.52h11.80v1.32h-11.80zM238.6 610.59h11.80v1.32h-11.80zM261.5 609.57h11.80v1.32h-11.80zM169.9 618.38h11.80v1.28h-11.80zM250.0 627.21h11.80v1.28h-11.80zM272.9 624.27h11.80v1.28h-11.80zM169.9 644.51h11.80v1.29h-11.80zM181.3 637.58h11.80v1.29h-11.80zM181.3 641.54h11.80v1.29h-11.80zM284.4 638.57h11.45v1.29h-11.45zM192.8 670.91h11.80v1.32h-11.80zM227.1 663.79h11.80v1.32h-11.80zM238.6 650.55h11.80v1.32h-11.80zM238.6 656.66h11.80v1.32h-11.80zM238.6 667.86h11.80v1.32h-11.80zM238.6 669.89h11.80v1.32h-11.80zM238.6 670.91h11.80v1.32h-11.80zM250.0 648.52h11.80v1.32h-11.80zM250.0 649.54h11.80v1.32h-11.80zM250.0 651.57h11.80v1.32h-11.80zM250.0 660.73h11.80v1.32h-11.80zM261.5 647.50h11.80v1.32h-11.80zM261.5 653.61h11.80v1.32h-11.80zM192.8 681.76h11.80v1.29h-11.80zM192.8 684.73h11.80v1.29h-11.80zM192.8 686.71h11.80v1.29h-11.80zM238.6 683.74h11.80v1.29h-11.80zM272.9 679.78h11.80v1.29h-11.80zM272.9 680.77h11.80v1.29h-11.80zM204.2 688.90h11.80v1.55h-11.80zM204.2 690.15h11.80v1.55h-11.80zM272.9 688.90h11.80v1.55h-11.80zM169.9 694.38h11.80v1.28h-11.80zM169.9 695.35h11.80v1.28h-11.80zM169.9 696.33h11.80v1.28h-11.80zM169.9 697.31h11.80v1.28h-11.80zM169.9 700.24h11.80v1.28h-11.80zM169.9 702.19h11.80v1.28h-11.80zM169.9 707.07h11.80v1.28h-11.80zM181.3 708.05h11.80v1.28h-11.80zM250.0 707.07h11.80v1.28h-11.80z"/><path fill="#606090" d="M192.8 599.97h11.80v1.31h-11.80zM192.8 601.98h11.80v1.31h-11.80zM192.8 602.99h11.80v1.31h-11.80zM204.2 592.92h11.80v1.31h-11.80zM204.2 596.95h11.80v1.31h-11.80zM215.7 597.95h11.80v1.31h-11.80zM215.7 602.99h11.80v1.31h-11.80zM227.1 598.96h11.80v1.31h-11.80zM227.1 599.97h11.80v1.31h-11.80zM227.1 600.98h11.80v1.31h-11.80zM227.1 602.99h11.80v1.31h-11.80zM238.6 593.92h11.80v1.31h-11.80zM261.5 600.98h11.80v1.31h-11.80zM272.9 595.94h11.80v1.31h-11.80zM272.9 597.95h11.80v1.31h-11.80zM272.9 600.98h11.80v1.31h-11.80zM169.9 610.59h11.80v1.32h-11.80zM204.2 611.61h11.80v1.32h-11.80zM215.7 606.50h11.80v1.32h-11.80zM227.1 610.59h11.80v1.32h-11.80zM227.1 613.66h11.80v1.32h-11.80zM272.9 609.57h11.80v1.32h-11.80zM272.9 612.63h11.80v1.32h-11.80zM192.8 620.34h11.80v1.28h-11.80zM192.8 632.12h11.80v1.28h-11.80zM204.2 621.33h11.80v1.28h-11.80zM204.2 628.19h11.80v1.28h-11.80zM204.2 630.16h11.80v1.28h-11.80zM215.7 618.38h11.80v1.28h-11.80zM215.7 623.29h11.80v1.28h-11.80zM215.7 625.25h11.80v1.28h-11.80zM215.7 631.14h11.80v1.28h-11.80zM227.1 619.36h11.80v1.28h-11.80zM227.1 625.25h11.80v1.28h-11.80zM227.1 630.16h11.80v1.28h-11.80zM238.6 618.38h11.80v1.28h-11.80zM238.6 623.29h11.80v1.28h-11.80zM238.6 625.25h11.80v1.28h-11.80zM261.5 626.23h11.80v1.28h-11.80zM272.9 628.19h11.80v1.28h-11.80zM284.4 618.38h11.45v1.28h-11.45zM284.4 628.19h11.45v1.28h-11.45zM169.9 635.60h11.80v1.29h-11.80zM169.9 637.58h11.80v1.29h-11.80zM192.8 636.59h11.80v1.29h-11.80zM215.7 636.59h11.80v1.29h-11.80zM227.1 644.51h11.80v1.29h-11.80zM238.6 643.52h11.80v1.29h-11.80zM261.5 639.56h11.80v1.29h-11.80zM261.5 642.53h11.80v1.29h-11.80zM169.9 671.93h11.80v1.32h-11.80zM192.8 650.55h11.80v1.32h-11.80zM192.8 656.66h11.80v1.32h-11.80zM192.8 663.79h11.80v1.32h-11.80zM204.2 649.54h11.80v1.32h-11.80zM204.2 650.55h11.80v1.32h-11.80zM204.2 657.68h11.80v1.32h-11.80zM204.2 665.82h11.80v1.32h-11.80zM204.2 669.89h11.80v1.32h-11.80zM215.7 651.57h11.80v1.32h-11.80zM215.7 653.61h11.80v1.32h-11.80zM215.7 667.86h11.80v1.32h-11.80zM215.7 673.96h11.80v1.32h-11.80zM227.1 656.66h11.80v1.32h-11.80zM227.1 669.89h11.80v1.32h-11.80zM261.5 652.59h11.80v1.32h-11.80zM261.5 660.73h11.80v1.32h-11.80zM272.9 662.77h11.80v1.32h-11.80zM169.9 679.78h11.80v1.29h-11.80zM204.2 677.80h11.80v1.29h-11.80zM204.2 686.71h11.80v1.29h-11.80zM215.7 679.78h11.80v1.29h-11.80zM227.1 679.78h11.80v1.29h-11.80zM227.1 682.75h11.80v1.29h-11.80zM238.6 679.78h11.80v1.29h-11.80zM238.6 681.76h11.80v1.29h-11.80zM261.5 681.76h11.80v1.29h-11.80zM261.5 686.71h11.80v1.29h-11.80zM169.9 688.90h11.80v1.55h-11.80zM238.6 690.15h11.80v1.55h-11.80zM250.0 688.90h11.80v1.55h-11.80zM250.0 690.15h11.80v1.55h-11.80zM192.8 706.09h11.80v1.28h-11.80zM204.2 695.35h11.80v1.28h-11.80zM204.2 705.12h11.80v1.28h-11.80zM204.2 707.07h11.80v1.28h-11.80zM215.7 704.14h11.80v1.28h-11.80zM227.1 703.16h11.80v1.28h-11.80zM238.6 693.40h11.80v1.28h-11.80zM238.6 701.21h11.80v1.28h-11.80zM238.6 702.19h11.80v1.28h-11.80zM238.6 705.12h11.80v1.28h-11.80zM238.6 706.09h11.80v1.28h-11.80zM238.6 708.05h11.80v1.28h-11.80zM250.0 697.31h11.80v1.28h-11.80zM250.0 698.28h11.80v1.28h-11.80zM261.5 695.35h11.80v1.28h-11.80zM261.5 702.19h11.80v1.28h-11.80zM261.5 706.09h11.80v1.28h-11.80zM261.5 707.07h11.80v1.28h-11.80zM272.9 697.31h11.80v1.28h-11.80zM272.9 698.28h11.80v1.28h-11.80zM284.4 707.07h11.45v1.28h-11.45z"/><path fill="#54549c" d="M204.2 591.91h11.80v1.31h-11.80zM204.2 600.98h11.80v1.31h-11.80zM238.6 596.95h11.80v1.31h-11.80zM238.6 599.97h11.80v1.31h-11.80zM238.6 602.99h11.80v1.31h-11.80zM250.0 591.91h11.80v1.31h-11.80zM169.9 611.61h11.80v1.32h-11.80zM204.2 612.63h11.80v1.32h-11.80zM227.1 611.61h11.80v1.32h-11.80zM261.5 608.54h11.80v1.32h-11.80zM272.9 614.68h11.80v1.32h-11.80zM192.8 628.19h11.80v1.28h-11.80zM204.2 617.40h11.80v1.28h-11.80zM204.2 626.23h11.80v1.28h-11.80zM215.7 622.31h11.80v1.28h-11.80zM227.1 617.40h11.80v1.28h-11.80zM227.1 621.33h11.80v1.28h-11.80zM227.1 627.21h11.80v1.28h-11.80zM227.1 629.17h11.80v1.28h-11.80zM238.6 627.21h11.80v1.28h-11.80zM272.9 621.33h11.80v1.28h-11.80zM272.9 630.16h11.80v1.28h-11.80zM272.9 631.14h11.80v1.28h-11.80zM284.4 624.27h11.45v1.28h-11.45zM215.7 637.58h11.80v1.29h-11.80zM215.7 638.57h11.80v1.29h-11.80zM227.1 637.58h11.80v1.29h-11.80zM227.1 639.56h11.80v1.29h-11.80zM238.6 635.60h11.80v1.29h-11.80zM238.6 637.58h11.80v1.29h-11.80zM261.5 640.55h11.80v1.29h-11.80zM169.9 648.52h11.80v1.32h-11.80zM169.9 669.89h11.80v1.32h-11.80zM181.3 647.50h11.80v1.32h-11.80zM181.3 656.66h11.80v1.32h-11.80zM181.3 671.93h11.80v1.32h-11.80zM181.3 672.95h11.80v1.32h-11.80zM192.8 647.50h11.80v1.32h-11.80zM192.8 657.68h11.80v1.32h-11.80zM192.8 666.84h11.80v1.32h-11.80zM192.8 669.89h11.80v1.32h-11.80zM192.8 674.98h11.80v1.32h-11.80zM204.2 647.50h11.80v1.32h-11.80zM204.2 656.66h11.80v1.32h-11.80zM204.2 667.86h11.80v1.32h-11.80zM204.2 671.93h11.80v1.32h-11.80zM204.2 673.96h11.80v1.32h-11.80zM227.1 668.88h11.80v1.32h-11.80zM181.3 683.74h11.80v1.29h-11.80zM204.2 679.78h11.80v1.29h-11.80zM215.7 680.77h11.80v1.29h-11.80zM227.1 686.71h11.80v1.29h-11.80zM284.4 678.79h11.45v1.29h-11.45zM215.7 690.15h11.80v1.55h-11.80zM192.8 703.16h11.80v1.28h-11.80zM192.8 708.05h11.80v1.28h-11.80zM215.7 693.40h11.80v1.28h-11.80zM215.7 707.07h11.80v1.28h-11.80zM227.1 707.07h11.80v1.28h-11.80zM238.6 704.14h11.80v1.28h-11.80zM261.5 704.14h11.80v1.28h-11.80zM272.9 704.14h11.80v1.28h-11.80z"/><path fill="#66668a" d="M204.2 599.97h11.80v1.31h-11.80zM215.7 600.98h11.80v1.31h-11.80zM227.1 592.92h11.80v1.31h-11.80zM227.1 596.95h11.80v1.31h-11.80zM227.1 601.98h11.80v1.31h-11.80zM238.6 595.94h11.80v1.31h-11.80zM250.0 600.98h11.80v1.31h-11.80zM261.5 596.95h11.80v1.31h-11.80zM272.9 592.92h11.80v1.31h-11.80zM204.2 606.50h11.80v1.32h-11.80zM204.2 610.59h11.80v1.32h-11.80zM215.7 611.61h11.80v1.32h-11.80zM215.7 612.63h11.80v1.32h-11.80zM227.1 606.50h11.80v1.32h-11.80zM250.0 610.59h11.80v1.32h-11.80zM272.9 610.59h11.80v1.32h-11.80zM181.3 619.36h11.80v1.28h-11.80zM181.3 623.29h11.80v1.28h-11.80zM181.3 631.14h11.80v1.28h-11.80zM204.2 618.38h11.80v1.28h-11.80zM204.2 622.31h11.80v1.28h-11.80zM204.2 625.25h11.80v1.28h-11.80zM215.7 620.34h11.80v1.28h-11.80zM215.7 628.19h11.80v1.28h-11.80zM215.7 629.17h11.80v1.28h-11.80zM227.1 622.31h11.80v1.28h-11.80zM227.1 624.27h11.80v1.28h-11.80zM227.1 626.23h11.80v1.28h-11.80zM238.6 622.31h11.80v1.28h-11.80zM238.6 628.19h11.80v1.28h-11.80zM238.6 631.14h11.80v1.28h-11.80zM238.6 632.12h11.80v1.28h-11.80zM250.0 621.33h11.80v1.28h-11.80zM261.5 629.17h11.80v1.28h-11.80zM261.5 631.14h11.80v1.28h-11.80zM272.9 623.29h11.80v1.28h-11.80zM284.4 617.40h11.45v1.28h-11.45zM284.4 619.36h11.45v1.28h-11.45zM284.4 629.17h11.45v1.28h-11.45zM192.8 640.55h11.80v1.29h-11.80zM204.2 640.55h11.80v1.29h-11.80zM261.5 635.60h11.80v1.29h-11.80zM261.5 636.59h11.80v1.29h-11.80zM261.5 641.54h11.80v1.29h-11.80zM272.9 638.57h11.80v1.29h-11.80zM272.9 642.53h11.80v1.29h-11.80zM169.9 651.57h11.80v1.32h-11.80zM169.9 659.71h11.80v1.32h-11.80zM169.9 662.77h11.80v1.32h-11.80zM169.9 665.82h11.80v1.32h-11.80zM181.3 651.57h11.80v1.32h-11.80zM192.8 655.64h11.80v1.32h-11.80zM192.8 658.70h11.80v1.32h-11.80zM215.7 657.68h11.80v1.32h-11.80zM215.7 659.71h11.80v1.32h-11.80zM215.7 664.80h11.80v1.32h-11.80zM215.7 674.98h11.80v1.32h-11.80zM227.1 650.55h11.80v1.32h-11.80zM227.1 652.59h11.80v1.32h-11.80zM227.1 667.86h11.80v1.32h-11.80zM227.1 673.96h11.80v1.32h-11.80zM238.6 655.64h11.80v1.32h-11.80zM272.9 649.54h11.80v1.32h-11.80zM272.9 656.66h11.80v1.32h-11.80zM272.9 658.70h11.80v1.32h-11.80zM272.9 663.79h11.80v1.32h-11.80zM272.9 665.82h11.80v1.32h-11.80zM272.9 666.84h11.80v1.32h-11.80zM169.9 686.71h11.80v1.29h-11.80zM181.3 686.71h11.80v1.29h-11.80zM215.7 683.74h11.80v1.29h-11.80zM227.1 680.77h11.80v1.29h-11.80zM238.6 686.71h11.80v1.29h-11.80zM261.5 682.75h11.80v1.29h-11.80zM227.1 690.15h11.80v1.55h-11.80zM181.3 700.24h11.80v1.28h-11.80zM192.8 709.02h11.80v1.28h-11.80zM204.2 708.05h11.80v1.28h-11.80zM215.7 694.38h11.80v1.28h-11.80zM215.7 696.33h11.80v1.28h-11.80zM215.7 697.31h11.80v1.28h-11.80zM215.7 699.26h11.80v1.28h-11.80zM215.7 702.19h11.80v1.28h-11.80zM215.7 703.16h11.80v1.28h-11.80zM215.7 705.12h11.80v1.28h-11.80zM227.1 697.31h11.80v1.28h-11.80zM238.6 699.26h11.80v1.28h-11.80zM238.6 700.24h11.80v1.28h-11.80zM250.0 694.38h11.80v1.28h-11.80zM250.0 709.02h11.80v1.28h-11.80zM261.5 694.38h11.80v1.28h-11.80zM272.9 700.24h11.80v1.28h-11.80zM272.9 703.16h11.80v1.28h-11.80z"/><path fill="#9c9c54" d="M215.7 590.90h11.80v1.31h-11.80zM284.4 591.91h11.45v1.31h-11.45zM284.4 601.98h11.45v1.31h-11.45zM238.6 614.68h11.80v1.32h-11.80zM181.3 625.25h11.80v1.28h-11.80zM250.0 630.16h11.80v1.28h-11.80zM261.5 627.21h11.80v1.28h-11.80zM261.5 630.16h11.80v1.28h-11.80zM181.3 638.57h11.80v1.29h-11.80zM181.3 640.55h11.80v1.29h-11.80zM181.3 643.52h11.80v1.29h-11.80zM284.4 640.55h11.45v1.29h-11.45zM215.7 648.52h11.80v1.32h-11.80zM227.1 670.91h11.80v1.32h-11.80zM238.6 648.52h11.80v1.32h-11.80zM238.6 665.82h11.80v1.32h-11.80zM250.0 650.55h11.80v1.32h-11.80zM250.0 663.79h11.80v1.32h-11.80zM250.0 668.88h11.80v1.32h-11.80zM261.5 654.62h11.80v1.32h-11.80zM261.5 673.96h11.80v1.32h-11.80zM272.9 667.86h11.80v1.32h-11.80zM192.8 685.72h11.80v1.29h-11.80zM169.9 699.26h11.80v1.28h-11.80z"/><path fill="#a3a34e" d="M250.0 596.95h11.80v1.31h-11.80zM284.4 590.90h11.45v1.31h-11.45zM284.4 596.95h11.45v1.31h-11.45zM181.3 612.63h11.80v1.32h-11.80zM204.2 613.66h11.80v1.32h-11.80zM238.6 613.66h11.80v1.32h-11.80zM238.6 630.16h11.80v1.28h-11.80zM181.3 635.60h11.80v1.29h-11.80zM192.8 643.52h11.80v1.29h-11.80zM284.4 636.59h11.45v1.29h-11.45zM284.4 637.58h11.45v1.29h-11.45zM284.4 641.54h11.45v1.29h-11.45zM284.4 642.53h11.45v1.29h-11.45zM284.4 644.51h11.45v1.29h-11.45zM215.7 668.88h11.80v1.32h-11.80zM238.6 651.57h11.80v1.32h-11.80zM261.5 655.64h11.80v1.32h-11.80zM261.5 661.75h11.80v1.32h-11.80zM272.9 683.74h11.80v1.29h-11.80zM169.9 698.28h11.80v1.28h-11.80zM169.9 705.12h11.80v1.28h-11.80zM169.9 709.02h11.80v1.28h-11.80zM181.3 698.28h11.80v1.28h-11.80z"/><path fill="#cbcb2b" d="M261.5 595.94h11.80v1.31h-11.80zM169.9 621.33h11.80v1.28h-11.80zM169.9 628.19h11.80v1.28h-11.80zM169.9 632.12h11.80v1.28h-11.80zM261.5 672.95h11.80v1.32h-11.80z"/><path fill="#c4c431" d="M284.4 592.92h11.45v1.31h-11.45zM284.4 599.97h11.45v1.31h-11.45zM181.3 606.50h11.80v1.32h-11.80zM261.5 613.66h11.80v1.32h-11.80zM169.9 627.21h11.80v1.28h-11.80zM250.0 623.29h11.80v1.28h-11.80zM192.8 642.53h11.80v1.29h-11.80zM272.9 659.71h11.80v1.32h-11.80z"/><path fill="#b7b73d" d="M284.4 594.93h11.45v1.31h-11.45zM284.4 595.94h11.45v1.31h-11.45zM284.4 600.98h11.45v1.31h-11.45zM169.9 623.29h11.80v1.28h-11.80zM181.3 639.56h11.80v1.29h-11.80zM250.0 667.86h11.80v1.32h-11.80z"/><path fill="#d2d225" d="M284.4 597.95h11.45v1.31h-11.45z"/><path fill="#bdbd37" d="M284.4 598.96h11.45v1.31h-11.45zM169.9 624.27h11.80v1.28h-11.80zM169.9 625.25h11.80v1.28h-11.80zM169.9 630.16h11.80v1.28h-11.80zM169.9 631.14h11.80v1.28h-11.80zM250.0 669.89h11.80v1.32h-11.80zM250.0 670.91h11.80v1.32h-11.80zM261.5 668.88h11.80v1.32h-11.80z"/><path fill="#dada1f" d="M261.5 606.50h11.80v1.32h-11.80zM272.9 678.79h11.80v1.29h-11.80z"/><path fill="#efef0c" d="M169.9 620.34h11.80v1.28h-11.80zM169.9 629.17h11.80v1.28h-11.80zM181.3 644.51h11.80v1.29h-11.80z"/><path fill="#e8e812" d="M169.9 626.23h11.80v1.28h-11.80zM181.3 636.59h11.80v1.29h-11.80z"/><path fill="#1f1fda" d="M181.3 648.52h11.80v1.32h-11.80z"/><path fill="#2525d2" d="M181.3 652.59h11.80v1.32h-11.80zM181.3 663.79h11.80v1.32h-11.80z"/><path fill="#0c0cef" d="M284.4 652.59h11.45v1.32h-11.45zM284.4 700.24h11.45v1.28h-11.45z"/><path fill="#1919e1" d="M204.2 703.16h11.80v1.28h-11.80z"/><path fill="#1212e8" d="M204.2 709.02h11.80v1.28h-11.80z"/>
<text x="189.3" y="560.4" font-size="11.8" fill="#111" textLength="86.90" lengthAdjust="spacingAndGlyphs">CD4 CD69<tspan font-size="7.3" baseline-shift="4.6">-</tspan>_Tm</text>
<rect x="310.40" y="579.0" width="23.99" height="9.40" fill="#fa9e36"/>
<rect x="334.09" y="579.0" width="23.99" height="9.40" fill="#00f6fa"/>
<rect x="357.78" y="579.0" width="23.99" height="9.40" fill="#ee82ee"/>
<rect x="381.47" y="579.0" width="35.84" height="9.40" fill="#efe24a"/>
<rect x="417.01" y="579.0" width="23.69" height="9.40" fill="#bebebe"/>
<path d="M316.32,579.00V566.90H328.17V579.00M340.01,579.00V570.80H351.86V579.00M363.70,579.00V568.90H375.55V579.00M422.93,579.00V572.20H434.78V579.00M411.09,579.00V570.20H428.85V572.20M399.24,579.00V569.20H419.97V570.20M387.40,579.00V568.30H409.61V569.20M369.63,568.90V567.50H398.50V568.30M345.94,570.80V566.40H384.06V567.50M322.25,566.90V564.30H365.00V566.40" fill="none" stroke="#7a7a7a" stroke-width="0.75"/>
<rect x="310.40" y="590.40" width="130.30" height="10.90" fill="#606090"/><rect x="310.40" y="603.80" width="130.30" height="11.20" fill="#606090"/><rect x="310.40" y="617.00" width="130.30" height="6.10" fill="#606090"/><rect x="310.40" y="625.10" width="130.30" height="12.40" fill="#606090"/><rect x="310.40" y="639.30" width="130.30" height="23.10" fill="#606090"/><rect x="310.40" y="664.10" width="130.30" height="19.90" fill="#606090"/><rect x="310.40" y="685.90" width="130.30" height="12.20" fill="#606090"/><rect x="310.40" y="700.10" width="130.30" height="9.90" fill="#606090"/><path fill="#4848a9" d="M310.4 590.40h12.20v1.29h-12.20zM322.2 592.38h12.20v1.29h-12.20zM334.1 590.40h12.20v1.29h-12.20zM345.9 598.33h12.20v1.29h-12.20zM369.6 598.33h12.20v1.29h-12.20zM417.0 594.36h12.20v1.29h-12.20zM417.0 595.35h12.20v1.29h-12.20zM417.0 597.34h12.20v1.29h-12.20zM357.8 609.91h12.20v1.32h-12.20zM322.2 619.03h12.20v1.32h-12.20zM322.2 636.47h12.20v1.33h-12.20zM334.1 634.40h12.20v1.33h-12.20zM345.9 631.30h12.20v1.33h-12.20zM369.6 636.47h12.20v1.33h-12.20zM334.1 641.31h12.20v1.30h-12.20zM357.8 649.34h12.20v1.30h-12.20zM417.0 642.31h12.20v1.30h-12.20zM417.0 659.39h12.20v1.30h-12.20zM322.2 665.10h12.20v1.29h-12.20zM322.2 667.09h12.20v1.29h-12.20zM322.2 670.07h12.20v1.29h-12.20zM322.2 681.01h12.20v1.29h-12.20zM334.1 671.07h12.20v1.29h-12.20zM393.3 681.01h12.20v1.29h-12.20zM417.0 666.09h12.20v1.29h-12.20zM417.0 668.08h12.20v1.29h-12.20zM357.8 687.93h12.20v1.32h-12.20zM357.8 688.95h12.20v1.32h-12.20zM357.8 689.97h12.20v1.32h-12.20zM369.6 685.90h12.20v1.32h-12.20zM393.3 689.97h12.20v1.32h-12.20zM357.8 706.04h12.20v1.29h-12.20zM369.6 708.02h12.20v1.29h-12.20zM369.6 709.01h12.20v1.29h-12.20z"/><path fill="#66668a" d="M310.4 591.39h12.20v1.29h-12.20zM310.4 592.38h12.20v1.29h-12.20zM334.1 599.32h12.20v1.29h-12.20zM345.9 596.35h12.20v1.29h-12.20zM345.9 600.31h12.20v1.29h-12.20zM357.8 596.35h12.20v1.29h-12.20zM369.6 596.35h12.20v1.29h-12.20zM369.6 600.31h12.20v1.29h-12.20zM405.2 599.32h12.20v1.29h-12.20zM428.9 597.34h11.85v1.29h-11.85zM310.4 610.93h12.20v1.32h-12.20zM357.8 611.95h12.20v1.32h-12.20zM369.6 607.87h12.20v1.32h-12.20zM369.6 611.95h12.20v1.32h-12.20zM381.5 605.84h12.20v1.32h-12.20zM381.5 611.95h12.20v1.32h-12.20zM393.3 613.98h12.20v1.32h-12.20zM417.0 613.98h12.20v1.32h-12.20zM334.1 617.00h12.20v1.32h-12.20zM334.1 619.03h12.20v1.32h-12.20zM334.1 621.07h12.20v1.32h-12.20zM345.9 620.05h12.20v1.32h-12.20zM369.6 619.03h12.20v1.32h-12.20zM393.3 617.00h12.20v1.32h-12.20zM428.9 622.08h11.85v1.32h-11.85zM310.4 626.13h12.20v1.33h-12.20zM310.4 629.23h12.20v1.33h-12.20zM322.2 633.37h12.20v1.33h-12.20zM334.1 630.27h12.20v1.33h-12.20zM334.1 635.43h12.20v1.33h-12.20zM369.6 629.23h12.20v1.33h-12.20zM381.5 633.37h12.20v1.33h-12.20zM381.5 634.40h12.20v1.33h-12.20zM393.3 632.33h12.20v1.33h-12.20zM405.2 626.13h12.20v1.33h-12.20zM405.2 629.23h12.20v1.33h-12.20zM417.0 629.23h12.20v1.33h-12.20zM417.0 630.27h12.20v1.33h-12.20zM428.9 625.10h11.85v1.33h-11.85zM322.2 646.33h12.20v1.30h-12.20zM334.1 640.30h12.20v1.30h-12.20zM334.1 642.31h12.20v1.30h-12.20zM334.1 646.33h12.20v1.30h-12.20zM334.1 649.34h12.20v1.30h-12.20zM334.1 656.37h12.20v1.30h-12.20zM345.9 648.34h12.20v1.30h-12.20zM345.9 649.34h12.20v1.30h-12.20zM357.8 642.31h12.20v1.30h-12.20zM357.8 656.37h12.20v1.30h-12.20zM369.6 642.31h12.20v1.30h-12.20zM369.6 644.32h12.20v1.30h-12.20zM369.6 647.33h12.20v1.30h-12.20zM369.6 657.38h12.20v1.30h-12.20zM369.6 658.38h12.20v1.30h-12.20zM381.5 639.30h12.20v1.30h-12.20zM381.5 651.35h12.20v1.30h-12.20zM381.5 654.37h12.20v1.30h-12.20zM381.5 655.37h12.20v1.30h-12.20zM381.5 658.38h12.20v1.30h-12.20zM393.3 655.37h12.20v1.30h-12.20zM393.3 659.39h12.20v1.30h-12.20zM405.2 644.32h12.20v1.30h-12.20zM405.2 648.34h12.20v1.30h-12.20zM405.2 657.38h12.20v1.30h-12.20zM405.2 661.40h12.20v1.30h-12.20zM417.0 645.33h12.20v1.30h-12.20zM417.0 648.34h12.20v1.30h-12.20zM417.0 661.40h12.20v1.30h-12.20zM428.9 646.33h11.85v1.30h-11.85zM428.9 656.37h11.85v1.30h-11.85zM428.9 659.39h11.85v1.30h-11.85zM322.2 669.08h12.20v1.29h-12.20zM322.2 672.06h12.20v1.29h-12.20zM334.1 666.09h12.20v1.29h-12.20zM334.1 667.09h12.20v1.29h-12.20zM334.1 680.02h12.20v1.29h-12.20zM345.9 675.04h12.20v1.29h-12.20zM345.9 676.04h12.20v1.29h-12.20zM357.8 665.10h12.20v1.29h-12.20zM357.8 673.06h12.20v1.29h-12.20zM369.6 669.08h12.20v1.29h-12.20zM369.6 683.00h12.20v1.29h-12.20zM393.3 668.08h12.20v1.29h-12.20zM405.2 671.07h12.20v1.29h-12.20zM405.2 678.03h12.20v1.29h-12.20zM417.0 665.10h12.20v1.29h-12.20zM417.0 669.08h12.20v1.29h-12.20zM417.0 672.06h12.20v1.29h-12.20zM417.0 680.02h12.20v1.29h-12.20zM428.9 674.05h11.85v1.29h-11.85zM334.1 694.03h12.20v1.32h-12.20zM393.3 686.92h12.20v1.32h-12.20zM393.3 696.07h12.20v1.32h-12.20zM405.2 687.93h12.20v1.32h-12.20zM405.2 692.00h12.20v1.32h-12.20zM405.2 694.03h12.20v1.32h-12.20zM428.9 688.95h11.85v1.32h-11.85zM428.9 689.97h11.85v1.32h-11.85zM334.1 704.06h12.20v1.29h-12.20zM345.9 703.07h12.20v1.29h-12.20zM345.9 706.04h12.20v1.29h-12.20zM357.8 703.07h12.20v1.29h-12.20zM369.6 702.08h12.20v1.29h-12.20zM381.5 709.01h12.20v1.29h-12.20zM405.2 700.10h12.20v1.29h-12.20zM405.2 708.02h12.20v1.29h-12.20zM405.2 709.01h12.20v1.29h-12.20zM417.0 704.06h12.20v1.29h-12.20zM417.0 708.02h12.20v1.29h-12.20zM428.9 703.07h11.85v1.29h-11.85zM428.9 706.04h11.85v1.29h-11.85z"/><path fill="#606090" d="M310.4 593.37h12.20v1.29h-12.20zM310.4 594.36h12.20v1.29h-12.20zM310.4 595.35h12.20v1.29h-12.20zM310.4 596.35h12.20v1.29h-12.20zM334.1 595.35h12.20v1.29h-12.20zM345.9 593.37h12.20v1.29h-12.20zM369.6 594.36h12.20v1.29h-12.20zM393.3 599.32h12.20v1.29h-12.20zM417.0 600.31h12.20v1.29h-12.20zM428.9 592.38h11.85v1.29h-11.85zM310.4 609.91h12.20v1.32h-12.20zM357.8 613.98h12.20v1.32h-12.20zM369.6 603.80h12.20v1.32h-12.20zM369.6 609.91h12.20v1.32h-12.20zM369.6 613.98h12.20v1.32h-12.20zM393.3 603.80h12.20v1.32h-12.20zM393.3 612.96h12.20v1.32h-12.20zM405.2 605.84h12.20v1.32h-12.20zM417.0 606.85h12.20v1.32h-12.20zM428.9 604.82h11.85v1.32h-11.85zM310.4 618.02h12.20v1.32h-12.20zM322.2 617.00h12.20v1.32h-12.20zM345.9 621.07h12.20v1.32h-12.20zM393.3 621.07h12.20v1.32h-12.20zM417.0 618.02h12.20v1.32h-12.20zM428.9 619.03h11.85v1.32h-11.85zM428.9 620.05h11.85v1.32h-11.85zM322.2 625.10h12.20v1.33h-12.20zM322.2 630.27h12.20v1.33h-12.20zM322.2 634.40h12.20v1.33h-12.20zM334.1 627.17h12.20v1.33h-12.20zM345.9 627.17h12.20v1.33h-12.20zM369.6 627.17h12.20v1.33h-12.20zM369.6 632.33h12.20v1.33h-12.20zM381.5 632.33h12.20v1.33h-12.20zM393.3 630.27h12.20v1.33h-12.20zM405.2 631.30h12.20v1.33h-12.20zM405.2 636.47h12.20v1.33h-12.20zM322.2 661.40h12.20v1.30h-12.20zM334.1 643.32h12.20v1.30h-12.20zM334.1 650.35h12.20v1.30h-12.20zM334.1 658.38h12.20v1.30h-12.20zM334.1 661.40h12.20v1.30h-12.20zM345.9 645.33h12.20v1.30h-12.20zM369.6 639.30h12.20v1.30h-12.20zM369.6 650.35h12.20v1.30h-12.20zM381.5 640.30h12.20v1.30h-12.20zM393.3 648.34h12.20v1.30h-12.20zM393.3 652.36h12.20v1.30h-12.20zM393.3 658.38h12.20v1.30h-12.20zM405.2 646.33h12.20v1.30h-12.20zM405.2 655.37h12.20v1.30h-12.20zM428.9 641.31h11.85v1.30h-11.85zM428.9 660.39h11.85v1.30h-11.85zM322.2 666.09h12.20v1.29h-12.20zM322.2 676.04h12.20v1.29h-12.20zM322.2 679.02h12.20v1.29h-12.20zM334.1 668.08h12.20v1.29h-12.20zM345.9 664.10h12.20v1.29h-12.20zM345.9 667.09h12.20v1.29h-12.20zM345.9 668.08h12.20v1.29h-12.20zM345.9 669.08h12.20v1.29h-12.20zM369.6 673.06h12.20v1.29h-12.20zM369.6 680.02h12.20v1.29h-12.20zM405.2 667.09h12.20v1.29h-12.20zM405.2 670.07h12.20v1.29h-12.20zM405.2 679.02h12.20v1.29h-12.20zM417.0 670.07h12.20v1.29h-12.20zM417.0 674.05h12.20v1.29h-12.20zM417.0 678.03h12.20v1.29h-12.20zM417.0 683.00h12.20v1.29h-12.20zM345.9 694.03h12.20v1.32h-12.20zM357.8 696.07h12.20v1.32h-12.20zM381.5 685.90h12.20v1.32h-12.20zM381.5 689.97h12.20v1.32h-12.20zM381.5 695.05h12.20v1.32h-12.20zM393.3 687.93h12.20v1.32h-12.20zM417.0 687.93h12.20v1.32h-12.20zM417.0 694.03h12.20v1.32h-12.20zM369.6 701.09h12.20v1.29h-12.20zM381.5 705.05h12.20v1.29h-12.20zM381.5 706.04h12.20v1.29h-12.20zM381.5 708.02h12.20v1.29h-12.20zM393.3 704.06h12.20v1.29h-12.20zM393.3 705.05h12.20v1.29h-12.20zM393.3 706.04h12.20v1.29h-12.20zM393.3 709.01h12.20v1.29h-12.20zM405.2 705.05h12.20v1.29h-12.20zM417.0 707.03h12.20v1.29h-12.20zM428.9 702.08h11.85v1.29h-11.85zM428.9 705.05h11.85v1.29h-11.85z"/><path fill="#6b6b83" d="M310.4 597.34h12.20v1.29h-12.20zM310.4 600.31h12.20v1.29h-12.20zM322.2 593.37h12.20v1.29h-12.20zM334.1 596.35h12.20v1.29h-12.20zM334.1 600.31h12.20v1.29h-12.20zM345.9 594.36h12.20v1.29h-12.20zM393.3 600.31h12.20v1.29h-12.20zM405.2 594.36h12.20v1.29h-12.20zM417.0 591.39h12.20v1.29h-12.20zM417.0 596.35h12.20v1.29h-12.20zM428.9 591.39h11.85v1.29h-11.85zM428.9 598.33h11.85v1.29h-11.85zM428.9 599.32h11.85v1.29h-11.85zM345.9 603.80h12.20v1.32h-12.20zM345.9 613.98h12.20v1.32h-12.20zM357.8 612.96h12.20v1.32h-12.20zM369.6 610.93h12.20v1.32h-12.20zM381.5 604.82h12.20v1.32h-12.20zM381.5 608.89h12.20v1.32h-12.20zM405.2 604.82h12.20v1.32h-12.20zM405.2 610.93h12.20v1.32h-12.20zM405.2 613.98h12.20v1.32h-12.20zM417.0 605.84h12.20v1.32h-12.20zM428.9 605.84h11.85v1.32h-11.85zM345.9 618.02h12.20v1.32h-12.20zM393.3 618.02h12.20v1.32h-12.20zM393.3 619.03h12.20v1.32h-12.20zM417.0 619.03h12.20v1.32h-12.20zM381.5 630.27h12.20v1.33h-12.20zM417.0 625.10h12.20v1.33h-12.20zM417.0 634.40h12.20v1.33h-12.20zM428.9 635.43h11.85v1.33h-11.85zM334.1 653.36h12.20v1.30h-12.20zM334.1 655.37h12.20v1.30h-12.20zM357.8 643.32h12.20v1.30h-12.20zM357.8 647.33h12.20v1.30h-12.20zM357.8 650.35h12.20v1.30h-12.20zM357.8 652.36h12.20v1.30h-12.20zM357.8 657.38h12.20v1.30h-12.20zM369.6 654.37h12.20v1.30h-12.20zM381.5 646.33h12.20v1.30h-12.20zM393.3 639.30h12.20v1.30h-12.20zM393.3 642.31h12.20v1.30h-12.20zM393.3 656.37h12.20v1.30h-12.20zM405.2 641.31h12.20v1.30h-12.20zM405.2 645.33h12.20v1.30h-12.20zM405.2 650.35h12.20v1.30h-12.20zM405.2 659.39h12.20v1.30h-12.20zM417.0 644.32h12.20v1.30h-12.20zM417.0 655.37h12.20v1.30h-12.20zM428.9 643.32h11.85v1.30h-11.85zM428.9 650.35h11.85v1.30h-11.85zM428.9 653.36h11.85v1.30h-11.85zM428.9 661.40h11.85v1.30h-11.85zM322.2 671.07h12.20v1.29h-12.20zM334.1 675.04h12.20v1.29h-12.20zM334.1 676.04h12.20v1.29h-12.20zM334.1 678.03h12.20v1.29h-12.20zM345.9 665.10h12.20v1.29h-12.20zM345.9 677.03h12.20v1.29h-12.20zM357.8 664.10h12.20v1.29h-12.20zM357.8 666.09h12.20v1.29h-12.20zM357.8 672.06h12.20v1.29h-12.20zM369.6 667.09h12.20v1.29h-12.20zM369.6 668.08h12.20v1.29h-12.20zM369.6 672.06h12.20v1.29h-12.20zM369.6 676.04h12.20v1.29h-12.20zM381.5 668.08h12.20v1.29h-12.20zM381.5 681.01h12.20v1.29h-12.20zM393.3 673.06h12.20v1.29h-12.20zM393.3 683.00h12.20v1.29h-12.20zM405.2 666.09h12.20v1.29h-12.20zM405.2 668.08h12.20v1.29h-12.20zM405.2 669.08h12.20v1.29h-12.20zM405.2 674.05h12.20v1.29h-12.20zM417.0 667.09h12.20v1.29h-12.20zM417.0 676.04h12.20v1.29h-12.20zM428.9 669.08h11.85v1.29h-11.85zM428.9 670.07h11.85v1.29h-11.85zM428.9 675.04h11.85v1.29h-11.85zM428.9 682.01h11.85v1.29h-11.85zM345.9 689.97h12.20v1.32h-12.20zM357.8 694.03h12.20v1.32h-12.20zM357.8 697.08h12.20v1.32h-12.20zM381.5 693.02h12.20v1.32h-12.20zM381.5 696.07h12.20v1.32h-12.20zM405.2 695.05h12.20v1.32h-12.20zM405.2 696.07h12.20v1.32h-12.20zM428.9 694.03h11.85v1.32h-11.85zM310.4 701.09h12.20v1.29h-12.20zM345.9 708.02h12.20v1.29h-12.20zM357.8 700.10h12.20v1.29h-12.20zM381.5 704.06h12.20v1.29h-12.20zM417.0 702.08h12.20v1.29h-12.20zM417.0 703.07h12.20v1.29h-12.20z"/><path fill="#71717d" d="M310.4 598.33h12.20v1.29h-12.20zM334.1 591.39h12.20v1.29h-12.20zM369.6 593.37h12.20v1.29h-12.20zM369.6 597.34h12.20v1.29h-12.20zM393.3 592.38h12.20v1.29h-12.20zM405.2 600.31h12.20v1.29h-12.20zM334.1 604.82h12.20v1.32h-12.20zM334.1 611.95h12.20v1.32h-12.20zM334.1 613.98h12.20v1.32h-12.20zM357.8 605.84h12.20v1.32h-12.20zM357.8 607.87h12.20v1.32h-12.20zM369.6 605.84h12.20v1.32h-12.20zM369.6 608.89h12.20v1.32h-12.20zM369.6 612.96h12.20v1.32h-12.20zM381.5 609.91h12.20v1.32h-12.20zM393.3 609.91h12.20v1.32h-12.20zM405.2 608.89h12.20v1.32h-12.20zM405.2 609.91h12.20v1.32h-12.20zM417.0 608.89h12.20v1.32h-12.20zM417.0 610.93h12.20v1.32h-12.20zM417.0 611.95h12.20v1.32h-12.20zM428.9 606.85h11.85v1.32h-11.85zM334.1 618.02h12.20v1.32h-12.20zM369.6 621.07h12.20v1.32h-12.20zM381.5 617.00h12.20v1.32h-12.20zM393.3 622.08h12.20v1.32h-12.20zM417.0 621.07h12.20v1.32h-12.20zM322.2 635.43h12.20v1.33h-12.20zM381.5 631.30h12.20v1.33h-12.20zM393.3 626.13h12.20v1.33h-12.20zM393.3 631.30h12.20v1.33h-12.20zM393.3 636.47h12.20v1.33h-12.20zM417.0 633.37h12.20v1.33h-12.20zM428.9 632.33h11.85v1.33h-11.85zM310.4 656.37h12.20v1.30h-12.20zM322.2 647.33h12.20v1.30h-12.20zM322.2 651.35h12.20v1.30h-12.20zM322.2 654.37h12.20v1.30h-12.20zM322.2 660.39h12.20v1.30h-12.20zM334.1 654.37h12.20v1.30h-12.20zM345.9 661.40h12.20v1.30h-12.20zM357.8 640.30h12.20v1.30h-12.20zM357.8 641.31h12.20v1.30h-12.20zM357.8 644.32h12.20v1.30h-12.20zM357.8 645.33h12.20v1.30h-12.20zM357.8 648.34h12.20v1.30h-12.20zM357.8 658.38h12.20v1.30h-12.20zM369.6 643.32h12.20v1.30h-12.20zM369.6 659.39h12.20v1.30h-12.20zM369.6 660.39h12.20v1.30h-12.20zM381.5 652.36h12.20v1.30h-12.20zM381.5 656.37h12.20v1.30h-12.20zM381.5 657.38h12.20v1.30h-12.20zM393.3 640.30h12.20v1.30h-12.20zM393.3 643.32h12.20v1.30h-12.20zM417.0 651.35h12.20v1.30h-12.20zM428.9 648.34h11.85v1.30h-11.85zM322.2 675.04h12.20v1.29h-12.20zM334.1 669.08h12.20v1.29h-12.20zM334.1 679.02h12.20v1.29h-12.20zM334.1 682.01h12.20v1.29h-12.20zM345.9 670.07h12.20v1.29h-12.20zM357.8 669.08h12.20v1.29h-12.20zM357.8 675.04h12.20v1.29h-12.20zM369.6 665.10h12.20v1.29h-12.20zM381.5 674.05h12.20v1.29h-12.20zM393.3 674.05h12.20v1.29h-12.20zM393.3 675.04h12.20v1.29h-12.20zM393.3 678.03h12.20v1.29h-12.20zM405.2 673.06h12.20v1.29h-12.20zM428.9 664.10h11.85v1.29h-11.85zM310.4 686.92h12.20v1.32h-12.20zM334.1 696.07h12.20v1.32h-12.20zM345.9 685.90h12.20v1.32h-12.20zM345.9 692.00h12.20v1.32h-12.20zM357.8 685.90h12.20v1.32h-12.20zM357.8 686.92h12.20v1.32h-12.20zM357.8 690.98h12.20v1.32h-12.20zM381.5 690.98h12.20v1.32h-12.20zM393.3 688.95h12.20v1.32h-12.20zM405.2 689.97h12.20v1.32h-12.20zM405.2 690.98h12.20v1.32h-12.20zM417.0 696.07h12.20v1.32h-12.20zM428.9 692.00h11.85v1.32h-11.85zM322.2 702.08h12.20v1.29h-12.20zM322.2 703.07h12.20v1.29h-12.20zM322.2 705.05h12.20v1.29h-12.20zM381.5 700.10h12.20v1.29h-12.20zM381.5 701.09h12.20v1.29h-12.20zM381.5 702.08h12.20v1.29h-12.20zM381.5 703.07h12.20v1.29h-12.20zM381.5 707.03h12.20v1.29h-12.20zM393.3 701.09h12.20v1.29h-12.20zM393.3 703.07h12.20v1.29h-12.20zM417.0 705.05h12.20v1.29h-12.20zM417.0 706.04h12.20v1.29h-12.20zM428.9 708.02h11.85v1.29h-11.85z"/><path fill="#3737bd" d="M310.4 599.32h12.20v1.29h-12.20zM345.9 597.34h12.20v1.29h-12.20zM369.6 591.39h12.20v1.29h-12.20zM310.4 603.80h12.20v1.32h-12.20zM310.4 604.82h12.20v1.32h-12.20zM334.1 625.10h12.20v1.33h-12.20zM345.9 625.10h12.20v1.33h-12.20zM345.9 635.43h12.20v1.33h-12.20zM345.9 659.39h12.20v1.30h-12.20zM417.0 660.39h12.20v1.30h-12.20zM369.6 695.05h12.20v1.32h-12.20zM428.9 696.07h11.85v1.32h-11.85z"/><path fill="#54549c" d="M322.2 590.40h12.20v1.29h-12.20zM322.2 594.36h12.20v1.29h-12.20zM322.2 596.35h12.20v1.29h-12.20zM322.2 597.34h12.20v1.29h-12.20zM334.1 598.33h12.20v1.29h-12.20zM369.6 590.40h12.20v1.29h-12.20zM310.4 607.87h12.20v1.32h-12.20zM357.8 604.82h12.20v1.32h-12.20zM357.8 606.85h12.20v1.32h-12.20zM369.6 604.82h12.20v1.32h-12.20zM428.9 610.93h11.85v1.32h-11.85zM428.9 612.96h11.85v1.32h-11.85zM310.4 621.07h12.20v1.32h-12.20zM310.4 622.08h12.20v1.32h-12.20zM345.9 622.08h12.20v1.32h-12.20zM381.5 619.03h12.20v1.32h-12.20zM381.5 622.08h12.20v1.32h-12.20zM405.2 621.07h12.20v1.32h-12.20zM417.0 617.00h12.20v1.32h-12.20zM417.0 622.08h12.20v1.32h-12.20zM428.9 621.07h11.85v1.32h-11.85zM322.2 628.20h12.20v1.33h-12.20zM334.1 626.13h12.20v1.33h-12.20zM334.1 628.20h12.20v1.33h-12.20zM334.1 631.30h12.20v1.33h-12.20zM334.1 632.33h12.20v1.33h-12.20zM334.1 633.37h12.20v1.33h-12.20zM345.9 630.27h12.20v1.33h-12.20zM381.5 627.17h12.20v1.33h-12.20zM381.5 636.47h12.20v1.33h-12.20zM405.2 630.27h12.20v1.33h-12.20zM405.2 635.43h12.20v1.33h-12.20zM417.0 632.33h12.20v1.33h-12.20zM417.0 635.43h12.20v1.33h-12.20zM428.9 627.17h11.85v1.33h-11.85zM428.9 631.30h11.85v1.33h-11.85zM345.9 640.30h12.20v1.30h-12.20zM345.9 643.32h12.20v1.30h-12.20zM345.9 653.36h12.20v1.30h-12.20zM357.8 651.35h12.20v1.30h-12.20zM369.6 641.31h12.20v1.30h-12.20zM405.2 656.37h12.20v1.30h-12.20zM417.0 641.31h12.20v1.30h-12.20zM417.0 650.35h12.20v1.30h-12.20zM428.9 639.30h11.85v1.30h-11.85zM334.1 665.10h12.20v1.29h-12.20zM345.9 666.09h12.20v1.29h-12.20zM345.9 673.06h12.20v1.29h-12.20zM345.9 683.00h12.20v1.29h-12.20zM357.8 674.05h12.20v1.29h-12.20zM369.6 682.01h12.20v1.29h-12.20zM417.0 675.04h12.20v1.29h-12.20zM417.0 677.03h12.20v1.29h-12.20zM417.0 682.01h12.20v1.29h-12.20zM345.9 688.95h12.20v1.32h-12.20zM393.3 685.90h12.20v1.32h-12.20zM393.3 690.98h12.20v1.32h-12.20zM393.3 694.03h12.20v1.32h-12.20zM417.0 692.00h12.20v1.32h-12.20zM417.0 693.02h12.20v1.32h-12.20zM369.6 700.10h12.20v1.29h-12.20zM393.3 700.10h12.20v1.29h-12.20zM405.2 704.06h12.20v1.29h-12.20z"/><path fill="#3d3db7" d="M322.2 591.39h12.20v1.29h-12.20zM322.2 600.31h12.20v1.29h-12.20zM334.1 593.37h12.20v1.29h-12.20zM345.9 592.38h12.20v1.29h-12.20zM310.4 608.89h12.20v1.32h-12.20zM310.4 612.96h12.20v1.32h-12.20zM322.2 605.84h12.20v1.32h-12.20zM417.0 603.80h12.20v1.32h-12.20zM310.4 619.03h12.20v1.32h-12.20zM334.1 647.33h12.20v1.30h-12.20zM334.1 660.39h12.20v1.30h-12.20zM345.9 646.33h12.20v1.30h-12.20zM417.0 643.32h12.20v1.30h-12.20zM417.0 646.33h12.20v1.30h-12.20zM417.0 652.36h12.20v1.30h-12.20zM345.9 680.02h12.20v1.29h-12.20zM369.6 675.04h12.20v1.29h-12.20zM369.6 687.93h12.20v1.32h-12.20zM369.6 694.03h12.20v1.32h-12.20zM369.6 696.07h12.20v1.32h-12.20zM357.8 701.09h12.20v1.29h-12.20zM357.8 707.03h12.20v1.29h-12.20zM369.6 703.07h12.20v1.29h-12.20z"/><path fill="#5a5a96" d="M322.2 595.35h12.20v1.29h-12.20zM334.1 594.36h12.20v1.29h-12.20zM345.9 591.39h12.20v1.29h-12.20zM369.6 592.38h12.20v1.29h-12.20zM369.6 595.35h12.20v1.29h-12.20zM405.2 590.40h12.20v1.29h-12.20zM405.2 596.35h12.20v1.29h-12.20zM417.0 599.32h12.20v1.29h-12.20zM345.9 606.85h12.20v1.32h-12.20zM381.5 612.96h12.20v1.32h-12.20zM393.3 605.84h12.20v1.32h-12.20zM393.3 610.93h12.20v1.32h-12.20zM405.2 612.96h12.20v1.32h-12.20zM310.4 617.00h12.20v1.32h-12.20zM322.2 622.08h12.20v1.32h-12.20zM334.1 620.05h12.20v1.32h-12.20zM345.9 619.03h12.20v1.32h-12.20zM381.5 618.02h12.20v1.32h-12.20zM381.5 620.05h12.20v1.32h-12.20zM405.2 618.02h12.20v1.32h-12.20zM428.9 618.02h11.85v1.32h-11.85zM322.2 626.13h12.20v1.33h-12.20zM322.2 631.30h12.20v1.33h-12.20zM334.1 629.23h12.20v1.33h-12.20zM345.9 628.20h12.20v1.33h-12.20zM345.9 629.23h12.20v1.33h-12.20zM369.6 626.13h12.20v1.33h-12.20zM369.6 635.43h12.20v1.33h-12.20zM381.5 628.20h12.20v1.33h-12.20zM405.2 625.10h12.20v1.33h-12.20zM405.2 627.17h12.20v1.33h-12.20zM417.0 636.47h12.20v1.33h-12.20zM428.9 626.13h11.85v1.33h-11.85zM334.1 645.33h12.20v1.30h-12.20zM334.1 648.34h12.20v1.30h-12.20zM334.1 651.35h12.20v1.30h-12.20zM334.1 652.36h12.20v1.30h-12.20zM345.9 647.33h12.20v1.30h-12.20zM345.9 652.36h12.20v1.30h-12.20zM345.9 657.38h12.20v1.30h-12.20zM345.9 660.39h12.20v1.30h-12.20zM357.8 654.37h12.20v1.30h-12.20zM369.6 661.40h12.20v1.30h-12.20zM393.3 650.35h12.20v1.30h-12.20zM417.0 640.30h12.20v1.30h-12.20zM417.0 657.38h12.20v1.30h-12.20zM428.9 655.37h11.85v1.30h-11.85zM322.2 673.06h12.20v1.29h-12.20zM322.2 683.00h12.20v1.29h-12.20zM345.9 672.06h12.20v1.29h-12.20zM345.9 674.05h12.20v1.29h-12.20zM345.9 678.03h12.20v1.29h-12.20zM357.8 682.01h12.20v1.29h-12.20zM369.6 664.10h12.20v1.29h-12.20zM369.6 678.03h12.20v1.29h-12.20zM369.6 679.02h12.20v1.29h-12.20zM381.5 676.04h12.20v1.29h-12.20zM393.3 671.07h12.20v1.29h-12.20zM405.2 665.10h12.20v1.29h-12.20zM405.2 675.04h12.20v1.29h-12.20zM417.0 664.10h12.20v1.29h-12.20zM417.0 673.06h12.20v1.29h-12.20zM428.9 671.07h11.85v1.29h-11.85zM428.9 676.04h11.85v1.29h-11.85zM334.1 689.97h12.20v1.32h-12.20zM357.8 695.05h12.20v1.32h-12.20zM369.6 690.98h12.20v1.32h-12.20zM405.2 693.02h12.20v1.32h-12.20zM417.0 685.90h12.20v1.32h-12.20zM417.0 686.92h12.20v1.32h-12.20zM417.0 688.95h12.20v1.32h-12.20zM428.9 685.90h11.85v1.32h-11.85zM428.9 686.92h11.85v1.32h-11.85zM428.9 687.93h11.85v1.32h-11.85zM428.9 690.98h11.85v1.32h-11.85zM428.9 693.02h11.85v1.32h-11.85zM428.9 695.05h11.85v1.32h-11.85zM310.4 707.03h12.20v1.29h-12.20zM322.2 704.06h12.20v1.29h-12.20zM369.6 704.06h12.20v1.29h-12.20zM405.2 703.07h12.20v1.29h-12.20zM405.2 706.04h12.20v1.29h-12.20z"/><path fill="#7d7d71" d="M322.2 598.33h12.20v1.29h-12.20zM357.8 592.38h12.20v1.29h-12.20zM357.8 598.33h12.20v1.29h-12.20zM381.5 596.35h12.20v1.29h-12.20zM405.2 591.39h12.20v1.29h-12.20zM405.2 598.33h12.20v1.29h-12.20zM428.9 594.36h11.85v1.29h-11.85zM428.9 595.35h11.85v1.29h-11.85zM334.1 603.80h12.20v1.32h-12.20zM334.1 606.85h12.20v1.32h-12.20zM345.9 608.89h12.20v1.32h-12.20zM357.8 610.93h12.20v1.32h-12.20zM381.5 606.85h12.20v1.32h-12.20zM381.5 607.87h12.20v1.32h-12.20zM381.5 613.98h12.20v1.32h-12.20zM393.3 611.95h12.20v1.32h-12.20zM428.9 607.87h11.85v1.32h-11.85zM428.9 613.98h11.85v1.32h-11.85zM334.1 622.08h12.20v1.32h-12.20zM369.6 618.02h12.20v1.32h-12.20zM405.2 622.08h12.20v1.32h-12.20zM428.9 617.00h11.85v1.32h-11.85zM310.4 625.10h12.20v1.33h-12.20zM310.4 636.47h12.20v1.33h-12.20zM369.6 628.20h12.20v1.33h-12.20zM369.6 630.27h12.20v1.33h-12.20zM381.5 635.43h12.20v1.33h-12.20zM393.3 625.10h12.20v1.33h-12.20zM393.3 629.23h12.20v1.33h-12.20zM405.2 634.40h12.20v1.33h-12.20zM428.9 630.27h11.85v1.33h-11.85zM428.9 633.37h11.85v1.33h-11.85zM322.2 655.37h12.20v1.30h-12.20zM322.2 656.37h12.20v1.30h-12.20zM322.2 657.38h12.20v1.30h-12.20zM334.1 639.30h12.20v1.30h-12.20zM357.8 646.33h12.20v1.30h-12.20zM357.8 661.40h12.20v1.30h-12.20zM369.6 655.37h12.20v1.30h-12.20zM369.6 656.37h12.20v1.30h-12.20zM381.5 650.35h12.20v1.30h-12.20zM393.3 646.33h12.20v1.30h-12.20zM393.3 647.33h12.20v1.30h-12.20zM393.3 649.34h12.20v1.30h-12.20zM393.3 660.39h12.20v1.30h-12.20zM405.2 643.32h12.20v1.30h-12.20zM405.2 651.35h12.20v1.30h-12.20zM428.9 640.30h11.85v1.30h-11.85zM428.9 657.38h11.85v1.30h-11.85zM322.2 668.08h12.20v1.29h-12.20zM334.1 681.01h12.20v1.29h-12.20zM357.8 676.04h12.20v1.29h-12.20zM369.6 666.09h12.20v1.29h-12.20zM381.5 664.10h12.20v1.29h-12.20zM381.5 673.06h12.20v1.29h-12.20zM393.3 667.09h12.20v1.29h-12.20zM393.3 670.07h12.20v1.29h-12.20zM405.2 664.10h12.20v1.29h-12.20zM405.2 677.03h12.20v1.29h-12.20zM405.2 680.02h12.20v1.29h-12.20zM405.2 683.00h12.20v1.29h-12.20zM417.0 671.07h12.20v1.29h-12.20zM428.9 665.10h11.85v1.29h-11.85zM428.9 668.08h11.85v1.29h-11.85zM428.9 677.03h11.85v1.29h-11.85zM310.4 697.08h12.20v1.32h-12.20zM322.2 687.93h12.20v1.32h-12.20zM322.2 697.08h12.20v1.32h-12.20zM334.1 690.98h12.20v1.32h-12.20zM345.9 686.92h12.20v1.32h-12.20zM345.9 695.05h12.20v1.32h-12.20zM405.2 685.90h12.20v1.32h-12.20zM310.4 700.10h12.20v1.29h-12.20zM334.1 707.03h12.20v1.29h-12.20zM345.9 700.10h12.20v1.29h-12.20zM393.3 707.03h12.20v1.29h-12.20zM417.0 701.09h12.20v1.29h-12.20zM428.9 704.06h11.85v1.29h-11.85z"/><path fill="#2b2bcb" d="M322.2 599.32h12.20v1.29h-12.20zM322.2 606.85h12.20v1.32h-12.20zM345.9 639.30h12.20v1.30h-12.20zM369.6 688.95h12.20v1.32h-12.20zM393.3 692.00h12.20v1.32h-12.20z"/><path fill="#909060" d="M334.1 592.38h12.20v1.29h-12.20zM381.5 591.39h12.20v1.29h-12.20zM381.5 592.38h12.20v1.29h-12.20zM381.5 597.34h12.20v1.29h-12.20zM405.2 592.38h12.20v1.29h-12.20zM345.9 611.95h12.20v1.32h-12.20zM345.9 612.96h12.20v1.32h-12.20zM357.8 608.89h12.20v1.32h-12.20zM417.0 607.87h12.20v1.32h-12.20zM369.6 622.08h12.20v1.32h-12.20zM405.2 620.05h12.20v1.32h-12.20zM310.4 628.20h12.20v1.33h-12.20zM369.6 634.40h12.20v1.33h-12.20zM417.0 628.20h12.20v1.33h-12.20zM428.9 628.20h11.85v1.33h-11.85zM310.4 643.32h12.20v1.30h-12.20zM310.4 646.33h12.20v1.30h-12.20zM310.4 657.38h12.20v1.30h-12.20zM310.4 661.40h12.20v1.30h-12.20zM322.2 641.31h12.20v1.30h-12.20zM322.2 649.34h12.20v1.30h-12.20zM322.2 658.38h12.20v1.30h-12.20zM369.6 652.36h12.20v1.30h-12.20zM381.5 644.32h12.20v1.30h-12.20zM393.3 644.32h12.20v1.30h-12.20zM405.2 639.30h12.20v1.30h-12.20zM405.2 652.36h12.20v1.30h-12.20zM357.8 668.08h12.20v1.29h-12.20zM357.8 677.03h12.20v1.29h-12.20zM369.6 674.05h12.20v1.29h-12.20zM381.5 667.09h12.20v1.29h-12.20zM381.5 677.03h12.20v1.29h-12.20zM381.5 678.03h12.20v1.29h-12.20zM428.9 683.00h11.85v1.29h-11.85zM310.4 687.93h12.20v1.32h-12.20zM322.2 694.03h12.20v1.32h-12.20zM345.9 690.98h12.20v1.32h-12.20zM345.9 693.02h12.20v1.32h-12.20zM381.5 688.95h12.20v1.32h-12.20zM322.2 701.09h12.20v1.29h-12.20zM334.1 708.02h12.20v1.29h-12.20zM334.1 709.01h12.20v1.29h-12.20zM393.3 702.08h12.20v1.29h-12.20zM428.9 700.10h11.85v1.29h-11.85zM428.9 707.03h11.85v1.29h-11.85z"/><path fill="#4e4ea3" d="M334.1 597.34h12.20v1.29h-12.20zM345.9 599.32h12.20v1.29h-12.20zM417.0 590.40h12.20v1.29h-12.20zM417.0 593.37h12.20v1.29h-12.20zM310.4 606.85h12.20v1.32h-12.20zM310.4 611.95h12.20v1.32h-12.20zM369.6 606.85h12.20v1.32h-12.20zM393.3 608.89h12.20v1.32h-12.20zM310.4 620.05h12.20v1.32h-12.20zM345.9 617.00h12.20v1.32h-12.20zM322.2 632.33h12.20v1.33h-12.20zM345.9 632.33h12.20v1.33h-12.20zM369.6 631.30h12.20v1.33h-12.20zM381.5 625.10h12.20v1.33h-12.20zM381.5 629.23h12.20v1.33h-12.20zM405.2 628.20h12.20v1.33h-12.20zM417.0 627.17h12.20v1.33h-12.20zM345.9 655.37h12.20v1.30h-12.20zM405.2 642.31h12.20v1.30h-12.20zM417.0 647.33h12.20v1.30h-12.20zM417.0 649.34h12.20v1.30h-12.20zM417.0 654.37h12.20v1.30h-12.20zM417.0 656.37h12.20v1.30h-12.20zM428.9 645.33h11.85v1.30h-11.85zM428.9 658.38h11.85v1.30h-11.85zM322.2 664.10h12.20v1.29h-12.20zM322.2 677.03h12.20v1.29h-12.20zM369.6 670.07h12.20v1.29h-12.20zM369.6 671.07h12.20v1.29h-12.20zM369.6 677.03h12.20v1.29h-12.20zM417.0 679.02h12.20v1.29h-12.20zM428.9 681.01h11.85v1.29h-11.85zM357.8 693.02h12.20v1.32h-12.20zM369.6 697.08h12.20v1.32h-12.20zM381.5 692.00h12.20v1.32h-12.20zM393.3 697.08h12.20v1.32h-12.20zM405.2 697.08h12.20v1.32h-12.20zM417.0 695.05h12.20v1.32h-12.20zM417.0 697.08h12.20v1.32h-12.20zM322.2 707.03h12.20v1.29h-12.20zM345.9 702.08h12.20v1.29h-12.20zM345.9 704.06h12.20v1.29h-12.20zM405.2 701.09h12.20v1.29h-12.20z"/><path fill="#1212e8" d="M345.9 590.40h12.20v1.29h-12.20z"/><path fill="#1919e1" d="M345.9 595.35h12.20v1.29h-12.20zM322.2 604.82h12.20v1.32h-12.20zM322.2 610.93h12.20v1.32h-12.20zM322.2 613.98h12.20v1.32h-12.20zM357.8 708.02h12.20v1.29h-12.20z"/><path fill="#8a8a66" d="M357.8 590.40h12.20v1.29h-12.20zM357.8 597.34h12.20v1.29h-12.20zM381.5 594.36h12.20v1.29h-12.20zM381.5 595.35h12.20v1.29h-12.20zM405.2 593.37h12.20v1.29h-12.20zM334.1 607.87h12.20v1.32h-12.20zM345.9 605.84h12.20v1.32h-12.20zM381.5 610.93h12.20v1.32h-12.20zM393.3 606.85h12.20v1.32h-12.20zM405.2 606.85h12.20v1.32h-12.20zM405.2 611.95h12.20v1.32h-12.20zM310.4 630.27h12.20v1.33h-12.20zM357.8 626.13h12.20v1.33h-12.20zM369.6 625.10h12.20v1.33h-12.20zM310.4 641.31h12.20v1.30h-12.20zM310.4 642.31h12.20v1.30h-12.20zM369.6 651.35h12.20v1.30h-12.20zM381.5 648.34h12.20v1.30h-12.20zM428.9 644.32h11.85v1.30h-11.85zM322.2 680.02h12.20v1.29h-12.20zM345.9 679.02h12.20v1.29h-12.20zM357.8 670.07h12.20v1.29h-12.20zM357.8 683.00h12.20v1.29h-12.20zM381.5 679.02h12.20v1.29h-12.20zM393.3 664.10h12.20v1.29h-12.20zM393.3 677.03h12.20v1.29h-12.20zM428.9 672.06h11.85v1.29h-11.85zM310.4 692.00h12.20v1.32h-12.20zM334.1 688.95h12.20v1.32h-12.20zM334.1 693.02h12.20v1.32h-12.20zM334.1 695.05h12.20v1.32h-12.20zM393.3 695.05h12.20v1.32h-12.20zM405.2 686.92h12.20v1.32h-12.20zM322.2 706.04h12.20v1.29h-12.20zM334.1 701.09h12.20v1.29h-12.20zM345.9 709.01h12.20v1.29h-12.20zM393.3 708.02h12.20v1.29h-12.20zM428.9 709.01h11.85v1.29h-11.85z"/><path fill="#777777" d="M357.8 591.39h12.20v1.29h-12.20zM357.8 595.35h12.20v1.29h-12.20zM357.8 600.31h12.20v1.29h-12.20zM393.3 597.34h12.20v1.29h-12.20zM428.9 596.35h11.85v1.29h-11.85zM428.9 600.31h11.85v1.29h-11.85zM334.1 608.89h12.20v1.32h-12.20zM334.1 610.93h12.20v1.32h-12.20zM334.1 612.96h12.20v1.32h-12.20zM345.9 609.91h12.20v1.32h-12.20zM357.8 603.80h12.20v1.32h-12.20zM381.5 603.80h12.20v1.32h-12.20zM393.3 604.82h12.20v1.32h-12.20zM417.0 612.96h12.20v1.32h-12.20zM428.9 603.80h11.85v1.32h-11.85zM428.9 608.89h11.85v1.32h-11.85zM428.9 611.95h11.85v1.32h-11.85zM357.8 619.03h12.20v1.32h-12.20zM405.2 617.00h12.20v1.32h-12.20zM405.2 619.03h12.20v1.32h-12.20zM381.5 626.13h12.20v1.33h-12.20zM393.3 633.37h12.20v1.33h-12.20zM405.2 632.33h12.20v1.33h-12.20zM417.0 631.30h12.20v1.33h-12.20zM428.9 629.23h11.85v1.33h-11.85zM428.9 634.40h11.85v1.33h-11.85zM428.9 636.47h11.85v1.33h-11.85zM322.2 643.32h12.20v1.30h-12.20zM322.2 653.36h12.20v1.30h-12.20zM334.1 659.39h12.20v1.30h-12.20zM357.8 639.30h12.20v1.30h-12.20zM357.8 655.37h12.20v1.30h-12.20zM357.8 660.39h12.20v1.30h-12.20zM369.6 645.33h12.20v1.30h-12.20zM369.6 646.33h12.20v1.30h-12.20zM369.6 649.34h12.20v1.30h-12.20zM381.5 642.31h12.20v1.30h-12.20zM381.5 660.39h12.20v1.30h-12.20zM393.3 645.33h12.20v1.30h-12.20zM393.3 661.40h12.20v1.30h-12.20zM405.2 640.30h12.20v1.30h-12.20zM405.2 649.34h12.20v1.30h-12.20zM405.2 654.37h12.20v1.30h-12.20zM405.2 660.39h12.20v1.30h-12.20zM428.9 642.31h11.85v1.30h-11.85zM428.9 649.34h11.85v1.30h-11.85zM322.2 678.03h12.20v1.29h-12.20zM334.1 672.06h12.20v1.29h-12.20zM334.1 673.06h12.20v1.29h-12.20zM334.1 677.03h12.20v1.29h-12.20zM357.8 671.07h12.20v1.29h-12.20zM357.8 678.03h12.20v1.29h-12.20zM357.8 680.02h12.20v1.29h-12.20zM369.6 681.01h12.20v1.29h-12.20zM381.5 666.09h12.20v1.29h-12.20zM381.5 671.07h12.20v1.29h-12.20zM381.5 675.04h12.20v1.29h-12.20zM381.5 680.02h12.20v1.29h-12.20zM381.5 682.01h12.20v1.29h-12.20zM381.5 683.00h12.20v1.29h-12.20zM393.3 676.04h12.20v1.29h-12.20zM393.3 680.02h12.20v1.29h-12.20zM405.2 672.06h12.20v1.29h-12.20zM405.2 676.04h12.20v1.29h-12.20zM405.2 681.01h12.20v1.29h-12.20zM428.9 666.09h11.85v1.29h-11.85zM428.9 667.09h11.85v1.29h-11.85zM428.9 673.06h11.85v1.29h-11.85zM428.9 678.03h11.85v1.29h-11.85zM428.9 680.02h11.85v1.29h-11.85zM310.4 685.90h12.20v1.32h-12.20zM310.4 695.05h12.20v1.32h-12.20zM334.1 685.90h12.20v1.32h-12.20zM334.1 687.93h12.20v1.32h-12.20zM334.1 692.00h12.20v1.32h-12.20zM345.9 687.93h12.20v1.32h-12.20zM345.9 696.07h12.20v1.32h-12.20zM345.9 697.08h12.20v1.32h-12.20zM369.6 693.02h12.20v1.32h-12.20zM381.5 687.93h12.20v1.32h-12.20zM310.4 705.05h12.20v1.29h-12.20zM322.2 708.02h12.20v1.29h-12.20zM322.2 709.01h12.20v1.29h-12.20zM345.9 701.09h12.20v1.29h-12.20zM345.9 705.05h12.20v1.29h-12.20zM369.6 706.04h12.20v1.29h-12.20zM417.0 700.10h12.20v1.29h-12.20zM417.0 709.01h12.20v1.29h-12.20z"/><path fill="#83836b" d="M357.8 593.37h12.20v1.29h-12.20zM369.6 599.32h12.20v1.29h-12.20zM393.3 590.40h12.20v1.29h-12.20zM393.3 591.39h12.20v1.29h-12.20zM428.9 590.40h11.85v1.29h-11.85zM428.9 593.37h11.85v1.29h-11.85zM334.1 605.84h12.20v1.32h-12.20zM345.9 604.82h12.20v1.32h-12.20zM345.9 607.87h12.20v1.32h-12.20zM405.2 603.80h12.20v1.32h-12.20zM405.2 607.87h12.20v1.32h-12.20zM417.0 604.82h12.20v1.32h-12.20zM417.0 609.91h12.20v1.32h-12.20zM428.9 609.91h11.85v1.32h-11.85zM357.8 617.00h12.20v1.32h-12.20zM357.8 620.05h12.20v1.32h-12.20zM393.3 620.05h12.20v1.32h-12.20zM417.0 620.05h12.20v1.32h-12.20zM310.4 631.30h12.20v1.33h-12.20zM310.4 635.43h12.20v1.33h-12.20zM357.8 629.23h12.20v1.33h-12.20zM393.3 627.17h12.20v1.33h-12.20zM393.3 634.40h12.20v1.33h-12.20zM393.3 635.43h12.20v1.33h-12.20zM417.0 626.13h12.20v1.33h-12.20zM310.4 640.30h12.20v1.30h-12.20zM322.2 639.30h12.20v1.30h-12.20zM322.2 642.31h12.20v1.30h-12.20zM322.2 645.33h12.20v1.30h-12.20zM322.2 650.35h12.20v1.30h-12.20zM357.8 653.36h12.20v1.30h-12.20zM381.5 643.32h12.20v1.30h-12.20zM381.5 653.36h12.20v1.30h-12.20zM381.5 659.39h12.20v1.30h-12.20zM393.3 654.37h12.20v1.30h-12.20zM405.2 653.36h12.20v1.30h-12.20zM405.2 658.38h12.20v1.30h-12.20zM428.9 647.33h11.85v1.30h-11.85zM428.9 651.35h11.85v1.30h-11.85zM428.9 654.37h11.85v1.30h-11.85zM334.1 664.10h12.20v1.29h-12.20zM334.1 670.07h12.20v1.29h-12.20zM357.8 667.09h12.20v1.29h-12.20zM357.8 679.02h12.20v1.29h-12.20zM357.8 681.01h12.20v1.29h-12.20zM381.5 669.08h12.20v1.29h-12.20zM393.3 666.09h12.20v1.29h-12.20zM393.3 669.08h12.20v1.29h-12.20zM393.3 682.01h12.20v1.29h-12.20zM310.4 688.95h12.20v1.32h-12.20zM310.4 689.97h12.20v1.32h-12.20zM334.1 686.92h12.20v1.32h-12.20zM381.5 694.03h12.20v1.32h-12.20zM417.0 689.97h12.20v1.32h-12.20zM428.9 697.08h11.85v1.32h-11.85zM310.4 708.02h12.20v1.29h-12.20zM322.2 700.10h12.20v1.29h-12.20zM334.1 700.10h12.20v1.29h-12.20zM334.1 703.07h12.20v1.29h-12.20zM334.1 706.04h12.20v1.29h-12.20zM428.9 701.09h11.85v1.29h-11.85z"/><path fill="#96965a" d="M357.8 594.36h12.20v1.29h-12.20zM393.3 593.37h12.20v1.29h-12.20zM405.2 595.35h12.20v1.29h-12.20zM334.1 609.91h12.20v1.32h-12.20zM322.2 620.05h12.20v1.32h-12.20zM345.9 636.47h12.20v1.33h-12.20zM357.8 635.43h12.20v1.33h-12.20zM310.4 649.34h12.20v1.30h-12.20zM310.4 652.36h12.20v1.30h-12.20zM357.8 659.39h12.20v1.30h-12.20zM369.6 640.30h12.20v1.30h-12.20zM369.6 648.34h12.20v1.30h-12.20zM369.6 653.36h12.20v1.30h-12.20zM381.5 645.33h12.20v1.30h-12.20zM393.3 651.35h12.20v1.30h-12.20zM393.3 653.36h12.20v1.30h-12.20zM310.4 677.03h12.20v1.29h-12.20zM310.4 682.01h12.20v1.29h-12.20zM381.5 665.10h12.20v1.29h-12.20zM381.5 670.07h12.20v1.29h-12.20zM310.4 696.07h12.20v1.32h-12.20zM322.2 686.92h12.20v1.32h-12.20zM322.2 688.95h12.20v1.32h-12.20zM322.2 692.00h12.20v1.32h-12.20zM322.2 693.02h12.20v1.32h-12.20zM405.2 688.95h12.20v1.32h-12.20zM334.1 702.08h12.20v1.29h-12.20zM334.1 705.05h12.20v1.29h-12.20zM357.8 705.05h12.20v1.29h-12.20z"/><path fill="#9c9c54" d="M357.8 599.32h12.20v1.29h-12.20zM381.5 598.33h12.20v1.29h-12.20zM393.3 594.36h12.20v1.29h-12.20zM393.3 595.35h12.20v1.29h-12.20zM393.3 596.35h12.20v1.29h-12.20zM393.3 598.33h12.20v1.29h-12.20zM417.0 592.38h12.20v1.29h-12.20zM357.8 621.07h12.20v1.32h-12.20zM369.6 617.00h12.20v1.32h-12.20zM357.8 627.17h12.20v1.33h-12.20zM357.8 628.20h12.20v1.33h-12.20zM393.3 628.20h12.20v1.33h-12.20zM310.4 650.35h12.20v1.30h-12.20zM310.4 658.38h12.20v1.30h-12.20zM322.2 640.30h12.20v1.30h-12.20zM381.5 647.33h12.20v1.30h-12.20zM381.5 649.34h12.20v1.30h-12.20zM381.5 661.40h12.20v1.30h-12.20zM334.1 674.05h12.20v1.29h-12.20zM334.1 683.00h12.20v1.29h-12.20zM345.9 671.07h12.20v1.29h-12.20zM393.3 672.06h12.20v1.29h-12.20zM393.3 679.02h12.20v1.29h-12.20zM405.2 682.01h12.20v1.29h-12.20zM310.4 690.98h12.20v1.32h-12.20zM322.2 685.90h12.20v1.32h-12.20zM322.2 696.07h12.20v1.32h-12.20zM381.5 686.92h12.20v1.32h-12.20zM381.5 697.08h12.20v1.32h-12.20zM417.0 690.98h12.20v1.32h-12.20zM310.4 702.08h12.20v1.29h-12.20zM310.4 704.06h12.20v1.29h-12.20zM310.4 709.01h12.20v1.29h-12.20z"/><path fill="#b0b042" d="M381.5 590.40h12.20v1.29h-12.20zM381.5 599.32h12.20v1.29h-12.20zM369.6 620.05h12.20v1.32h-12.20zM310.4 627.17h12.20v1.33h-12.20zM417.0 681.01h12.20v1.29h-12.20zM310.4 693.02h12.20v1.32h-12.20zM322.2 689.97h12.20v1.32h-12.20z"/><path fill="#a9a948" d="M381.5 593.37h12.20v1.29h-12.20zM381.5 600.31h12.20v1.29h-12.20zM393.3 607.87h12.20v1.32h-12.20zM310.4 634.40h12.20v1.33h-12.20zM357.8 631.30h12.20v1.33h-12.20zM310.4 644.32h12.20v1.30h-12.20zM310.4 645.33h12.20v1.30h-12.20zM310.4 660.39h12.20v1.30h-12.20zM322.2 659.39h12.20v1.30h-12.20zM393.3 657.38h12.20v1.30h-12.20zM310.4 679.02h12.20v1.29h-12.20zM310.4 681.01h12.20v1.29h-12.20zM381.5 672.06h12.20v1.29h-12.20zM310.4 694.03h12.20v1.32h-12.20z"/><path fill="#a3a34e" d="M405.2 597.34h12.20v1.29h-12.20zM357.8 618.02h12.20v1.32h-12.20zM357.8 622.08h12.20v1.32h-12.20zM310.4 632.33h12.20v1.33h-12.20zM310.4 633.37h12.20v1.33h-12.20zM357.8 625.10h12.20v1.33h-12.20zM310.4 639.30h12.20v1.30h-12.20zM310.4 653.36h12.20v1.30h-12.20zM310.4 655.37h12.20v1.30h-12.20zM310.4 659.39h12.20v1.30h-12.20zM322.2 648.34h12.20v1.30h-12.20zM322.2 652.36h12.20v1.30h-12.20zM393.3 641.31h12.20v1.30h-12.20zM405.2 647.33h12.20v1.30h-12.20zM310.4 672.06h12.20v1.29h-12.20zM393.3 665.10h12.20v1.29h-12.20zM428.9 679.02h11.85v1.29h-11.85z"/><path fill="#4242b0" d="M417.0 598.33h12.20v1.29h-12.20zM310.4 605.84h12.20v1.32h-12.20zM310.4 613.98h12.20v1.32h-12.20zM322.2 608.89h12.20v1.32h-12.20zM322.2 618.02h12.20v1.32h-12.20zM381.5 621.07h12.20v1.32h-12.20zM322.2 627.17h12.20v1.33h-12.20zM334.1 636.47h12.20v1.33h-12.20zM345.9 626.13h12.20v1.33h-12.20zM345.9 633.37h12.20v1.33h-12.20zM345.9 634.40h12.20v1.33h-12.20zM405.2 633.37h12.20v1.33h-12.20zM334.1 644.32h12.20v1.30h-12.20zM345.9 641.31h12.20v1.30h-12.20zM345.9 644.32h12.20v1.30h-12.20zM345.9 651.35h12.20v1.30h-12.20zM345.9 654.37h12.20v1.30h-12.20zM345.9 658.38h12.20v1.30h-12.20zM417.0 639.30h12.20v1.30h-12.20zM417.0 653.36h12.20v1.30h-12.20zM417.0 658.38h12.20v1.30h-12.20zM322.2 674.05h12.20v1.29h-12.20zM322.2 682.01h12.20v1.29h-12.20zM345.9 681.01h12.20v1.29h-12.20zM345.9 682.01h12.20v1.29h-12.20zM357.8 692.00h12.20v1.32h-12.20zM369.6 686.92h12.20v1.32h-12.20zM369.6 689.97h12.20v1.32h-12.20zM369.6 692.00h12.20v1.32h-12.20zM393.3 693.02h12.20v1.32h-12.20zM357.8 702.08h12.20v1.29h-12.20zM357.8 704.06h12.20v1.29h-12.20zM357.8 709.01h12.20v1.29h-12.20zM369.6 707.03h12.20v1.29h-12.20zM405.2 702.08h12.20v1.29h-12.20z"/><path fill="#2525d2" d="M322.2 603.80h12.20v1.32h-12.20zM322.2 612.96h12.20v1.32h-12.20z"/><path fill="#3131c4" d="M322.2 607.87h12.20v1.32h-12.20zM322.2 621.07h12.20v1.32h-12.20zM322.2 629.23h12.20v1.33h-12.20zM345.9 650.35h12.20v1.30h-12.20zM345.9 656.37h12.20v1.30h-12.20zM369.6 705.05h12.20v1.29h-12.20zM405.2 707.03h12.20v1.29h-12.20z"/><path fill="#1f1fda" d="M322.2 609.91h12.20v1.32h-12.20zM322.2 611.95h12.20v1.32h-12.20zM334.1 657.38h12.20v1.30h-12.20zM345.9 642.31h12.20v1.30h-12.20z"/><path fill="#cbcb2b" d="M345.9 610.93h12.20v1.32h-12.20zM357.8 632.33h12.20v1.33h-12.20zM310.4 667.09h12.20v1.29h-12.20zM322.2 695.05h12.20v1.32h-12.20z"/><path fill="#c4c431" d="M357.8 630.27h12.20v1.33h-12.20zM357.8 633.37h12.20v1.33h-12.20zM310.4 674.05h12.20v1.29h-12.20zM310.4 703.07h12.20v1.29h-12.20zM345.9 707.03h12.20v1.29h-12.20z"/><path fill="#b7b73d" d="M357.8 634.40h12.20v1.33h-12.20zM310.4 648.34h12.20v1.30h-12.20zM310.4 651.35h12.20v1.30h-12.20zM381.5 641.31h12.20v1.30h-12.20zM310.4 675.04h12.20v1.29h-12.20zM310.4 678.03h12.20v1.29h-12.20z"/><path fill="#bdbd37" d="M357.8 636.47h12.20v1.33h-12.20zM310.4 647.33h12.20v1.30h-12.20zM310.4 654.37h12.20v1.30h-12.20zM322.2 644.32h12.20v1.30h-12.20zM428.9 652.36h11.85v1.30h-11.85zM310.4 673.06h12.20v1.29h-12.20zM310.4 676.04h12.20v1.29h-12.20zM310.4 680.02h12.20v1.29h-12.20zM334.1 697.08h12.20v1.32h-12.20zM310.4 706.04h12.20v1.29h-12.20z"/><path fill="#d2d225" d="M369.6 633.37h12.20v1.33h-12.20zM322.2 690.98h12.20v1.32h-12.20z"/><path fill="#efef0c" d="M310.4 664.10h12.20v1.29h-12.20zM310.4 665.10h12.20v1.29h-12.20zM310.4 669.08h12.20v1.29h-12.20zM310.4 671.07h12.20v1.29h-12.20z"/><path fill="#dada1f" d="M310.4 666.09h12.20v1.29h-12.20zM310.4 668.08h12.20v1.29h-12.20z"/><path fill="#e1e119" d="M310.4 670.07h12.20v1.29h-12.20z"/><path fill="#e8e812" d="M310.4 683.00h12.20v1.29h-12.20z"/>
<text x="329.8" y="558.1" font-size="11.8" fill="#111" textLength="91.80" lengthAdjust="spacingAndGlyphs">CD8 CD69<tspan font-size="7.3" baseline-shift="4.6">+</tspan>_Tm</text>
<rect x="454.20" y="580.2" width="30.52" height="8.70" fill="#fa9e36"/>
<rect x="484.42" y="580.2" width="15.41" height="8.70" fill="#00f6fa"/>
<rect x="499.53" y="580.2" width="30.52" height="8.70" fill="#bebebe"/>
<rect x="529.76" y="580.2" width="30.52" height="8.70" fill="#efe24a"/>
<rect x="559.98" y="580.2" width="30.22" height="8.70" fill="#ee82ee"/>
<path d="M476.87,580.20V570.60H491.98V580.20M461.76,580.20V569.20H484.42V570.60M507.09,580.20V574.70H522.20V580.20M537.31,580.20V571.80H552.42V580.20M514.64,574.70V572.60H544.87V571.80M567.53,580.20V571.80H582.64V580.20M529.76,572.60V570.20H575.09V571.80M473.09,569.20V566.10H552.42V570.20" fill="none" stroke="#7a7a7a" stroke-width="0.75"/>
<rect x="454.20" y="590.90" width="136.00" height="14.10" fill="#606090"/><rect x="454.20" y="607.00" width="136.00" height="5.00" fill="#606090"/><rect x="454.20" y="613.70" width="136.00" height="3.70" fill="#606090"/><rect x="454.20" y="619.40" width="136.00" height="34.30" fill="#606090"/><rect x="454.20" y="655.40" width="136.00" height="9.40" fill="#606090"/><rect x="454.20" y="667.10" width="136.00" height="10.70" fill="#606090"/><rect x="454.20" y="679.50" width="136.00" height="14.90" fill="#606090"/><rect x="454.20" y="696.40" width="136.00" height="13.60" fill="#606090"/><path fill="#54549c" d="M454.2 590.90h15.46v1.31h-15.46zM469.3 592.91h15.46v1.31h-15.46zM469.3 600.97h15.46v1.31h-15.46zM469.3 603.99h15.46v1.31h-15.46zM484.4 596.94h15.46v1.31h-15.46zM499.5 596.94h15.46v1.31h-15.46zM544.9 590.90h15.46v1.31h-15.46zM544.9 595.94h15.46v1.31h-15.46zM469.3 611.00h15.46v1.30h-15.46zM575.1 610.00h15.11v1.30h-15.11zM469.3 615.55h15.46v1.22h-15.46zM544.9 615.55h15.46v1.22h-15.46zM575.1 613.70h15.11v1.22h-15.11zM454.2 641.59h15.46v1.31h-15.46zM469.3 631.51h15.46v1.31h-15.46zM484.4 644.62h15.46v1.31h-15.46zM499.5 625.45h15.46v1.31h-15.46zM499.5 640.59h15.46v1.31h-15.46zM514.6 628.48h15.46v1.31h-15.46zM514.6 647.65h15.46v1.31h-15.46zM514.6 650.67h15.46v1.31h-15.46zM544.9 647.65h15.46v1.31h-15.46zM560.0 623.44h15.46v1.31h-15.46zM560.0 628.48h15.46v1.31h-15.46zM560.0 640.59h15.46v1.31h-15.46zM484.4 661.67h15.46v1.34h-15.46zM499.5 655.40h15.46v1.34h-15.46zM499.5 659.58h15.46v1.34h-15.46zM544.9 656.44h15.46v1.34h-15.46zM560.0 658.53h15.46v1.34h-15.46zM484.4 668.07h15.46v1.27h-15.46zM484.4 669.05h15.46v1.27h-15.46zM499.5 672.94h15.46v1.27h-15.46zM575.1 676.83h15.11v1.27h-15.11zM469.3 691.42h15.46v1.29h-15.46zM484.4 687.45h15.46v1.29h-15.46zM484.4 691.42h15.46v1.29h-15.46zM499.5 682.48h15.46v1.29h-15.46zM499.5 689.43h15.46v1.29h-15.46zM514.6 681.49h15.46v1.29h-15.46zM514.6 682.48h15.46v1.29h-15.46zM514.6 691.42h15.46v1.29h-15.46zM544.9 685.46h15.46v1.29h-15.46zM560.0 690.43h15.46v1.29h-15.46zM560.0 692.41h15.46v1.29h-15.46zM499.5 704.17h15.46v1.27h-15.46zM514.6 697.37h15.46v1.27h-15.46zM514.6 706.11h15.46v1.27h-15.46zM514.6 709.03h15.46v1.27h-15.46zM544.9 704.17h15.46v1.27h-15.46zM560.0 697.37h15.46v1.27h-15.46zM560.0 698.34h15.46v1.27h-15.46zM560.0 707.09h15.46v1.27h-15.46zM560.0 709.03h15.46v1.27h-15.46zM575.1 707.09h15.11v1.27h-15.11zM575.1 708.06h15.11v1.27h-15.11z"/><path fill="#5a5a96" d="M454.2 591.91h15.46v1.31h-15.46zM454.2 596.94h15.46v1.31h-15.46zM454.2 603.99h15.46v1.31h-15.46zM469.3 596.94h15.46v1.31h-15.46zM484.4 598.96h15.46v1.31h-15.46zM499.5 597.95h15.46v1.31h-15.46zM514.6 590.90h15.46v1.31h-15.46zM529.8 593.92h15.46v1.31h-15.46zM544.9 591.91h15.46v1.31h-15.46zM484.4 610.00h15.46v1.30h-15.46zM484.4 611.00h15.46v1.30h-15.46zM499.5 607.00h15.46v1.30h-15.46zM499.5 609.00h15.46v1.30h-15.46zM499.5 610.00h15.46v1.30h-15.46zM499.5 611.00h15.46v1.30h-15.46zM514.6 611.00h15.46v1.30h-15.46zM514.6 614.62h15.46v1.22h-15.46zM560.0 614.62h15.46v1.22h-15.46zM469.3 625.45h15.46v1.31h-15.46zM484.4 624.44h15.46v1.31h-15.46zM499.5 619.40h15.46v1.31h-15.46zM499.5 623.44h15.46v1.31h-15.46zM499.5 627.47h15.46v1.31h-15.46zM499.5 642.60h15.46v1.31h-15.46zM499.5 646.64h15.46v1.31h-15.46zM514.6 620.41h15.46v1.31h-15.46zM514.6 621.42h15.46v1.31h-15.46zM514.6 622.43h15.46v1.31h-15.46zM514.6 625.45h15.46v1.31h-15.46zM514.6 646.64h15.46v1.31h-15.46zM514.6 649.66h15.46v1.31h-15.46zM544.9 644.62h15.46v1.31h-15.46zM560.0 624.44h15.46v1.31h-15.46zM560.0 627.47h15.46v1.31h-15.46zM560.0 639.58h15.46v1.31h-15.46zM575.1 650.67h15.11v1.31h-15.11zM454.2 656.44h15.46v1.34h-15.46zM499.5 660.62h15.46v1.34h-15.46zM544.9 659.58h15.46v1.34h-15.46zM560.0 657.49h15.46v1.34h-15.46zM454.2 669.05h15.46v1.27h-15.46zM454.2 671.96h15.46v1.27h-15.46zM454.2 675.85h15.46v1.27h-15.46zM454.2 676.83h15.46v1.27h-15.46zM484.4 671.96h15.46v1.27h-15.46zM484.4 676.83h15.46v1.27h-15.46zM514.6 670.02h15.46v1.27h-15.46zM544.9 675.85h15.46v1.27h-15.46zM484.4 683.47h15.46v1.29h-15.46zM484.4 688.44h15.46v1.29h-15.46zM484.4 693.41h15.46v1.29h-15.46zM499.5 691.42h15.46v1.29h-15.46zM514.6 687.45h15.46v1.29h-15.46zM529.8 690.43h15.46v1.29h-15.46zM544.9 679.50h15.46v1.29h-15.46zM560.0 681.49h15.46v1.29h-15.46zM484.4 700.29h15.46v1.27h-15.46zM499.5 702.23h15.46v1.27h-15.46zM499.5 705.14h15.46v1.27h-15.46zM499.5 706.11h15.46v1.27h-15.46zM514.6 698.34h15.46v1.27h-15.46zM529.8 696.40h15.46v1.27h-15.46zM529.8 706.11h15.46v1.27h-15.46zM544.9 696.40h15.46v1.27h-15.46zM560.0 702.23h15.46v1.27h-15.46zM560.0 708.06h15.46v1.27h-15.46zM575.1 699.31h15.11v1.27h-15.11z"/><path fill="#71717d" d="M454.2 592.91h15.46v1.31h-15.46zM484.4 590.90h15.46v1.31h-15.46zM499.5 591.91h15.46v1.31h-15.46zM499.5 603.99h15.46v1.31h-15.46zM514.6 594.93h15.46v1.31h-15.46zM514.6 597.95h15.46v1.31h-15.46zM514.6 603.99h15.46v1.31h-15.46zM529.8 598.96h15.46v1.31h-15.46zM529.8 602.99h15.46v1.31h-15.46zM575.1 601.98h15.11v1.31h-15.11zM575.1 603.99h15.11v1.31h-15.11zM484.4 609.00h15.46v1.30h-15.46zM514.6 608.00h15.46v1.30h-15.46zM529.8 611.00h15.46v1.30h-15.46zM454.2 613.70h15.46v1.22h-15.46zM514.6 616.48h15.46v1.22h-15.46zM544.9 616.48h15.46v1.22h-15.46zM560.0 613.70h15.46v1.22h-15.46zM469.3 623.44h15.46v1.31h-15.46zM469.3 629.49h15.46v1.31h-15.46zM469.3 633.52h15.46v1.31h-15.46zM469.3 636.55h15.46v1.31h-15.46zM469.3 638.57h15.46v1.31h-15.46zM484.4 651.68h15.46v1.31h-15.46zM484.4 652.69h15.46v1.31h-15.46zM499.5 639.58h15.46v1.31h-15.46zM499.5 641.59h15.46v1.31h-15.46zM499.5 647.65h15.46v1.31h-15.46zM514.6 651.68h15.46v1.31h-15.46zM544.9 645.63h15.46v1.31h-15.46zM544.9 649.66h15.46v1.31h-15.46zM544.9 651.68h15.46v1.31h-15.46zM560.0 622.43h15.46v1.31h-15.46zM560.0 625.45h15.46v1.31h-15.46zM560.0 644.62h15.46v1.31h-15.46zM575.1 626.46h15.11v1.31h-15.11zM575.1 642.60h15.11v1.31h-15.11zM575.1 645.63h15.11v1.31h-15.11zM575.1 652.69h15.11v1.31h-15.11zM469.3 656.44h15.46v1.34h-15.46zM469.3 660.62h15.46v1.34h-15.46zM514.6 659.58h15.46v1.34h-15.46zM529.8 660.62h15.46v1.34h-15.46zM529.8 662.71h15.46v1.34h-15.46zM544.9 657.49h15.46v1.34h-15.46zM454.2 674.88h15.46v1.27h-15.46zM469.3 670.99h15.46v1.27h-15.46zM484.4 674.88h15.46v1.27h-15.46zM499.5 670.02h15.46v1.27h-15.46zM499.5 674.88h15.46v1.27h-15.46zM499.5 676.83h15.46v1.27h-15.46zM514.6 672.94h15.46v1.27h-15.46zM544.9 669.05h15.46v1.27h-15.46zM560.0 668.07h15.46v1.27h-15.46zM575.1 671.96h15.11v1.27h-15.11zM469.3 689.43h15.46v1.29h-15.46zM514.6 679.50h15.46v1.29h-15.46zM514.6 686.45h15.46v1.29h-15.46zM514.6 693.41h15.46v1.29h-15.46zM529.8 680.49h15.46v1.29h-15.46zM529.8 684.47h15.46v1.29h-15.46zM454.2 704.17h15.46v1.27h-15.46zM454.2 709.03h15.46v1.27h-15.46zM484.4 704.17h15.46v1.27h-15.46zM499.5 696.40h15.46v1.27h-15.46zM499.5 699.31h15.46v1.27h-15.46zM514.6 703.20h15.46v1.27h-15.46zM529.8 707.09h15.46v1.27h-15.46zM560.0 696.40h15.46v1.27h-15.46z"/><path fill="#4e4ea3" d="M454.2 593.92h15.46v1.31h-15.46zM454.2 597.95h15.46v1.31h-15.46zM484.4 592.91h15.46v1.31h-15.46zM484.4 603.99h15.46v1.31h-15.46zM544.9 594.93h15.46v1.31h-15.46zM544.9 601.98h15.46v1.31h-15.46zM469.3 607.00h15.46v1.30h-15.46zM514.6 609.00h15.46v1.30h-15.46zM560.0 616.48h15.46v1.22h-15.46zM454.2 621.42h15.46v1.31h-15.46zM454.2 649.66h15.46v1.31h-15.46zM484.4 622.43h15.46v1.31h-15.46zM499.5 636.55h15.46v1.31h-15.46zM499.5 638.57h15.46v1.31h-15.46zM514.6 636.55h15.46v1.31h-15.46zM514.6 648.66h15.46v1.31h-15.46zM560.0 647.65h15.46v1.31h-15.46zM560.0 648.66h15.46v1.31h-15.46zM560.0 649.66h15.46v1.31h-15.46zM544.9 655.40h15.46v1.34h-15.46zM454.2 672.94h15.46v1.27h-15.46zM454.2 673.91h15.46v1.27h-15.46zM499.5 670.99h15.46v1.27h-15.46zM499.5 673.91h15.46v1.27h-15.46zM484.4 685.46h15.46v1.29h-15.46zM499.5 680.49h15.46v1.29h-15.46zM499.5 692.41h15.46v1.29h-15.46zM544.9 682.48h15.46v1.29h-15.46zM544.9 689.43h15.46v1.29h-15.46zM484.4 698.34h15.46v1.27h-15.46zM499.5 697.37h15.46v1.27h-15.46zM499.5 700.29h15.46v1.27h-15.46zM514.6 705.14h15.46v1.27h-15.46zM529.8 709.03h15.46v1.27h-15.46zM575.1 697.37h15.11v1.27h-15.11zM575.1 701.26h15.11v1.27h-15.11zM575.1 702.23h15.11v1.27h-15.11zM575.1 704.17h15.11v1.27h-15.11z"/><path fill="#3737bd" d="M454.2 594.93h15.46v1.31h-15.46zM484.4 593.92h15.46v1.31h-15.46zM454.2 611.00h15.46v1.30h-15.46zM454.2 630.50h15.46v1.31h-15.46zM454.2 631.51h15.46v1.31h-15.46zM454.2 633.52h15.46v1.31h-15.46zM454.2 635.54h15.46v1.31h-15.46zM454.2 640.59h15.46v1.31h-15.46zM484.4 657.49h15.46v1.34h-15.46zM484.4 663.76h15.46v1.34h-15.46zM560.0 655.40h15.46v1.34h-15.46zM499.5 687.45h15.46v1.29h-15.46zM560.0 679.50h15.46v1.29h-15.46zM575.1 700.29h15.11v1.27h-15.11z"/><path fill="#3d3db7" d="M454.2 595.94h15.46v1.31h-15.46zM484.4 597.95h15.46v1.31h-15.46zM544.9 602.99h15.46v1.31h-15.46zM454.2 607.00h15.46v1.30h-15.46zM575.1 607.00h15.11v1.30h-15.11zM469.3 613.70h15.46v1.22h-15.46zM454.2 620.41h15.46v1.31h-15.46zM454.2 629.49h15.46v1.31h-15.46zM454.2 636.55h15.46v1.31h-15.46zM499.5 624.44h15.46v1.31h-15.46zM499.5 644.62h15.46v1.31h-15.46zM560.0 633.52h15.46v1.31h-15.46zM454.2 661.67h15.46v1.34h-15.46zM544.9 658.53h15.46v1.34h-15.46zM484.4 670.99h15.46v1.27h-15.46zM560.0 670.02h15.46v1.27h-15.46zM560.0 673.91h15.46v1.27h-15.46zM560.0 674.88h15.46v1.27h-15.46zM560.0 676.83h15.46v1.27h-15.46zM469.3 682.48h15.46v1.29h-15.46zM484.4 681.49h15.46v1.29h-15.46zM484.4 682.48h15.46v1.29h-15.46zM499.5 684.47h15.46v1.29h-15.46zM499.5 709.03h15.46v1.27h-15.46zM575.1 696.40h15.11v1.27h-15.11zM575.1 698.34h15.11v1.27h-15.11zM575.1 703.20h15.11v1.27h-15.11z"/><path fill="#606090" d="M454.2 598.96h15.46v1.31h-15.46zM454.2 601.98h15.46v1.31h-15.46zM469.3 591.91h15.46v1.31h-15.46zM469.3 594.93h15.46v1.31h-15.46zM484.4 600.97h15.46v1.31h-15.46zM499.5 595.94h15.46v1.31h-15.46zM499.5 598.96h15.46v1.31h-15.46zM499.5 600.97h15.46v1.31h-15.46zM514.6 599.96h15.46v1.31h-15.46zM529.8 600.97h15.46v1.31h-15.46zM544.9 592.91h15.46v1.31h-15.46zM454.2 608.00h15.46v1.30h-15.46zM469.3 608.00h15.46v1.30h-15.46zM469.3 609.00h15.46v1.30h-15.46zM529.8 607.00h15.46v1.30h-15.46zM575.1 609.00h15.11v1.30h-15.11zM575.1 611.00h15.11v1.30h-15.11zM469.3 614.62h15.46v1.22h-15.46zM544.9 614.62h15.46v1.22h-15.46zM454.2 623.44h15.46v1.31h-15.46zM454.2 626.46h15.46v1.31h-15.46zM454.2 644.62h15.46v1.31h-15.46zM469.3 628.48h15.46v1.31h-15.46zM469.3 632.51h15.46v1.31h-15.46zM484.4 620.41h15.46v1.31h-15.46zM484.4 650.67h15.46v1.31h-15.46zM499.5 626.46h15.46v1.31h-15.46zM499.5 628.48h15.46v1.31h-15.46zM499.5 635.54h15.46v1.31h-15.46zM499.5 637.56h15.46v1.31h-15.46zM514.6 627.47h15.46v1.31h-15.46zM514.6 631.51h15.46v1.31h-15.46zM514.6 632.51h15.46v1.31h-15.46zM514.6 633.52h15.46v1.31h-15.46zM514.6 637.56h15.46v1.31h-15.46zM514.6 639.58h15.46v1.31h-15.46zM514.6 644.62h15.46v1.31h-15.46zM544.9 621.42h15.46v1.31h-15.46zM544.9 652.69h15.46v1.31h-15.46zM560.0 619.40h15.46v1.31h-15.46zM560.0 629.49h15.46v1.31h-15.46zM560.0 634.53h15.46v1.31h-15.46zM560.0 638.57h15.46v1.31h-15.46zM560.0 642.60h15.46v1.31h-15.46zM560.0 645.63h15.46v1.31h-15.46zM560.0 652.69h15.46v1.31h-15.46zM575.1 622.43h15.11v1.31h-15.11zM454.2 660.62h15.46v1.34h-15.46zM469.3 663.76h15.46v1.34h-15.46zM484.4 658.53h15.46v1.34h-15.46zM544.9 662.71h15.46v1.34h-15.46zM560.0 659.58h15.46v1.34h-15.46zM560.0 663.76h15.46v1.34h-15.46zM454.2 670.02h15.46v1.27h-15.46zM469.3 668.07h15.46v1.27h-15.46zM484.4 675.85h15.46v1.27h-15.46zM499.5 668.07h15.46v1.27h-15.46zM499.5 671.96h15.46v1.27h-15.46zM514.6 674.88h15.46v1.27h-15.46zM575.1 670.02h15.11v1.27h-15.11zM484.4 689.43h15.46v1.29h-15.46zM484.4 690.43h15.46v1.29h-15.46zM499.5 681.49h15.46v1.29h-15.46zM499.5 686.45h15.46v1.29h-15.46zM499.5 690.43h15.46v1.29h-15.46zM514.6 684.47h15.46v1.29h-15.46zM514.6 685.46h15.46v1.29h-15.46zM514.6 690.43h15.46v1.29h-15.46zM544.9 683.47h15.46v1.29h-15.46zM544.9 687.45h15.46v1.29h-15.46zM544.9 693.41h15.46v1.29h-15.46zM575.1 684.47h15.11v1.29h-15.11zM499.5 708.06h15.46v1.27h-15.46zM514.6 700.29h15.46v1.27h-15.46zM514.6 704.17h15.46v1.27h-15.46zM529.8 699.31h15.46v1.27h-15.46zM529.8 700.29h15.46v1.27h-15.46zM544.9 701.26h15.46v1.27h-15.46zM544.9 705.14h15.46v1.27h-15.46zM544.9 707.09h15.46v1.27h-15.46zM560.0 704.17h15.46v1.27h-15.46z"/><path fill="#4242b0" d="M454.2 599.96h15.46v1.31h-15.46zM469.3 593.92h15.46v1.31h-15.46zM484.4 591.91h15.46v1.31h-15.46zM484.4 599.96h15.46v1.31h-15.46zM499.5 593.92h15.46v1.31h-15.46zM454.2 609.00h15.46v1.30h-15.46zM469.3 610.00h15.46v1.30h-15.46zM469.3 616.48h15.46v1.22h-15.46zM454.2 627.47h15.46v1.31h-15.46zM454.2 639.58h15.46v1.31h-15.46zM454.2 642.60h15.46v1.31h-15.46zM499.5 651.68h15.46v1.31h-15.46zM499.5 652.69h15.46v1.31h-15.46zM560.0 643.61h15.46v1.31h-15.46zM560.0 646.64h15.46v1.31h-15.46zM454.2 662.71h15.46v1.34h-15.46zM484.4 662.71h15.46v1.34h-15.46zM544.9 660.62h15.46v1.34h-15.46zM499.5 669.05h15.46v1.27h-15.46zM514.6 671.96h15.46v1.27h-15.46zM560.0 667.10h15.46v1.27h-15.46zM484.4 684.47h15.46v1.29h-15.46zM499.5 698.34h15.46v1.27h-15.46z"/><path fill="#4848a9" d="M454.2 600.97h15.46v1.31h-15.46zM469.3 598.96h15.46v1.31h-15.46zM484.4 595.94h15.46v1.31h-15.46zM544.9 596.94h15.46v1.31h-15.46zM544.9 600.97h15.46v1.31h-15.46zM544.9 603.99h15.46v1.31h-15.46zM454.2 610.00h15.46v1.30h-15.46zM575.1 614.62h15.11v1.22h-15.11zM454.2 624.44h15.46v1.31h-15.46zM454.2 625.45h15.46v1.31h-15.46zM454.2 652.69h15.46v1.31h-15.46zM499.5 633.52h15.46v1.31h-15.46zM499.5 645.63h15.46v1.31h-15.46zM514.6 641.59h15.46v1.31h-15.46zM560.0 621.42h15.46v1.31h-15.46zM560.0 631.51h15.46v1.31h-15.46zM560.0 635.54h15.46v1.31h-15.46zM560.0 636.55h15.46v1.31h-15.46zM454.2 655.40h15.46v1.34h-15.46zM544.9 661.67h15.46v1.34h-15.46zM454.2 670.99h15.46v1.27h-15.46zM484.4 667.10h15.46v1.27h-15.46zM484.4 673.91h15.46v1.27h-15.46zM514.6 668.07h15.46v1.27h-15.46zM560.0 670.99h15.46v1.27h-15.46zM560.0 671.96h15.46v1.27h-15.46zM560.0 672.94h15.46v1.27h-15.46zM484.4 679.50h15.46v1.29h-15.46zM484.4 692.41h15.46v1.29h-15.46zM499.5 683.47h15.46v1.29h-15.46zM499.5 688.44h15.46v1.29h-15.46zM514.6 680.49h15.46v1.29h-15.46zM544.9 686.45h15.46v1.29h-15.46zM499.5 707.09h15.46v1.27h-15.46zM560.0 699.31h15.46v1.27h-15.46z"/><path fill="#2525d2" d="M454.2 602.99h15.46v1.31h-15.46zM454.2 638.57h15.46v1.31h-15.46zM560.0 669.05h15.46v1.27h-15.46zM514.6 692.41h15.46v1.29h-15.46z"/><path fill="#6b6b83" d="M469.3 590.90h15.46v1.31h-15.46zM469.3 602.99h15.46v1.31h-15.46zM499.5 590.90h15.46v1.31h-15.46zM499.5 592.91h15.46v1.31h-15.46zM499.5 599.96h15.46v1.31h-15.46zM514.6 592.91h15.46v1.31h-15.46zM514.6 593.92h15.46v1.31h-15.46zM514.6 598.96h15.46v1.31h-15.46zM529.8 590.90h15.46v1.31h-15.46zM529.8 596.94h15.46v1.31h-15.46zM529.8 597.95h15.46v1.31h-15.46zM529.8 603.99h15.46v1.31h-15.46zM499.5 608.00h15.46v1.30h-15.46zM454.2 615.55h15.46v1.22h-15.46zM454.2 616.48h15.46v1.22h-15.46zM499.5 614.62h15.46v1.22h-15.46zM469.3 619.40h15.46v1.31h-15.46zM469.3 624.44h15.46v1.31h-15.46zM469.3 635.54h15.46v1.31h-15.46zM484.4 621.42h15.46v1.31h-15.46zM484.4 640.59h15.46v1.31h-15.46zM484.4 643.61h15.46v1.31h-15.46zM484.4 645.63h15.46v1.31h-15.46zM484.4 647.65h15.46v1.31h-15.46zM499.5 650.67h15.46v1.31h-15.46zM514.6 619.40h15.46v1.31h-15.46zM514.6 629.49h15.46v1.31h-15.46zM514.6 638.57h15.46v1.31h-15.46zM514.6 640.59h15.46v1.31h-15.46zM529.8 619.40h15.46v1.31h-15.46zM529.8 631.51h15.46v1.31h-15.46zM529.8 645.63h15.46v1.31h-15.46zM544.9 623.44h15.46v1.31h-15.46zM544.9 638.57h15.46v1.31h-15.46zM560.0 637.56h15.46v1.31h-15.46zM575.1 620.41h15.11v1.31h-15.11zM575.1 624.44h15.11v1.31h-15.11zM575.1 647.65h15.11v1.31h-15.11zM575.1 649.66h15.11v1.31h-15.11zM469.3 661.67h15.46v1.34h-15.46zM499.5 663.76h15.46v1.34h-15.46zM529.8 663.76h15.46v1.34h-15.46zM544.9 663.76h15.46v1.34h-15.46zM469.3 671.96h15.46v1.27h-15.46zM469.3 672.94h15.46v1.27h-15.46zM499.5 667.10h15.46v1.27h-15.46zM514.6 673.91h15.46v1.27h-15.46zM514.6 676.83h15.46v1.27h-15.46zM529.8 676.83h15.46v1.27h-15.46zM544.9 667.10h15.46v1.27h-15.46zM544.9 671.96h15.46v1.27h-15.46zM544.9 676.83h15.46v1.27h-15.46zM575.1 669.05h15.11v1.27h-15.11zM575.1 674.88h15.11v1.27h-15.11zM469.3 683.47h15.46v1.29h-15.46zM469.3 688.44h15.46v1.29h-15.46zM469.3 692.41h15.46v1.29h-15.46zM499.5 679.50h15.46v1.29h-15.46zM529.8 692.41h15.46v1.29h-15.46zM544.9 684.47h15.46v1.29h-15.46zM560.0 680.49h15.46v1.29h-15.46zM560.0 682.48h15.46v1.29h-15.46zM560.0 688.44h15.46v1.29h-15.46zM575.1 679.50h15.11v1.29h-15.11zM575.1 689.43h15.11v1.29h-15.11zM484.4 703.20h15.46v1.27h-15.46zM514.6 696.40h15.46v1.27h-15.46zM514.6 702.23h15.46v1.27h-15.46zM514.6 707.09h15.46v1.27h-15.46zM529.8 708.06h15.46v1.27h-15.46zM544.9 700.29h15.46v1.27h-15.46zM560.0 703.20h15.46v1.27h-15.46zM560.0 706.11h15.46v1.27h-15.46zM575.1 706.11h15.11v1.27h-15.11z"/><path fill="#777777" d="M469.3 595.94h15.46v1.31h-15.46zM469.3 601.98h15.46v1.31h-15.46zM499.5 601.98h15.46v1.31h-15.46zM514.6 602.99h15.46v1.31h-15.46zM529.8 592.91h15.46v1.31h-15.46zM529.8 595.94h15.46v1.31h-15.46zM560.0 593.92h15.46v1.31h-15.46zM484.4 608.00h15.46v1.30h-15.46zM454.2 614.62h15.46v1.22h-15.46zM514.6 615.55h15.46v1.22h-15.46zM469.3 626.46h15.46v1.31h-15.46zM469.3 634.53h15.46v1.31h-15.46zM469.3 637.56h15.46v1.31h-15.46zM484.4 646.64h15.46v1.31h-15.46zM499.5 632.51h15.46v1.31h-15.46zM514.6 626.46h15.46v1.31h-15.46zM514.6 630.50h15.46v1.31h-15.46zM514.6 645.63h15.46v1.31h-15.46zM529.8 623.44h15.46v1.31h-15.46zM529.8 637.56h15.46v1.31h-15.46zM529.8 643.61h15.46v1.31h-15.46zM529.8 652.69h15.46v1.31h-15.46zM544.9 634.53h15.46v1.31h-15.46zM544.9 637.56h15.46v1.31h-15.46zM544.9 646.64h15.46v1.31h-15.46zM544.9 650.67h15.46v1.31h-15.46zM575.1 619.40h15.11v1.31h-15.11zM575.1 627.47h15.11v1.31h-15.11zM575.1 628.48h15.11v1.31h-15.11zM575.1 633.52h15.11v1.31h-15.11zM575.1 637.56h15.11v1.31h-15.11zM575.1 639.58h15.11v1.31h-15.11zM575.1 641.59h15.11v1.31h-15.11zM575.1 651.68h15.11v1.31h-15.11zM469.3 659.58h15.46v1.34h-15.46zM499.5 656.44h15.46v1.34h-15.46zM514.6 662.71h15.46v1.34h-15.46zM514.6 663.76h15.46v1.34h-15.46zM469.3 674.88h15.46v1.27h-15.46zM514.6 669.05h15.46v1.27h-15.46zM544.9 673.91h15.46v1.27h-15.46zM469.3 680.49h15.46v1.29h-15.46zM469.3 685.46h15.46v1.29h-15.46zM514.6 689.43h15.46v1.29h-15.46zM529.8 682.48h15.46v1.29h-15.46zM529.8 686.45h15.46v1.29h-15.46zM529.8 693.41h15.46v1.29h-15.46zM544.9 688.44h15.46v1.29h-15.46zM544.9 691.42h15.46v1.29h-15.46zM560.0 689.43h15.46v1.29h-15.46zM560.0 693.41h15.46v1.29h-15.46zM575.1 686.45h15.11v1.29h-15.11zM575.1 692.41h15.11v1.29h-15.11zM454.2 707.09h15.46v1.27h-15.46zM484.4 699.31h15.46v1.27h-15.46zM484.4 706.11h15.46v1.27h-15.46zM544.9 698.34h15.46v1.27h-15.46zM544.9 708.06h15.46v1.27h-15.46z"/><path fill="#66668a" d="M469.3 597.95h15.46v1.31h-15.46zM499.5 602.99h15.46v1.31h-15.46zM514.6 601.98h15.46v1.31h-15.46zM529.8 601.98h15.46v1.31h-15.46zM544.9 593.92h15.46v1.31h-15.46zM514.6 610.00h15.46v1.30h-15.46zM499.5 613.70h15.46v1.22h-15.46zM499.5 615.55h15.46v1.22h-15.46zM529.8 613.70h15.46v1.22h-15.46zM560.0 615.55h15.46v1.22h-15.46zM454.2 632.51h15.46v1.31h-15.46zM454.2 637.56h15.46v1.31h-15.46zM454.2 650.67h15.46v1.31h-15.46zM469.3 622.43h15.46v1.31h-15.46zM469.3 627.47h15.46v1.31h-15.46zM484.4 649.66h15.46v1.31h-15.46zM499.5 629.49h15.46v1.31h-15.46zM499.5 630.50h15.46v1.31h-15.46zM499.5 634.53h15.46v1.31h-15.46zM499.5 649.66h15.46v1.31h-15.46zM514.6 623.44h15.46v1.31h-15.46zM514.6 642.60h15.46v1.31h-15.46zM514.6 643.61h15.46v1.31h-15.46zM514.6 652.69h15.46v1.31h-15.46zM529.8 625.45h15.46v1.31h-15.46zM529.8 626.46h15.46v1.31h-15.46zM544.9 622.43h15.46v1.31h-15.46zM544.9 643.61h15.46v1.31h-15.46zM544.9 648.66h15.46v1.31h-15.46zM560.0 630.50h15.46v1.31h-15.46zM575.1 630.50h15.11v1.31h-15.11zM575.1 631.51h15.11v1.31h-15.11zM575.1 640.59h15.11v1.31h-15.11zM575.1 643.61h15.11v1.31h-15.11zM454.2 663.76h15.46v1.34h-15.46zM499.5 657.49h15.46v1.34h-15.46zM499.5 658.53h15.46v1.34h-15.46zM499.5 662.71h15.46v1.34h-15.46zM514.6 656.44h15.46v1.34h-15.46zM514.6 658.53h15.46v1.34h-15.46zM529.8 656.44h15.46v1.34h-15.46zM529.8 659.58h15.46v1.34h-15.46zM560.0 660.62h15.46v1.34h-15.46zM454.2 668.07h15.46v1.27h-15.46zM469.3 676.83h15.46v1.27h-15.46zM499.5 675.85h15.46v1.27h-15.46zM560.0 675.85h15.46v1.27h-15.46zM575.1 668.07h15.11v1.27h-15.11zM469.3 686.45h15.46v1.29h-15.46zM499.5 685.46h15.46v1.29h-15.46zM499.5 693.41h15.46v1.29h-15.46zM514.6 683.47h15.46v1.29h-15.46zM529.8 681.49h15.46v1.29h-15.46zM529.8 685.46h15.46v1.29h-15.46zM529.8 689.43h15.46v1.29h-15.46zM544.9 680.49h15.46v1.29h-15.46zM544.9 681.49h15.46v1.29h-15.46zM544.9 690.43h15.46v1.29h-15.46zM560.0 686.45h15.46v1.29h-15.46zM575.1 680.49h15.11v1.29h-15.11zM484.4 707.09h15.46v1.27h-15.46zM484.4 709.03h15.46v1.27h-15.46zM499.5 701.26h15.46v1.27h-15.46zM514.6 699.31h15.46v1.27h-15.46zM514.6 701.26h15.46v1.27h-15.46zM529.8 702.23h15.46v1.27h-15.46zM529.8 705.14h15.46v1.27h-15.46zM544.9 702.23h15.46v1.27h-15.46zM544.9 706.11h15.46v1.27h-15.46z"/><path fill="#83836b" d="M469.3 599.96h15.46v1.31h-15.46zM484.4 602.99h15.46v1.31h-15.46zM499.5 594.93h15.46v1.31h-15.46zM514.6 596.94h15.46v1.31h-15.46zM544.9 599.96h15.46v1.31h-15.46zM560.0 603.99h15.46v1.31h-15.46zM575.1 592.91h15.11v1.31h-15.11zM575.1 599.96h15.11v1.31h-15.11zM544.9 607.00h15.46v1.30h-15.46zM529.8 614.62h15.46v1.22h-15.46zM529.8 616.48h15.46v1.22h-15.46zM575.1 615.55h15.11v1.22h-15.11zM575.1 616.48h15.11v1.22h-15.11zM484.4 619.40h15.46v1.31h-15.46zM484.4 623.44h15.46v1.31h-15.46zM499.5 620.41h15.46v1.31h-15.46zM499.5 631.51h15.46v1.31h-15.46zM499.5 643.61h15.46v1.31h-15.46zM499.5 648.66h15.46v1.31h-15.46zM514.6 635.54h15.46v1.31h-15.46zM529.8 636.55h15.46v1.31h-15.46zM529.8 638.57h15.46v1.31h-15.46zM529.8 641.59h15.46v1.31h-15.46zM529.8 648.66h15.46v1.31h-15.46zM544.9 619.40h15.46v1.31h-15.46zM544.9 624.44h15.46v1.31h-15.46zM544.9 636.55h15.46v1.31h-15.46zM544.9 641.59h15.46v1.31h-15.46zM575.1 629.49h15.11v1.31h-15.11zM575.1 632.51h15.11v1.31h-15.11zM575.1 638.57h15.11v1.31h-15.11zM469.3 657.49h15.46v1.34h-15.46zM469.3 658.53h15.46v1.34h-15.46zM469.3 662.71h15.46v1.34h-15.46zM514.6 655.40h15.46v1.34h-15.46zM529.8 655.40h15.46v1.34h-15.46zM529.8 657.49h15.46v1.34h-15.46zM529.8 661.67h15.46v1.34h-15.46zM575.1 658.53h15.11v1.34h-15.11zM575.1 659.58h15.11v1.34h-15.11zM484.4 670.02h15.46v1.27h-15.46zM529.8 670.02h15.46v1.27h-15.46zM469.3 681.49h15.46v1.29h-15.46zM514.6 688.44h15.46v1.29h-15.46zM529.8 679.50h15.46v1.29h-15.46zM529.8 683.47h15.46v1.29h-15.46zM560.0 685.46h15.46v1.29h-15.46zM560.0 691.42h15.46v1.29h-15.46zM575.1 687.45h15.11v1.29h-15.11zM575.1 688.44h15.11v1.29h-15.11zM454.2 696.40h15.46v1.27h-15.46zM454.2 700.29h15.46v1.27h-15.46zM454.2 701.26h15.46v1.27h-15.46zM454.2 705.14h15.46v1.27h-15.46zM484.4 697.37h15.46v1.27h-15.46zM529.8 701.26h15.46v1.27h-15.46zM529.8 704.17h15.46v1.27h-15.46z"/><path fill="#7d7d71" d="M484.4 594.93h15.46v1.31h-15.46zM514.6 591.91h15.46v1.31h-15.46zM514.6 595.94h15.46v1.31h-15.46zM514.6 600.97h15.46v1.31h-15.46zM544.9 598.96h15.46v1.31h-15.46zM575.1 593.92h15.11v1.31h-15.11zM529.8 610.00h15.46v1.30h-15.46zM544.9 613.70h15.46v1.22h-15.46zM469.3 621.42h15.46v1.31h-15.46zM484.4 625.45h15.46v1.31h-15.46zM499.5 621.42h15.46v1.31h-15.46zM514.6 624.44h15.46v1.31h-15.46zM529.8 622.43h15.46v1.31h-15.46zM529.8 627.47h15.46v1.31h-15.46zM529.8 628.48h15.46v1.31h-15.46zM529.8 632.51h15.46v1.31h-15.46zM544.9 625.45h15.46v1.31h-15.46zM560.0 626.46h15.46v1.31h-15.46zM560.0 632.51h15.46v1.31h-15.46zM560.0 651.68h15.46v1.31h-15.46zM575.1 648.66h15.11v1.31h-15.11zM469.3 655.40h15.46v1.34h-15.46zM514.6 660.62h15.46v1.34h-15.46zM469.3 667.10h15.46v1.27h-15.46zM469.3 669.05h15.46v1.27h-15.46zM514.6 670.99h15.46v1.27h-15.46zM544.9 672.94h15.46v1.27h-15.46zM544.9 674.88h15.46v1.27h-15.46zM575.1 675.85h15.11v1.27h-15.11zM560.0 684.47h15.46v1.29h-15.46zM560.0 687.45h15.46v1.29h-15.46zM454.2 698.34h15.46v1.27h-15.46zM469.3 701.26h15.46v1.27h-15.46zM484.4 708.06h15.46v1.27h-15.46zM529.8 698.34h15.46v1.27h-15.46zM544.9 697.37h15.46v1.27h-15.46zM544.9 703.20h15.46v1.27h-15.46zM560.0 700.29h15.46v1.27h-15.46zM560.0 705.14h15.46v1.27h-15.46z"/><path fill="#8a8a66" d="M484.4 601.98h15.46v1.31h-15.46zM575.1 591.91h15.11v1.31h-15.11zM575.1 600.97h15.11v1.31h-15.11zM544.9 608.00h15.46v1.30h-15.46zM499.5 616.48h15.46v1.22h-15.46zM484.4 626.46h15.46v1.31h-15.46zM484.4 627.47h15.46v1.31h-15.46zM484.4 641.59h15.46v1.31h-15.46zM484.4 642.60h15.46v1.31h-15.46zM484.4 648.66h15.46v1.31h-15.46zM514.6 634.53h15.46v1.31h-15.46zM529.8 621.42h15.46v1.31h-15.46zM529.8 633.52h15.46v1.31h-15.46zM529.8 635.54h15.46v1.31h-15.46zM529.8 646.64h15.46v1.31h-15.46zM529.8 649.66h15.46v1.31h-15.46zM529.8 651.68h15.46v1.31h-15.46zM575.1 625.45h15.11v1.31h-15.11zM575.1 644.62h15.11v1.31h-15.11zM529.8 658.53h15.46v1.34h-15.46zM469.3 670.02h15.46v1.27h-15.46zM469.3 675.85h15.46v1.27h-15.46zM514.6 675.85h15.46v1.27h-15.46zM529.8 668.07h15.46v1.27h-15.46zM575.1 670.99h15.11v1.27h-15.11zM454.2 680.49h15.46v1.29h-15.46zM469.3 684.47h15.46v1.29h-15.46zM529.8 691.42h15.46v1.29h-15.46zM575.1 685.46h15.11v1.29h-15.11zM575.1 693.41h15.11v1.29h-15.11zM469.3 705.14h15.46v1.27h-15.46zM484.4 702.23h15.46v1.27h-15.46zM544.9 709.03h15.46v1.27h-15.46zM560.0 701.26h15.46v1.27h-15.46zM575.1 709.03h15.11v1.27h-15.11z"/><path fill="#909060" d="M529.8 591.91h15.46v1.31h-15.46zM529.8 599.96h15.46v1.31h-15.46zM544.9 597.95h15.46v1.31h-15.46zM575.1 594.93h15.11v1.31h-15.11zM575.1 602.99h15.11v1.31h-15.11zM484.4 607.00h15.46v1.30h-15.46zM514.6 607.00h15.46v1.30h-15.46zM529.8 609.00h15.46v1.30h-15.46zM544.9 609.00h15.46v1.30h-15.46zM544.9 611.00h15.46v1.30h-15.46zM514.6 613.70h15.46v1.22h-15.46zM529.8 615.55h15.46v1.22h-15.46zM484.4 629.49h15.46v1.31h-15.46zM529.8 647.65h15.46v1.31h-15.46zM529.8 650.67h15.46v1.31h-15.46zM544.9 635.54h15.46v1.31h-15.46zM544.9 639.58h15.46v1.31h-15.46zM544.9 642.60h15.46v1.31h-15.46zM560.0 620.41h15.46v1.31h-15.46zM575.1 623.44h15.11v1.31h-15.11zM575.1 635.54h15.11v1.31h-15.11zM575.1 636.55h15.11v1.31h-15.11zM514.6 657.49h15.46v1.34h-15.46zM575.1 661.67h15.11v1.34h-15.11zM454.2 667.10h15.46v1.27h-15.46zM575.1 673.91h15.11v1.27h-15.11zM454.2 682.48h15.46v1.29h-15.46zM469.3 690.43h15.46v1.29h-15.46zM529.8 687.45h15.46v1.29h-15.46zM529.8 688.44h15.46v1.29h-15.46zM544.9 692.41h15.46v1.29h-15.46zM575.1 683.47h15.11v1.29h-15.11zM454.2 697.37h15.46v1.27h-15.46zM454.2 706.11h15.46v1.27h-15.46zM469.3 698.34h15.46v1.27h-15.46zM484.4 696.40h15.46v1.27h-15.46zM529.8 697.37h15.46v1.27h-15.46zM544.9 699.31h15.46v1.27h-15.46z"/><path fill="#a3a34e" d="M529.8 594.93h15.46v1.31h-15.46zM560.0 594.93h15.46v1.31h-15.46zM560.0 601.98h15.46v1.31h-15.46zM575.1 590.90h15.11v1.31h-15.11zM575.1 597.95h15.11v1.31h-15.11zM544.9 610.00h15.46v1.30h-15.46zM560.0 607.00h15.46v1.30h-15.46zM469.3 630.50h15.46v1.31h-15.46zM529.8 629.49h15.46v1.31h-15.46zM575.1 657.49h15.11v1.34h-15.11zM544.9 670.02h15.46v1.27h-15.46zM544.9 670.99h15.46v1.27h-15.46zM575.1 672.94h15.11v1.27h-15.11zM454.2 689.43h15.46v1.29h-15.46zM469.3 687.45h15.46v1.29h-15.46zM560.0 683.47h15.46v1.29h-15.46zM575.1 681.49h15.11v1.29h-15.11zM469.3 697.37h15.46v1.27h-15.46zM469.3 703.20h15.46v1.27h-15.46zM469.3 708.06h15.46v1.27h-15.46zM514.6 708.06h15.46v1.27h-15.46z"/><path fill="#cbcb2b" d="M560.0 590.90h15.46v1.31h-15.46zM469.3 650.67h15.46v1.31h-15.46zM484.4 637.56h15.46v1.31h-15.46zM529.8 639.58h15.46v1.31h-15.46zM544.9 628.48h15.46v1.31h-15.46zM544.9 630.50h15.46v1.31h-15.46zM454.2 684.47h15.46v1.29h-15.46zM454.2 688.44h15.46v1.29h-15.46z"/><path fill="#b7b73d" d="M560.0 591.91h15.46v1.31h-15.46zM560.0 611.00h15.46v1.30h-15.46zM484.4 636.55h15.46v1.31h-15.46zM529.8 644.62h15.46v1.31h-15.46zM514.6 661.67h15.46v1.34h-15.46zM454.2 683.47h15.46v1.29h-15.46zM469.3 696.40h15.46v1.27h-15.46z"/><path fill="#9c9c54" d="M560.0 592.91h15.46v1.31h-15.46zM560.0 602.99h15.46v1.31h-15.46zM560.0 608.00h15.46v1.30h-15.46zM469.3 639.58h15.46v1.31h-15.46zM484.4 633.52h15.46v1.31h-15.46zM529.8 620.41h15.46v1.31h-15.46zM529.8 640.59h15.46v1.31h-15.46zM529.8 642.60h15.46v1.31h-15.46zM560.0 661.67h15.46v1.34h-15.46zM560.0 662.71h15.46v1.34h-15.46zM575.1 655.40h15.11v1.34h-15.11zM575.1 660.62h15.11v1.34h-15.11zM484.4 672.94h15.46v1.27h-15.46zM529.8 669.05h15.46v1.27h-15.46zM529.8 674.88h15.46v1.27h-15.46zM469.3 693.41h15.46v1.29h-15.46zM454.2 703.20h15.46v1.27h-15.46zM469.3 700.29h15.46v1.27h-15.46zM469.3 706.11h15.46v1.27h-15.46zM484.4 705.14h15.46v1.27h-15.46z"/><path fill="#efef0c" d="M560.0 595.94h15.46v1.31h-15.46zM469.3 642.60h15.46v1.31h-15.46zM469.3 648.66h15.46v1.31h-15.46zM469.3 649.66h15.46v1.31h-15.46zM469.3 651.68h15.46v1.31h-15.46zM484.4 634.53h15.46v1.31h-15.46zM544.9 631.51h15.46v1.31h-15.46zM454.2 681.49h15.46v1.29h-15.46zM454.2 685.46h15.46v1.29h-15.46z"/><path fill="#d2d225" d="M560.0 596.94h15.46v1.31h-15.46zM560.0 609.00h15.46v1.30h-15.46zM469.3 652.69h15.46v1.31h-15.46zM484.4 631.51h15.46v1.31h-15.46zM529.8 624.44h15.46v1.31h-15.46zM529.8 673.91h15.46v1.27h-15.46zM454.2 686.45h15.46v1.29h-15.46z"/><path fill="#bdbd37" d="M560.0 597.95h15.46v1.31h-15.46zM560.0 599.96h15.46v1.31h-15.46zM469.3 643.61h15.46v1.31h-15.46zM469.3 647.65h15.46v1.31h-15.46zM484.4 638.57h15.46v1.31h-15.46zM544.9 632.51h15.46v1.31h-15.46zM529.8 667.10h15.46v1.27h-15.46zM529.8 672.94h15.46v1.27h-15.46zM529.8 675.85h15.46v1.27h-15.46z"/><path fill="#a9a948" d="M560.0 598.96h15.46v1.31h-15.46zM575.1 596.94h15.11v1.31h-15.11zM560.0 610.00h15.46v1.30h-15.46zM484.4 615.55h15.46v1.22h-15.46zM484.4 616.48h15.46v1.22h-15.46zM544.9 620.41h15.46v1.31h-15.46zM575.1 662.71h15.11v1.34h-15.11zM469.3 699.31h15.46v1.27h-15.46z"/><path fill="#b0b042" d="M560.0 600.97h15.46v1.31h-15.46zM529.8 608.00h15.46v1.30h-15.46zM484.4 613.70h15.46v1.22h-15.46zM484.4 628.48h15.46v1.31h-15.46zM544.9 633.52h15.46v1.31h-15.46zM544.9 640.59h15.46v1.31h-15.46zM575.1 634.53h15.11v1.31h-15.11zM454.2 679.50h15.46v1.29h-15.46zM454.2 693.41h15.46v1.29h-15.46zM575.1 682.48h15.11v1.29h-15.11zM469.3 707.09h15.46v1.27h-15.46zM484.4 701.26h15.46v1.27h-15.46z"/><path fill="#96965a" d="M575.1 595.94h15.11v1.31h-15.11zM575.1 598.96h15.11v1.31h-15.11zM469.3 620.41h15.46v1.31h-15.46zM529.8 630.50h15.46v1.31h-15.46zM529.8 634.53h15.46v1.31h-15.46zM560.0 641.59h15.46v1.31h-15.46zM575.1 621.42h15.11v1.31h-15.11zM575.1 646.64h15.11v1.31h-15.11zM499.5 661.67h15.46v1.34h-15.46zM575.1 656.44h15.11v1.34h-15.11zM469.3 673.91h15.46v1.27h-15.46zM514.6 667.10h15.46v1.27h-15.46zM529.8 670.99h15.46v1.27h-15.46zM544.9 668.07h15.46v1.27h-15.46zM575.1 667.10h15.11v1.27h-15.11zM469.3 679.50h15.46v1.29h-15.46zM575.1 690.43h15.11v1.29h-15.11zM575.1 691.42h15.11v1.29h-15.11zM454.2 699.31h15.46v1.27h-15.46zM454.2 702.23h15.46v1.27h-15.46zM469.3 704.17h15.46v1.27h-15.46zM469.3 709.03h15.46v1.27h-15.46zM529.8 703.20h15.46v1.27h-15.46z"/><path fill="#2b2bcb" d="M575.1 608.00h15.11v1.30h-15.11zM454.2 634.53h15.46v1.31h-15.46zM454.2 647.65h15.46v1.31h-15.46zM560.0 650.67h15.46v1.31h-15.46zM454.2 657.49h15.46v1.34h-15.46zM454.2 659.58h15.46v1.34h-15.46zM484.4 659.58h15.46v1.34h-15.46zM499.5 703.20h15.46v1.27h-15.46zM575.1 705.14h15.11v1.27h-15.11z"/><path fill="#c4c431" d="M484.4 614.62h15.46v1.22h-15.46zM484.4 632.51h15.46v1.31h-15.46zM484.4 635.54h15.46v1.31h-15.46zM544.9 626.46h15.46v1.31h-15.46zM575.1 663.76h15.11v1.34h-15.11zM454.2 687.45h15.46v1.29h-15.46zM454.2 690.43h15.46v1.29h-15.46zM469.3 702.23h15.46v1.27h-15.46z"/><path fill="#3131c4" d="M454.2 619.40h15.46v1.31h-15.46zM454.2 643.61h15.46v1.31h-15.46zM454.2 648.66h15.46v1.31h-15.46zM454.2 651.68h15.46v1.31h-15.46zM499.5 622.43h15.46v1.31h-15.46zM454.2 658.53h15.46v1.34h-15.46zM484.4 656.44h15.46v1.34h-15.46zM484.4 660.62h15.46v1.34h-15.46zM560.0 656.44h15.46v1.34h-15.46zM484.4 680.49h15.46v1.29h-15.46zM484.4 686.45h15.46v1.29h-15.46z"/><path fill="#1f1fda" d="M454.2 622.43h15.46v1.31h-15.46zM454.2 628.48h15.46v1.31h-15.46z"/><path fill="#0c0cef" d="M454.2 645.63h15.46v1.31h-15.46z"/><path fill="#1919e1" d="M454.2 646.64h15.46v1.31h-15.46zM484.4 655.40h15.46v1.34h-15.46z"/><path fill="#dada1f" d="M469.3 640.59h15.46v1.31h-15.46zM469.3 641.59h15.46v1.31h-15.46zM469.3 644.62h15.46v1.31h-15.46zM469.3 645.63h15.46v1.31h-15.46zM544.9 629.49h15.46v1.31h-15.46zM454.2 708.06h15.46v1.27h-15.46z"/><path fill="#e1e119" d="M469.3 646.64h15.46v1.31h-15.46zM484.4 630.50h15.46v1.31h-15.46zM544.9 627.47h15.46v1.31h-15.46zM454.2 691.42h15.46v1.29h-15.46zM454.2 692.41h15.46v1.29h-15.46z"/><path fill="#e8e812" d="M484.4 639.58h15.46v1.31h-15.46zM529.8 671.96h15.46v1.27h-15.46z"/>
<text x="478.5" y="560.6" font-size="11.8" fill="#111" textLength="87.40" lengthAdjust="spacingAndGlyphs">CD8 CD69<tspan font-size="7.3" baseline-shift="4.6">-</tspan>_Tm</text>
<defs><linearGradient id="kg" x1="0" y1="0" x2="0" y2="1"><stop offset="0" stop-color="#0000ff"/><stop offset="0.5" stop-color="#6b6b74"/><stop offset="1" stop-color="#ffff00"/></linearGradient></defs>
<rect x="592.9" y="590.9" width="4.3" height="67.9" fill="url(#kg)"/>
<text x="599.20" y="603.20" font-size="9.6" fill="#111">2</text>
<text x="599.20" y="615.90" font-size="9.6" fill="#111">1</text>
<text x="599.20" y="628.50" font-size="9.6" fill="#111">0</text>
<text x="599.00" y="641.50" font-size="9.6" fill="#111">-1</text>
<text x="599.00" y="654.30" font-size="9.6" fill="#111">-2</text>
<text x="616.20" y="591.70" font-size="9.2" font-weight="bold" fill="#111">Tissues</text>
<rect x="616.1" y="595.30" width="13.7" height="13.74" fill="#fa9e36"/>
<text x="632.90" y="605.40" font-size="9" fill="#111">Bm</text>
<rect x="616.1" y="608.94" width="13.7" height="13.74" fill="#efe24a"/>
<text x="632.90" y="619.04" font-size="9" fill="#111">Sk</text>
<rect x="616.1" y="622.58" width="13.7" height="13.74" fill="#bebebe"/>
<text x="632.90" y="632.68" font-size="9" fill="#111">Sp</text>
<rect x="616.1" y="636.22" width="13.7" height="13.74" fill="#00f6fa"/>
<text x="632.90" y="646.32" font-size="9" fill="#111">In</text>
<rect x="616.1" y="649.86" width="13.7" height="13.74" fill="#ee82ee"/>
<text x="632.90" y="659.96" font-size="9" fill="#111">Lu</text>
</svg>
</body></html>
